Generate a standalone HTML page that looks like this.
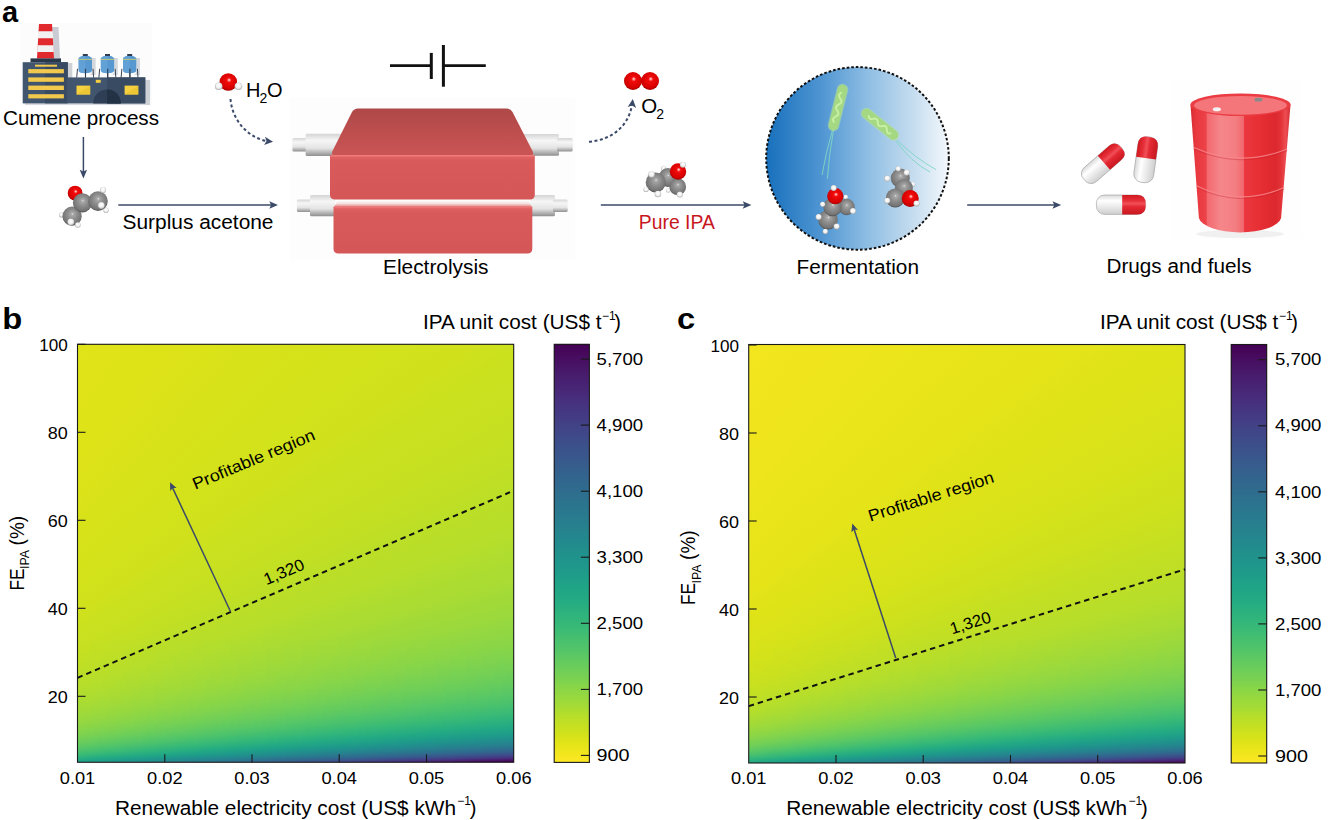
<!DOCTYPE html><html><head><meta charset="utf-8"><style>
html,body{margin:0;padding:0;background:#fff;}
body{width:1329px;height:820px;position:relative;overflow:hidden;font-family:"Liberation Sans",sans-serif;}
.abs{position:absolute;}
svg text{font-family:"Liberation Sans",sans-serif;}
</style></head><body>
<div class="abs" style="left:77.5px;top:344.3px;width:436.2px;height:418.0px;background:conic-gradient(from 0deg at -249.7px 439.7px, #ece51b 0.000deg,#eae51a 9.247deg,#e5e419 18.036deg,#e2e418 26.032deg,#dfe318 33.074deg,#dde318 39.147deg,#d8e219 44.329deg,#d5e21a 48.735deg,#d2e21b 52.484deg,#d0e11c 55.688deg,#cae11f 58.441deg,#c8e020 60.822deg,#c5e021 62.895deg,#c2df23 64.711deg,#bddf26 66.312deg,#bade28 67.732deg,#b8de29 68.999deg,#b5de2b 70.135deg,#b0dd2f 71.159deg,#addc30 72.086deg,#aadc32 72.928deg,#a8db34 73.697deg,#a2da37 74.401deg,#a0da39 75.048deg,#9dd93b 75.645deg,#9bd93c 76.197deg,#95d840 76.708deg,#93d741 77.184deg,#90d743 77.627deg,#8ed645 78.042deg,#8bd646 78.429deg,#86d549 78.793deg,#84d44b 79.135deg,#81d34d 79.456deg,#7fd34e 79.760deg,#7ad151 80.047deg,#77d153 80.318deg,#75d054 80.575deg,#73d056 80.818deg,#6ece58 81.050deg,#6ccd5a 81.270deg,#69cd5b 81.480deg,#67cc5c 81.680deg,#63cb5f 81.871deg,#60ca60 82.053deg,#5ec962 82.228deg,#5cc863 82.395deg,#58c765 82.555deg,#56c667 82.708deg,#54c568 82.855deg,#52c569 82.997deg,#4ec36b 83.133deg,#4cc26c 83.264deg,#4ac16d 83.390deg,#48c16e 83.511deg,#44bf70 83.628deg,#42be71 83.741deg,#40bd72 83.850deg,#3fbc73 83.955deg,#3dbc74 84.057deg,#3aba76 84.155deg,#38b977 84.250deg,#37b878 84.342deg,#35b779 84.432deg,#32b67a 84.518deg,#31b57b 84.602deg,#2fb47c 84.683deg,#2eb37c 84.762deg,#2cb17e 84.839deg,#2ab07f 84.913deg,#29af7f 84.985deg,#28ae80 85.056deg,#26ad81 85.124deg,#25ac82 85.191deg,#25ab82 85.255deg,#24aa83 85.318deg,#22a884 85.380deg,#22a785 85.439deg,#21a685 85.498deg,#21a585 85.554deg,#20a386 85.610deg,#1fa287 85.664deg,#1fa187 85.716deg,#1fa188 85.768deg,#1f9f88 85.818deg,#1f9e89 85.867deg,#1e9d89 85.915deg,#1e9c89 85.962deg,#1e9b8a 86.007deg,#1f998a 86.052deg,#1f988b 86.096deg,#1f978b 86.139deg,#1f968b 86.180deg,#1f948c 86.221deg,#20938c 86.262deg,#20928c 86.301deg,#20928c 86.339deg,#21908d 86.377deg,#218f8d 86.414deg,#218e8d 86.450deg,#228d8d 86.485deg,#228b8d 86.520deg,#238a8d 86.554deg,#23898e 86.587deg,#23888e 86.620deg,#24868e 86.652deg,#25858e 86.684deg,#25848e 86.715deg,#25838e 86.745deg,#26828e 86.775deg,#26818e 86.804deg,#27808e 86.833deg,#277f8e 86.861deg,#287d8e 86.889deg,#287c8e 86.916deg,#297b8e 86.943deg,#297a8e 86.969deg,#29798e 86.995deg,#2a778e 87.020deg,#2a768e 87.045deg,#2b758e 87.070deg,#2b748e 87.094deg,#2c728e 87.118deg,#2c718e 87.141deg,#2d718e 87.164deg,#2d708e 87.187deg,#2e6e8e 87.209deg,#2e6d8e 87.231deg,#2f6c8e 87.253deg,#2f6b8e 87.274deg,#30698e 87.295deg,#31688e 87.316deg,#31678e 87.336deg,#31668e 87.356deg,#32648e 87.376deg,#33638d 87.395deg,#33628d 87.414deg,#34618d 87.433deg,#355f8d 87.452deg,#355e8d 87.470deg,#365d8d 87.488deg,#365c8d 87.506deg,#375a8c 87.523deg,#38598c 87.541deg,#38588c 87.558deg,#39568c 87.574deg,#39558c 87.591deg,#3a538b 87.607deg,#3b528b 87.624deg,#3b518b 87.639deg,#3c508b 87.655deg,#3d4e8a 87.671deg,#3d4d8a 87.686deg,#3e4c8a 87.701deg,#3e4a89 87.716deg,#3f4889 87.731deg,#3f4788 87.745deg,#404688 87.760deg,#404588 87.774deg,#414287 87.788deg,#424186 87.802deg,#424086 87.815deg,#423f85 87.829deg,#433d84 87.842deg,#443b84 87.855deg,#443a83 87.868deg,#443983 87.881deg,#453781 87.894deg,#453581 87.906deg,#463480 87.919deg,#46337f 87.931deg,#46307e 87.943deg,#472f7d 87.955deg,#472e7c 87.967deg,#472d7b 87.978deg,#472c7a 87.990deg,#482979 88.001deg,#482878 88.013deg,#482677 88.024deg,#482576 88.035deg,#482374 88.046deg,#482173 88.056deg,#482071 88.067deg,#481f70 88.078deg,#481c6e 88.088deg,#481b6d 88.098deg,#481a6c 88.109deg,#48186a 88.119deg,#481668 88.129deg,#481467 88.139deg,#471365 88.148deg,#471164 88.158deg,#470e61 88.168deg,#470d60 88.177deg,#460b5e 88.187deg,#460a5d 88.196deg,#46075a 88.205deg,#450559 88.214deg,#450457 88.223deg,#440256 88.232deg,#440154 88.241deg,#440154 89.990deg,#440154 90deg)"></div><div class="abs" style="left:77.5px;top:640.0px;width:436.2px;height:122.3px;overflow:hidden"><div class="abs" style="left:0px;top:0;width:4px;height:100%;background:linear-gradient(#c8e020 0.00%,#c5e021 7.97%,#c2df23 15.40%,#c0df25 22.33%,#bade28 28.79%,#b8de29 34.81%,#b5de2b 40.42%,#b0dd2f 45.66%,#aadc32 50.54%,#a5db36 55.09%,#a0da39 59.33%,#9bd93c 63.28%,#95d840 66.97%,#8ed645 70.41%,#89d548 73.61%,#81d34d 76.60%,#77d153 79.38%,#70cf57 81.98%,#67cc5c 84.40%,#5ec962 86.66%,#56c667 88.76%,#4cc26c 90.72%,#42be71 92.55%,#38b977 94.26%,#2fb47c 95.85%,#27ad81 97.33%,#21a685 98.71%,#1f9f88 100.00%)"></div><div class="abs" style="left:4px;top:0;width:4px;height:100%;background:linear-gradient(#c8e020 0.00%,#c5e021 7.97%,#c2df23 15.40%,#bddf26 22.33%,#bade28 28.79%,#b8de29 34.81%,#b2dd2d 40.42%,#b0dd2f 45.66%,#aadc32 50.54%,#a5db36 55.09%,#a0da39 59.33%,#9bd93c 63.28%,#93d741 66.97%,#8ed645 70.41%,#86d549 73.61%,#7fd34e 76.60%,#77d153 79.38%,#6ece58 81.98%,#65cb5e 84.40%,#5cc863 86.66%,#54c568 88.76%,#4ac16d 90.72%,#40bd72 92.55%,#37b878 94.26%,#2eb37c 95.85%,#26ad81 97.33%,#21a585 98.71%,#1f9e89 100.00%)"></div><div class="abs" style="left:8px;top:0;width:4px;height:100%;background:linear-gradient(#c8e020 0.00%,#c5e021 7.97%,#c0df25 15.40%,#bddf26 22.33%,#bade28 28.79%,#b8de29 34.81%,#b2dd2d 40.42%,#addc30 45.66%,#aadc32 50.54%,#a5db36 55.09%,#a0da39 59.33%,#98d83e 63.28%,#93d741 66.97%,#8bd646 70.41%,#84d44b 73.61%,#7cd250 76.60%,#75d054 79.38%,#6ece58 81.98%,#65cb5e 84.40%,#5ac864 86.66%,#52c569 88.76%,#48c16e 90.72%,#3fbc73 92.55%,#35b779 94.26%,#2cb17e 95.85%,#25ab82 97.33%,#20a486 98.71%,#1e9d89 100.00%)"></div><div class="abs" style="left:12px;top:0;width:4px;height:100%;background:linear-gradient(#c5e021 0.00%,#c2df23 7.97%,#c0df25 15.40%,#bddf26 22.33%,#bade28 28.79%,#b5de2b 34.81%,#b2dd2d 40.42%,#addc30 45.66%,#a8db34 50.54%,#a2da37 55.09%,#9dd93b 59.33%,#98d83e 63.28%,#90d743 66.97%,#8bd646 70.41%,#84d44b 73.61%,#7cd250 76.60%,#73d056 79.38%,#6ccd5a 81.98%,#63cb5f 84.40%,#5ac864 86.66%,#50c46a 88.76%,#46c06f 90.72%,#3dbc74 92.55%,#34b679 94.26%,#2ab07f 95.85%,#24aa83 97.33%,#20a386 98.71%,#1e9b8a 100.00%)"></div><div class="abs" style="left:16px;top:0;width:4px;height:100%;background:linear-gradient(#c5e021 0.00%,#c2df23 7.97%,#c0df25 15.40%,#bddf26 22.33%,#b8de29 28.79%,#b5de2b 34.81%,#b0dd2f 40.42%,#addc30 45.66%,#a8db34 50.54%,#a2da37 55.09%,#9dd93b 59.33%,#95d840 63.28%,#90d743 66.97%,#89d548 70.41%,#81d34d 73.61%,#7ad151 76.60%,#73d056 79.38%,#69cd5b 81.98%,#60ca60 84.40%,#58c765 86.66%,#4ec36b 88.76%,#44bf70 90.72%,#3bbb75 92.55%,#32b67a 94.26%,#29af7f 95.85%,#23a983 97.33%,#1fa187 98.71%,#1f9a8a 100.00%)"></div><div class="abs" style="left:20px;top:0;width:4px;height:100%;background:linear-gradient(#c5e021 0.00%,#c2df23 7.97%,#c0df25 15.40%,#bade28 22.33%,#b8de29 28.79%,#b5de2b 34.81%,#b0dd2f 40.42%,#aadc32 45.66%,#a5db36 50.54%,#a0da39 55.09%,#9bd93c 59.33%,#95d840 63.28%,#8ed645 66.97%,#89d548 70.41%,#81d34d 73.61%,#7ad151 76.60%,#70cf57 79.38%,#67cc5c 81.98%,#5ec962 84.40%,#56c667 86.66%,#4cc26c 88.76%,#42be71 90.72%,#3aba76 92.55%,#31b57b 94.26%,#28ae80 95.85%,#22a884 97.33%,#1fa188 98.71%,#1f988b 100.00%)"></div><div class="abs" style="left:24px;top:0;width:4px;height:100%;background:linear-gradient(#c5e021 0.00%,#c2df23 7.97%,#bddf26 15.40%,#bade28 22.33%,#b8de29 28.79%,#b2dd2d 34.81%,#b0dd2f 40.42%,#aadc32 45.66%,#a5db36 50.54%,#a0da39 55.09%,#9bd93c 59.33%,#95d840 63.28%,#8ed645 66.97%,#86d549 70.41%,#7fd34e 73.61%,#77d153 76.60%,#70cf57 79.38%,#67cc5c 81.98%,#5ec962 84.40%,#54c568 86.66%,#4ac16d 88.76%,#40bd72 90.72%,#38b977 92.55%,#2eb37c 94.26%,#27ad81 95.85%,#22a785 97.33%,#1fa088 98.71%,#1f978b 100.00%)"></div><div class="abs" style="left:28px;top:0;width:4px;height:100%;background:linear-gradient(#c5e021 0.00%,#c0df25 7.97%,#bddf26 15.40%,#bade28 22.33%,#b8de29 28.79%,#b2dd2d 34.81%,#addc30 40.42%,#aadc32 45.66%,#a5db36 50.54%,#a0da39 55.09%,#98d83e 59.33%,#93d741 63.28%,#8bd646 66.97%,#86d549 70.41%,#7fd34e 73.61%,#75d054 76.60%,#6ece58 79.38%,#65cb5e 81.98%,#5cc863 84.40%,#52c569 86.66%,#4ac16d 88.76%,#3fbc73 90.72%,#37b878 92.55%,#2db27d 94.26%,#26ad81 95.85%,#21a585 97.33%,#1f9e89 98.71%,#1f968b 100.00%)"></div><div class="abs" style="left:32px;top:0;width:4px;height:100%;background:linear-gradient(#c2df23 0.00%,#c0df25 7.97%,#bddf26 15.40%,#bade28 22.33%,#b5de2b 28.79%,#b2dd2d 34.81%,#addc30 40.42%,#a8db34 45.66%,#a2da37 50.54%,#9dd93b 55.09%,#98d83e 59.33%,#93d741 63.28%,#8bd646 66.97%,#84d44b 70.41%,#7cd250 73.61%,#75d054 76.60%,#6ccd5a 79.38%,#63cb5f 81.98%,#5ac864 84.40%,#52c569 86.66%,#48c16e 88.76%,#3dbc74 90.72%,#35b779 92.55%,#2cb17e 94.26%,#25ac82 95.85%,#20a486 97.33%,#1e9d89 98.71%,#1f948c 100.00%)"></div><div class="abs" style="left:36px;top:0;width:4px;height:100%;background:linear-gradient(#c2df23 0.00%,#c0df25 7.97%,#bddf26 15.40%,#b8de29 22.33%,#b5de2b 28.79%,#b0dd2f 34.81%,#addc30 40.42%,#a8db34 45.66%,#a2da37 50.54%,#9dd93b 55.09%,#98d83e 59.33%,#90d743 63.28%,#89d548 66.97%,#84d44b 70.41%,#7cd250 73.61%,#73d056 76.60%,#6ccd5a 79.38%,#63cb5f 81.98%,#58c765 84.40%,#50c46a 86.66%,#46c06f 88.76%,#3dbc74 90.72%,#34b679 92.55%,#2ab07f 94.26%,#24aa83 95.85%,#20a386 97.33%,#1e9c89 98.71%,#20938c 100.00%)"></div><div class="abs" style="left:40px;top:0;width:4px;height:100%;background:linear-gradient(#c2df23 0.00%,#c0df25 7.97%,#bddf26 15.40%,#b8de29 22.33%,#b5de2b 28.79%,#b0dd2f 34.81%,#aadc32 40.42%,#a8db34 45.66%,#a2da37 50.54%,#9bd93c 55.09%,#95d840 59.33%,#90d743 63.28%,#89d548 66.97%,#81d34d 70.41%,#7ad151 73.61%,#73d056 76.60%,#69cd5b 79.38%,#60ca60 81.98%,#58c765 84.40%,#4ec36b 86.66%,#44bf70 88.76%,#3bbb75 90.72%,#32b67a 92.55%,#29af7f 94.26%,#23a983 95.85%,#1fa287 97.33%,#1f9a8a 98.71%,#20928c 100.00%)"></div><div class="abs" style="left:44px;top:0;width:4px;height:100%;background:linear-gradient(#c2df23 0.00%,#c0df25 7.97%,#bade28 15.40%,#b8de29 22.33%,#b2dd2d 28.79%,#b0dd2f 34.81%,#aadc32 40.42%,#a5db36 45.66%,#a0da39 50.54%,#9bd93c 55.09%,#95d840 59.33%,#8ed645 63.28%,#89d548 66.97%,#81d34d 70.41%,#77d153 73.61%,#70cf57 76.60%,#67cc5c 79.38%,#5ec962 81.98%,#56c667 84.40%,#4cc26c 86.66%,#42be71 88.76%,#3aba76 90.72%,#31b57b 92.55%,#28ae80 94.26%,#22a884 95.85%,#1fa188 97.33%,#1f998a 98.71%,#21918c 100.00%)"></div><div class="abs" style="left:48px;top:0;width:4px;height:100%;background:linear-gradient(#c2df23 0.00%,#bddf26 7.97%,#bade28 15.40%,#b8de29 22.33%,#b2dd2d 28.79%,#addc30 34.81%,#aadc32 40.42%,#a5db36 45.66%,#a0da39 50.54%,#9bd93c 55.09%,#93d741 59.33%,#8ed645 63.28%,#86d549 66.97%,#7fd34e 70.41%,#77d153 73.61%,#6ece58 76.60%,#67cc5c 79.38%,#5ec962 81.98%,#54c568 84.40%,#4ac16d 86.66%,#40bd72 88.76%,#38b977 90.72%,#2fb47c 92.55%,#27ad81 94.26%,#22a785 95.85%,#1fa088 97.33%,#1f988b 98.71%,#21908d 100.00%)"></div><div class="abs" style="left:52px;top:0;width:4px;height:100%;background:linear-gradient(#c0df25 0.00%,#bddf26 7.97%,#bade28 15.40%,#b5de2b 22.33%,#b2dd2d 28.79%,#addc30 34.81%,#a8db34 40.42%,#a5db36 45.66%,#9dd93b 50.54%,#98d83e 55.09%,#93d741 59.33%,#8bd646 63.28%,#86d549 66.97%,#7fd34e 70.41%,#75d054 73.61%,#6ece58 76.60%,#65cb5e 79.38%,#5cc863 81.98%,#52c569 84.40%,#4ac16d 86.66%,#3fbc73 88.76%,#37b878 90.72%,#2eb37c 92.55%,#26ad81 94.26%,#21a685 95.85%,#1f9f88 97.33%,#1f968b 98.71%,#218e8d 100.00%)"></div><div class="abs" style="left:56px;top:0;width:4px;height:100%;background:linear-gradient(#c0df25 0.00%,#bddf26 7.97%,#bade28 15.40%,#b5de2b 22.33%,#b2dd2d 28.79%,#addc30 34.81%,#a8db34 40.42%,#a2da37 45.66%,#9dd93b 50.54%,#98d83e 55.09%,#90d743 59.33%,#8bd646 63.28%,#84d44b 66.97%,#7cd250 70.41%,#75d054 73.61%,#6ccd5a 76.60%,#63cb5f 79.38%,#5ac864 81.98%,#52c569 84.40%,#48c16e 86.66%,#3fbc73 88.76%,#35b779 90.72%,#2db27d 92.55%,#25ac82 94.26%,#21a585 95.85%,#1f9e89 97.33%,#1f958b 98.71%,#228d8d 100.00%)"></div><div class="abs" style="left:60px;top:0;width:4px;height:100%;background:linear-gradient(#c0df25 0.00%,#bddf26 7.97%,#b8de29 15.40%,#b5de2b 22.33%,#b0dd2f 28.79%,#addc30 34.81%,#a8db34 40.42%,#a2da37 45.66%,#9dd93b 50.54%,#95d840 55.09%,#90d743 59.33%,#89d548 63.28%,#84d44b 66.97%,#7ad151 70.41%,#73d056 73.61%,#6ccd5a 76.60%,#63cb5f 79.38%,#5ac864 81.98%,#50c46a 84.40%,#46c06f 86.66%,#3dbc74 88.76%,#34b679 90.72%,#2cb17e 92.55%,#25ab82 94.26%,#20a486 95.85%,#1e9d89 97.33%,#1f948c 98.71%,#228b8d 100.00%)"></div><div class="abs" style="left:64px;top:0;width:4px;height:100%;background:linear-gradient(#c0df25 0.00%,#bade28 7.97%,#b8de29 15.40%,#b5de2b 22.33%,#b0dd2f 28.79%,#aadc32 34.81%,#a5db36 40.42%,#a0da39 45.66%,#9bd93c 50.54%,#95d840 55.09%,#90d743 59.33%,#89d548 63.28%,#81d34d 66.97%,#7ad151 70.41%,#73d056 73.61%,#69cd5b 76.60%,#60ca60 79.38%,#58c765 81.98%,#4ec36b 84.40%,#44bf70 86.66%,#3bbb75 88.76%,#32b67a 90.72%,#2ab07f 92.55%,#24aa83 94.26%,#1fa287 95.85%,#1e9b8a 97.33%,#20938c 98.71%,#238a8d 100.00%)"></div><div class="abs" style="left:68px;top:0;width:4px;height:100%;background:linear-gradient(#bddf26 0.00%,#bade28 7.97%,#b8de29 15.40%,#b2dd2d 22.33%,#b0dd2f 28.79%,#aadc32 34.81%,#a5db36 40.42%,#a0da39 45.66%,#9bd93c 50.54%,#95d840 55.09%,#8ed645 59.33%,#86d549 63.28%,#81d34d 66.97%,#77d153 70.41%,#70cf57 73.61%,#67cc5c 76.60%,#5ec962 79.38%,#56c667 81.98%,#4cc26c 84.40%,#42be71 86.66%,#3aba76 88.76%,#31b57b 90.72%,#29af7f 92.55%,#23a983 94.26%,#1fa187 95.85%,#1f9a8a 97.33%,#20928c 98.71%,#23898e 100.00%)"></div><div class="abs" style="left:72px;top:0;width:4px;height:100%;background:linear-gradient(#bddf26 0.00%,#bade28 7.97%,#b8de29 15.40%,#b2dd2d 22.33%,#addc30 28.79%,#aadc32 34.81%,#a5db36 40.42%,#a0da39 45.66%,#9bd93c 50.54%,#93d741 55.09%,#8ed645 59.33%,#86d549 63.28%,#7fd34e 66.97%,#77d153 70.41%,#6ece58 73.61%,#67cc5c 76.60%,#5ec962 79.38%,#54c568 81.98%,#4cc26c 84.40%,#42be71 86.66%,#38b977 88.76%,#2fb47c 90.72%,#28ae80 92.55%,#22a884 94.26%,#1fa188 95.85%,#1f998a 97.33%,#21918c 98.71%,#24878e 100.00%)"></div><div class="abs" style="left:76px;top:0;width:4px;height:100%;background:linear-gradient(#bddf26 0.00%,#bade28 7.97%,#b5de2b 15.40%,#b2dd2d 22.33%,#addc30 28.79%,#a8db34 34.81%,#a2da37 40.42%,#9dd93b 45.66%,#98d83e 50.54%,#93d741 55.09%,#8bd646 59.33%,#86d549 63.28%,#7fd34e 66.97%,#75d054 70.41%,#6ece58 73.61%,#65cb5e 76.60%,#5cc863 79.38%,#54c568 81.98%,#4ac16d 84.40%,#40bd72 86.66%,#37b878 88.76%,#2eb37c 90.72%,#27ad81 92.55%,#22a785 94.26%,#1fa088 95.85%,#1f988b 97.33%,#21908d 98.71%,#24868e 100.00%)"></div><div class="abs" style="left:80px;top:0;width:4px;height:100%;background:linear-gradient(#bddf26 0.00%,#b8de29 7.97%,#b5de2b 15.40%,#b2dd2d 22.33%,#addc30 28.79%,#a8db34 34.81%,#a2da37 40.42%,#9dd93b 45.66%,#98d83e 50.54%,#90d743 55.09%,#8bd646 59.33%,#84d44b 63.28%,#7cd250 66.97%,#75d054 70.41%,#6ccd5a 73.61%,#65cb5e 76.60%,#5ac864 79.38%,#52c569 81.98%,#48c16e 84.40%,#3fbc73 86.66%,#35b779 88.76%,#2db27d 90.72%,#26ad81 92.55%,#21a685 94.26%,#1f9f88 95.85%,#1f968b 97.33%,#218e8d 98.71%,#25848e 100.00%)"></div><div class="abs" style="left:84px;top:0;width:4px;height:100%;background:linear-gradient(#bddf26 0.00%,#b8de29 7.97%,#b5de2b 15.40%,#b0dd2f 22.33%,#addc30 28.79%,#a8db34 34.81%,#a2da37 40.42%,#9dd93b 45.66%,#98d83e 50.54%,#90d743 55.09%,#89d548 59.33%,#84d44b 63.28%,#7cd250 66.97%,#73d056 70.41%,#6ccd5a 73.61%,#63cb5f 76.60%,#5ac864 79.38%,#50c46a 81.98%,#46c06f 84.40%,#3dbc74 86.66%,#35b779 88.76%,#2cb17e 90.72%,#25ac82 92.55%,#21a585 94.26%,#1f9e89 95.85%,#1f958b 97.33%,#228d8d 98.71%,#25838e 100.00%)"></div><div class="abs" style="left:88px;top:0;width:4px;height:100%;background:linear-gradient(#bade28 0.00%,#b8de29 7.97%,#b5de2b 15.40%,#b0dd2f 22.33%,#aadc32 28.79%,#a5db36 34.81%,#a2da37 40.42%,#9bd93c 45.66%,#95d840 50.54%,#90d743 55.09%,#89d548 59.33%,#81d34d 63.28%,#7ad151 66.97%,#73d056 70.41%,#69cd5b 73.61%,#60ca60 76.60%,#58c765 79.38%,#50c46a 81.98%,#46c06f 84.40%,#3bbb75 86.66%,#34b679 88.76%,#2cb17e 90.72%,#25ab82 92.55%,#20a486 94.26%,#1e9d89 95.85%,#1f948c 97.33%,#228c8d 98.71%,#26828e 100.00%)"></div><div class="abs" style="left:92px;top:0;width:4px;height:100%;background:linear-gradient(#bade28 0.00%,#b8de29 7.97%,#b2dd2d 15.40%,#b0dd2f 22.33%,#aadc32 28.79%,#a5db36 34.81%,#a0da39 40.42%,#9bd93c 45.66%,#95d840 50.54%,#8ed645 55.09%,#89d548 59.33%,#81d34d 63.28%,#7ad151 66.97%,#70cf57 70.41%,#69cd5b 73.61%,#60ca60 76.60%,#56c667 79.38%,#4ec36b 81.98%,#44bf70 84.40%,#3bbb75 86.66%,#32b67a 88.76%,#2ab07f 90.72%,#24aa83 92.55%,#1fa287 94.26%,#1e9b8a 95.85%,#20938c 97.33%,#238a8d 98.71%,#26818e 100.00%)"></div><div class="abs" style="left:96px;top:0;width:4px;height:100%;background:linear-gradient(#bade28 0.00%,#b8de29 7.97%,#b2dd2d 15.40%,#addc30 22.33%,#aadc32 28.79%,#a5db36 34.81%,#a0da39 40.42%,#9bd93c 45.66%,#93d741 50.54%,#8ed645 55.09%,#86d549 59.33%,#7fd34e 63.28%,#77d153 66.97%,#70cf57 70.41%,#67cc5c 73.61%,#5ec962 76.60%,#56c667 79.38%,#4cc26c 81.98%,#42be71 84.40%,#3aba76 86.66%,#31b57b 88.76%,#29af7f 90.72%,#23a983 92.55%,#1fa187 94.26%,#1f9a8a 95.85%,#20928c 97.33%,#23898e 98.71%,#27808e 100.00%)"></div><div class="abs" style="left:100px;top:0;width:4px;height:100%;background:linear-gradient(#bade28 0.00%,#b5de2b 7.97%,#b2dd2d 15.40%,#addc30 22.33%,#a8db34 28.79%,#a5db36 34.81%,#a0da39 40.42%,#98d83e 45.66%,#93d741 50.54%,#8bd646 55.09%,#86d549 59.33%,#7fd34e 63.28%,#77d153 66.97%,#6ece58 70.41%,#67cc5c 73.61%,#5ec962 76.60%,#54c568 79.38%,#4cc26c 81.98%,#40bd72 84.40%,#38b977 86.66%,#2fb47c 88.76%,#28ae80 90.72%,#22a884 92.55%,#1fa188 94.26%,#1f998a 95.85%,#21918c 97.33%,#23888e 98.71%,#277e8e 100.00%)"></div><div class="abs" style="left:104px;top:0;width:4px;height:100%;background:linear-gradient(#bade28 0.00%,#b5de2b 7.97%,#b2dd2d 15.40%,#addc30 22.33%,#a8db34 28.79%,#a2da37 34.81%,#9dd93b 40.42%,#98d83e 45.66%,#93d741 50.54%,#8bd646 55.09%,#84d44b 59.33%,#7cd250 63.28%,#75d054 66.97%,#6ece58 70.41%,#65cb5e 73.61%,#5cc863 76.60%,#54c568 79.38%,#4ac16d 81.98%,#40bd72 84.40%,#37b878 86.66%,#2eb37c 88.76%,#27ad81 90.72%,#22a785 92.55%,#1fa088 94.26%,#1f988b 95.85%,#21908d 97.33%,#24868e 98.71%,#287d8e 100.00%)"></div><div class="abs" style="left:108px;top:0;width:4px;height:100%;background:linear-gradient(#b8de29 0.00%,#b5de2b 7.97%,#b0dd2f 15.40%,#addc30 22.33%,#a8db34 28.79%,#a2da37 34.81%,#9dd93b 40.42%,#98d83e 45.66%,#90d743 50.54%,#8bd646 55.09%,#84d44b 59.33%,#7cd250 63.28%,#75d054 66.97%,#6ccd5a 70.41%,#63cb5f 73.61%,#5ac864 76.60%,#52c569 79.38%,#48c16e 81.98%,#3fbc73 84.40%,#35b779 86.66%,#2db27d 88.76%,#26ad81 90.72%,#21a685 92.55%,#1f9f88 94.26%,#1f978b 95.85%,#218f8d 97.33%,#25858e 98.71%,#297b8e 100.00%)"></div><div class="abs" style="left:112px;top:0;width:4px;height:100%;background:linear-gradient(#b8de29 0.00%,#b5de2b 7.97%,#b0dd2f 15.40%,#aadc32 22.33%,#a8db34 28.79%,#a2da37 34.81%,#9dd93b 40.42%,#95d840 45.66%,#90d743 50.54%,#89d548 55.09%,#81d34d 59.33%,#7ad151 63.28%,#73d056 66.97%,#6ccd5a 70.41%,#63cb5f 73.61%,#5ac864 76.60%,#50c46a 79.38%,#46c06f 81.98%,#3dbc74 84.40%,#35b779 86.66%,#2db27d 88.76%,#25ac82 90.72%,#21a585 92.55%,#1f9e89 94.26%,#1f968b 95.85%,#218e8d 97.33%,#25848e 98.71%,#297a8e 100.00%)"></div><div class="abs" style="left:116px;top:0;width:4px;height:100%;background:linear-gradient(#b8de29 0.00%,#b2dd2d 7.97%,#b0dd2f 15.40%,#aadc32 22.33%,#a5db36 28.79%,#a0da39 34.81%,#9bd93c 40.42%,#95d840 45.66%,#90d743 50.54%,#89d548 55.09%,#81d34d 59.33%,#7ad151 63.28%,#73d056 66.97%,#69cd5b 70.41%,#60ca60 73.61%,#58c765 76.60%,#50c46a 79.38%,#46c06f 81.98%,#3dbc74 84.40%,#34b679 86.66%,#2cb17e 88.76%,#25ab82 90.72%,#20a486 92.55%,#1e9d89 94.26%,#1f958b 95.85%,#228c8d 97.33%,#26828e 98.71%,#29798e 100.00%)"></div><div class="abs" style="left:120px;top:0;width:4px;height:100%;background:linear-gradient(#b8de29 0.00%,#b2dd2d 7.97%,#b0dd2f 15.40%,#aadc32 22.33%,#a5db36 28.79%,#a0da39 34.81%,#9bd93c 40.42%,#95d840 45.66%,#8ed645 50.54%,#86d549 55.09%,#81d34d 59.33%,#7ad151 63.28%,#70cf57 66.97%,#69cd5b 70.41%,#60ca60 73.61%,#56c667 76.60%,#4ec36b 79.38%,#44bf70 81.98%,#3bbb75 84.40%,#32b67a 86.66%,#2ab07f 88.76%,#24aa83 90.72%,#20a386 92.55%,#1e9c89 94.26%,#20938c 95.85%,#228b8d 97.33%,#26828e 98.71%,#2a778e 100.00%)"></div><div class="abs" style="left:124px;top:0;width:4px;height:100%;background:linear-gradient(#b5de2b 0.00%,#b2dd2d 7.97%,#addc30 15.40%,#aadc32 22.33%,#a5db36 28.79%,#a0da39 34.81%,#9bd93c 40.42%,#93d741 45.66%,#8ed645 50.54%,#86d549 55.09%,#7fd34e 59.33%,#77d153 63.28%,#70cf57 66.97%,#67cc5c 70.41%,#5ec962 73.61%,#56c667 76.60%,#4cc26c 79.38%,#42be71 81.98%,#3aba76 84.40%,#31b57b 86.66%,#29af7f 88.76%,#23a983 90.72%,#1fa287 92.55%,#1e9b8a 94.26%,#20928c 95.85%,#238a8d 97.33%,#26818e 98.71%,#2a768e 100.00%)"></div><div class="abs" style="left:128px;top:0;width:4px;height:100%;background:linear-gradient(#b5de2b 0.00%,#b2dd2d 7.97%,#addc30 15.40%,#a8db34 22.33%,#a5db36 28.79%,#9dd93b 34.81%,#98d83e 40.42%,#93d741 45.66%,#8bd646 50.54%,#86d549 55.09%,#7fd34e 59.33%,#77d153 63.28%,#6ece58 66.97%,#67cc5c 70.41%,#5ec962 73.61%,#54c568 76.60%,#4cc26c 79.38%,#42be71 81.98%,#38b977 84.40%,#2fb47c 86.66%,#28ae80 88.76%,#22a884 90.72%,#1fa187 92.55%,#1f9a8a 94.26%,#20928c 95.85%,#23898e 97.33%,#27808e 98.71%,#2b748e 100.00%)"></div><div class="abs" style="left:132px;top:0;width:4px;height:100%;background:linear-gradient(#b5de2b 0.00%,#b2dd2d 7.97%,#addc30 15.40%,#a8db34 22.33%,#a2da37 28.79%,#9dd93b 34.81%,#98d83e 40.42%,#93d741 45.66%,#8bd646 50.54%,#84d44b 55.09%,#7cd250 59.33%,#75d054 63.28%,#6ece58 66.97%,#65cb5e 70.41%,#5cc863 73.61%,#54c568 76.60%,#4ac16d 79.38%,#40bd72 81.98%,#38b977 84.40%,#2fb47c 86.66%,#27ad81 88.76%,#22a785 90.72%,#1fa188 92.55%,#1f998a 94.26%,#21918c 95.85%,#23888e 97.33%,#277e8e 98.71%,#2c738e 100.00%)"></div><div class="abs" style="left:136px;top:0;width:4px;height:100%;background:linear-gradient(#b5de2b 0.00%,#b0dd2f 7.97%,#addc30 15.40%,#a8db34 22.33%,#a2da37 28.79%,#9dd93b 34.81%,#98d83e 40.42%,#90d743 45.66%,#8bd646 50.54%,#84d44b 55.09%,#7cd250 59.33%,#75d054 63.28%,#6ccd5a 66.97%,#63cb5f 70.41%,#5ac864 73.61%,#52c569 76.60%,#48c16e 79.38%,#3fbc73 81.98%,#37b878 84.40%,#2eb37c 86.66%,#26ad81 88.76%,#21a685 90.72%,#1fa088 92.55%,#1f988b 94.26%,#21908d 95.85%,#24868e 97.33%,#287d8e 98.71%,#2c728e 100.00%)"></div><div class="abs" style="left:140px;top:0;width:4px;height:100%;background:linear-gradient(#b5de2b 0.00%,#b0dd2f 7.97%,#aadc32 15.40%,#a8db34 22.33%,#a2da37 28.79%,#9dd93b 34.81%,#95d840 40.42%,#90d743 45.66%,#89d548 50.54%,#84d44b 55.09%,#7ad151 59.33%,#73d056 63.28%,#6ccd5a 66.97%,#63cb5f 70.41%,#5ac864 73.61%,#50c46a 76.60%,#48c16e 79.38%,#3fbc73 81.98%,#35b779 84.40%,#2db27d 86.66%,#26ad81 88.76%,#21a685 90.72%,#1f9f88 92.55%,#1f978b 94.26%,#218f8d 95.85%,#25858e 97.33%,#287c8e 98.71%,#2d718e 100.00%)"></div><div class="abs" style="left:144px;top:0;width:4px;height:100%;background:linear-gradient(#b2dd2d 0.00%,#b0dd2f 7.97%,#aadc32 15.40%,#a5db36 22.33%,#a0da39 28.79%,#9bd93c 34.81%,#95d840 40.42%,#90d743 45.66%,#89d548 50.54%,#81d34d 55.09%,#7ad151 59.33%,#73d056 63.28%,#69cd5b 66.97%,#60ca60 70.41%,#58c765 73.61%,#50c46a 76.60%,#46c06f 79.38%,#3dbc74 81.98%,#34b679 84.40%,#2cb17e 86.66%,#25ac82 88.76%,#21a585 90.72%,#1f9e89 92.55%,#1f968b 94.26%,#218e8d 95.85%,#25848e 97.33%,#297a8e 98.71%,#2d708e 100.00%)"></div><div class="abs" style="left:148px;top:0;width:4px;height:100%;background:linear-gradient(#b2dd2d 0.00%,#b0dd2f 7.97%,#aadc32 15.40%,#a5db36 22.33%,#a0da39 28.79%,#9bd93c 34.81%,#95d840 40.42%,#8ed645 45.66%,#89d548 50.54%,#81d34d 55.09%,#7ad151 59.33%,#70cf57 63.28%,#69cd5b 66.97%,#60ca60 70.41%,#58c765 73.61%,#4ec36b 76.60%,#44bf70 79.38%,#3bbb75 81.98%,#34b679 84.40%,#2ab07f 86.66%,#25ab82 88.76%,#20a486 90.72%,#1e9d89 92.55%,#1f958b 94.26%,#228d8d 95.85%,#25838e 97.33%,#29798e 98.71%,#2e6e8e 100.00%)"></div><div class="abs" style="left:152px;top:0;width:4px;height:100%;background:linear-gradient(#b2dd2d 0.00%,#addc30 7.97%,#aadc32 15.40%,#a5db36 22.33%,#a0da39 28.79%,#9bd93c 34.81%,#93d741 40.42%,#8ed645 45.66%,#86d549 50.54%,#7fd34e 55.09%,#77d153 59.33%,#70cf57 63.28%,#67cc5c 66.97%,#5ec962 70.41%,#56c667 73.61%,#4ec36b 76.60%,#44bf70 79.38%,#3aba76 81.98%,#32b67a 84.40%,#2ab07f 86.66%,#24aa83 88.76%,#20a386 90.72%,#1e9c89 92.55%,#1f948c 94.26%,#228b8d 95.85%,#26828e 97.33%,#2a788e 98.71%,#2e6d8e 100.00%)"></div><div class="abs" style="left:156px;top:0;width:4px;height:100%;background:linear-gradient(#b2dd2d 0.00%,#addc30 7.97%,#a8db34 15.40%,#a5db36 22.33%,#a0da39 28.79%,#98d83e 34.81%,#93d741 40.42%,#8ed645 45.66%,#86d549 50.54%,#7fd34e 55.09%,#77d153 59.33%,#6ece58 63.28%,#67cc5c 66.97%,#5ec962 70.41%,#56c667 73.61%,#4cc26c 76.60%,#42be71 79.38%,#3aba76 81.98%,#31b57b 84.40%,#29af7f 86.66%,#23a983 88.76%,#1fa287 90.72%,#1e9b8a 92.55%,#20928c 94.26%,#238a8d 95.85%,#26818e 97.33%,#2a768e 98.71%,#2f6c8e 100.00%)"></div><div class="abs" style="left:160px;top:0;width:4px;height:100%;background:linear-gradient(#b2dd2d 0.00%,#addc30 7.97%,#a8db34 15.40%,#a2da37 22.33%,#9dd93b 28.79%,#98d83e 34.81%,#93d741 40.42%,#8bd646 45.66%,#84d44b 50.54%,#7fd34e 55.09%,#75d054 59.33%,#6ece58 63.28%,#65cb5e 66.97%,#5cc863 70.41%,#54c568 73.61%,#4ac16d 76.60%,#40bd72 79.38%,#38b977 81.98%,#2fb47c 84.40%,#28ae80 86.66%,#22a884 88.76%,#1fa187 90.72%,#1f9a8a 92.55%,#20928c 94.26%,#23898e 95.85%,#27808e 97.33%,#2b758e 98.71%,#306a8e 100.00%)"></div><div class="abs" style="left:164px;top:0;width:4px;height:100%;background:linear-gradient(#b0dd2f 0.00%,#addc30 7.97%,#a8db34 15.40%,#a2da37 22.33%,#9dd93b 28.79%,#98d83e 34.81%,#90d743 40.42%,#8bd646 45.66%,#84d44b 50.54%,#7cd250 55.09%,#75d054 59.33%,#6ccd5a 63.28%,#65cb5e 66.97%,#5cc863 70.41%,#52c569 73.61%,#4ac16d 76.60%,#40bd72 79.38%,#37b878 81.98%,#2fb47c 84.40%,#27ad81 86.66%,#22a785 88.76%,#1fa188 90.72%,#1f998a 92.55%,#21918c 94.26%,#23888e 95.85%,#277f8e 97.33%,#2b748e 98.71%,#30698e 100.00%)"></div><div class="abs" style="left:168px;top:0;width:4px;height:100%;background:linear-gradient(#b0dd2f 0.00%,#addc30 7.97%,#a8db34 15.40%,#a2da37 22.33%,#9dd93b 28.79%,#95d840 34.81%,#90d743 40.42%,#89d548 45.66%,#84d44b 50.54%,#7cd250 55.09%,#73d056 59.33%,#6ccd5a 63.28%,#63cb5f 66.97%,#5ac864 70.41%,#52c569 73.61%,#48c16e 76.60%,#3fbc73 79.38%,#37b878 81.98%,#2eb37c 84.40%,#26ad81 86.66%,#22a785 88.76%,#1fa088 90.72%,#1f988b 92.55%,#21908d 94.26%,#24878e 95.85%,#277e8e 97.33%,#2c728e 98.71%,#31678e 100.00%)"></div><div class="abs" style="left:172px;top:0;width:4px;height:100%;background:linear-gradient(#b0dd2f 0.00%,#aadc32 7.97%,#a5db36 15.40%,#a2da37 22.33%,#9bd93c 28.79%,#95d840 34.81%,#90d743 40.42%,#89d548 45.66%,#81d34d 50.54%,#7ad151 55.09%,#73d056 59.33%,#6ccd5a 63.28%,#63cb5f 66.97%,#5ac864 70.41%,#50c46a 73.61%,#48c16e 76.60%,#3dbc74 79.38%,#35b779 81.98%,#2db27d 84.40%,#26ad81 86.66%,#21a685 88.76%,#1f9f88 90.72%,#1f978b 92.55%,#218f8d 94.26%,#24868e 95.85%,#287c8e 97.33%,#2c718e 98.71%,#31668e 100.00%)"></div><div class="abs" style="left:176px;top:0;width:4px;height:100%;background:linear-gradient(#b0dd2f 0.00%,#aadc32 7.97%,#a5db36 15.40%,#a0da39 22.33%,#9bd93c 28.79%,#95d840 34.81%,#8ed645 40.42%,#89d548 45.66%,#81d34d 50.54%,#7ad151 55.09%,#73d056 59.33%,#69cd5b 63.28%,#60ca60 66.97%,#58c765 70.41%,#50c46a 73.61%,#46c06f 76.60%,#3dbc74 79.38%,#34b679 81.98%,#2cb17e 84.40%,#25ac82 86.66%,#21a585 88.76%,#1f9e89 90.72%,#1f968b 92.55%,#218e8d 94.26%,#25858e 95.85%,#297b8e 97.33%,#2d718e 98.71%,#32658e 100.00%)"></div><div class="abs" style="left:180px;top:0;width:4px;height:100%;background:linear-gradient(#b0dd2f 0.00%,#aadc32 7.97%,#a5db36 15.40%,#a0da39 22.33%,#9bd93c 28.79%,#95d840 34.81%,#8ed645 40.42%,#86d549 45.66%,#81d34d 50.54%,#7ad151 55.09%,#70cf57 59.33%,#69cd5b 63.28%,#60ca60 66.97%,#58c765 70.41%,#4ec36b 73.61%,#44bf70 76.60%,#3bbb75 79.38%,#34b679 81.98%,#2cb17e 84.40%,#25ab82 86.66%,#20a486 88.76%,#1e9d89 90.72%,#1f958b 92.55%,#228d8d 94.26%,#25838e 95.85%,#297a8e 97.33%,#2d708e 98.71%,#33638d 100.00%)"></div><div class="abs" style="left:184px;top:0;width:4px;height:100%;background:linear-gradient(#addc30 0.00%,#aadc32 7.97%,#a5db36 15.40%,#a0da39 22.33%,#9bd93c 28.79%,#93d741 34.81%,#8ed645 40.42%,#86d549 45.66%,#7fd34e 50.54%,#77d153 55.09%,#70cf57 59.33%,#67cc5c 63.28%,#5ec962 66.97%,#56c667 70.41%,#4ec36b 73.61%,#44bf70 76.60%,#3bbb75 79.38%,#32b67a 81.98%,#2ab07f 84.40%,#24aa83 86.66%,#20a386 88.76%,#1e9c89 90.72%,#1f948c 92.55%,#228c8d 94.26%,#26828e 95.85%,#29798e 97.33%,#2e6e8e 98.71%,#33628d 100.00%)"></div><div class="abs" style="left:188px;top:0;width:4px;height:100%;background:linear-gradient(#addc30 0.00%,#a8db34 7.97%,#a2da37 15.40%,#9dd93b 22.33%,#98d83e 28.79%,#93d741 34.81%,#8bd646 40.42%,#86d549 45.66%,#7fd34e 50.54%,#77d153 55.09%,#6ece58 59.33%,#67cc5c 63.28%,#5ec962 66.97%,#56c667 70.41%,#4cc26c 73.61%,#42be71 76.60%,#3aba76 79.38%,#31b57b 81.98%,#29af7f 84.40%,#23a983 86.66%,#1fa287 88.76%,#1e9b8a 90.72%,#20938c 92.55%,#228b8d 94.26%,#26828e 95.85%,#2a778e 97.33%,#2e6d8e 98.71%,#34608d 100.00%)"></div><div class="abs" style="left:192px;top:0;width:4px;height:100%;background:linear-gradient(#addc30 0.00%,#a8db34 7.97%,#a2da37 15.40%,#9dd93b 22.33%,#98d83e 28.79%,#93d741 34.81%,#8bd646 40.42%,#84d44b 45.66%,#7cd250 50.54%,#75d054 55.09%,#6ece58 59.33%,#65cb5e 63.28%,#5cc863 66.97%,#54c568 70.41%,#4cc26c 73.61%,#42be71 76.60%,#38b977 79.38%,#2fb47c 81.98%,#28ae80 84.40%,#23a983 86.66%,#1fa187 88.76%,#1e9b8a 90.72%,#20928c 92.55%,#238a8d 94.26%,#26818e 95.85%,#2a768e 97.33%,#2f6c8e 98.71%,#355f8d 100.00%)"></div><div class="abs" style="left:196px;top:0;width:4px;height:100%;background:linear-gradient(#addc30 0.00%,#a8db34 7.97%,#a2da37 15.40%,#9dd93b 22.33%,#98d83e 28.79%,#90d743 34.81%,#8bd646 40.42%,#84d44b 45.66%,#7cd250 50.54%,#75d054 55.09%,#6ece58 59.33%,#65cb5e 63.28%,#5cc863 66.97%,#54c568 70.41%,#4ac16d 73.61%,#40bd72 76.60%,#38b977 79.38%,#2fb47c 81.98%,#28ae80 84.40%,#22a884 86.66%,#1fa188 88.76%,#1f9a8a 90.72%,#20928c 92.55%,#23898e 94.26%,#27808e 95.85%,#2b758e 97.33%,#306a8e 98.71%,#355e8d 100.00%)"></div><div class="abs" style="left:200px;top:0;width:4px;height:100%;background:linear-gradient(#aadc32 0.00%,#a8db34 7.97%,#a2da37 15.40%,#9dd93b 22.33%,#95d840 28.79%,#90d743 34.81%,#89d548 40.42%,#84d44b 45.66%,#7cd250 50.54%,#75d054 55.09%,#6ccd5a 59.33%,#63cb5f 63.28%,#5ac864 66.97%,#52c569 70.41%,#48c16e 73.61%,#3fbc73 76.60%,#37b878 79.38%,#2eb37c 81.98%,#27ad81 84.40%,#22a785 86.66%,#1fa188 88.76%,#1f998a 90.72%,#21918c 92.55%,#23888e 94.26%,#277f8e 95.85%,#2b748e 97.33%,#30698e 98.71%,#365c8d 100.00%)"></div><div class="abs" style="left:204px;top:0;width:4px;height:100%;background:linear-gradient(#aadc32 0.00%,#a5db36 7.97%,#a2da37 15.40%,#9bd93c 22.33%,#95d840 28.79%,#90d743 34.81%,#89d548 40.42%,#81d34d 45.66%,#7ad151 50.54%,#73d056 55.09%,#6ccd5a 59.33%,#63cb5f 63.28%,#5ac864 66.97%,#52c569 70.41%,#48c16e 73.61%,#3fbc73 76.60%,#35b779 79.38%,#2db27d 81.98%,#26ad81 84.40%,#21a685 86.66%,#1fa088 88.76%,#1f988b 90.72%,#21908d 92.55%,#24878e 94.26%,#277e8e 95.85%,#2c738e 97.33%,#31688e 98.71%,#375b8d 100.00%)"></div><div class="abs" style="left:208px;top:0;width:4px;height:100%;background:linear-gradient(#aadc32 0.00%,#a5db36 7.97%,#a0da39 15.40%,#9bd93c 22.33%,#95d840 28.79%,#8ed645 34.81%,#89d548 40.42%,#81d34d 45.66%,#7ad151 50.54%,#73d056 55.09%,#69cd5b 59.33%,#60ca60 63.28%,#58c765 66.97%,#50c46a 70.41%,#46c06f 73.61%,#3dbc74 76.60%,#35b779 79.38%,#2db27d 81.98%,#25ac82 84.40%,#21a585 86.66%,#1f9f88 88.76%,#1f978b 90.72%,#218f8d 92.55%,#24868e 94.26%,#287c8e 95.85%,#2c718e 97.33%,#31668e 98.71%,#38598c 100.00%)"></div><div class="abs" style="left:212px;top:0;width:4px;height:100%;background:linear-gradient(#aadc32 0.00%,#a5db36 7.97%,#a0da39 15.40%,#9bd93c 22.33%,#95d840 28.79%,#8ed645 34.81%,#89d548 40.42%,#81d34d 45.66%,#7ad151 50.54%,#70cf57 55.09%,#69cd5b 59.33%,#60ca60 63.28%,#58c765 66.97%,#4ec36b 70.41%,#46c06f 73.61%,#3dbc74 76.60%,#34b679 79.38%,#2cb17e 81.98%,#25ac82 84.40%,#21a585 86.66%,#1f9e89 88.76%,#1f968b 90.72%,#218e8d 92.55%,#25858e 94.26%,#297b8e 95.85%,#2d718e 97.33%,#32658e 98.71%,#38588c 100.00%)"></div><div class="abs" style="left:216px;top:0;width:4px;height:100%;background:linear-gradient(#aadc32 0.00%,#a5db36 7.97%,#a0da39 15.40%,#9bd93c 22.33%,#93d741 28.79%,#8ed645 34.81%,#86d549 40.42%,#7fd34e 45.66%,#77d153 50.54%,#70cf57 55.09%,#67cc5c 59.33%,#60ca60 63.28%,#56c667 66.97%,#4ec36b 70.41%,#44bf70 73.61%,#3bbb75 76.60%,#32b67a 79.38%,#2ab07f 81.98%,#25ab82 84.40%,#20a486 86.66%,#1e9d89 88.76%,#1f958b 90.72%,#228d8d 92.55%,#25848e 94.26%,#297a8e 95.85%,#2d708e 97.33%,#32648e 98.71%,#39568c 100.00%)"></div><div class="abs" style="left:220px;top:0;width:4px;height:100%;background:linear-gradient(#a8db34 0.00%,#a5db36 7.97%,#a0da39 15.40%,#98d83e 22.33%,#93d741 28.79%,#8ed645 34.81%,#86d549 40.42%,#7fd34e 45.66%,#77d153 50.54%,#70cf57 55.09%,#67cc5c 59.33%,#5ec962 63.28%,#56c667 66.97%,#4cc26c 70.41%,#44bf70 73.61%,#3aba76 76.60%,#32b67a 79.38%,#2ab07f 81.98%,#24aa83 84.40%,#20a386 86.66%,#1e9c89 88.76%,#1f948c 90.72%,#228c8d 92.55%,#26828e 94.26%,#29798e 95.85%,#2e6f8e 97.33%,#33628d 98.71%,#3a548c 100.00%)"></div><div class="abs" style="left:224px;top:0;width:4px;height:100%;background:linear-gradient(#a8db34 0.00%,#a2da37 7.97%,#9dd93b 15.40%,#98d83e 22.33%,#93d741 28.79%,#8bd646 34.81%,#86d549 40.42%,#7fd34e 45.66%,#77d153 50.54%,#6ece58 55.09%,#67cc5c 59.33%,#5ec962 63.28%,#54c568 66.97%,#4cc26c 70.41%,#42be71 73.61%,#3aba76 76.60%,#31b57b 79.38%,#29af7f 81.98%,#23a983 84.40%,#1fa287 86.66%,#1e9b8a 88.76%,#20938c 90.72%,#228b8d 92.55%,#26828e 94.26%,#2a788e 95.85%,#2e6d8e 97.33%,#34618d 98.71%,#3a538b 100.00%)"></div><div class="abs" style="left:228px;top:0;width:4px;height:100%;background:linear-gradient(#a8db34 0.00%,#a2da37 7.97%,#9dd93b 15.40%,#98d83e 22.33%,#93d741 28.79%,#8bd646 34.81%,#84d44b 40.42%,#7cd250 45.66%,#75d054 50.54%,#6ece58 55.09%,#65cb5e 59.33%,#5cc863 63.28%,#54c568 66.97%,#4ac16d 70.41%,#40bd72 73.61%,#38b977 76.60%,#2fb47c 79.38%,#28ae80 81.98%,#23a983 84.40%,#1fa187 86.66%,#1e9b8a 88.76%,#20928c 90.72%,#238a8d 92.55%,#26818e 94.26%,#2a778e 95.85%,#2f6c8e 97.33%,#34608d 98.71%,#3b518b 100.00%)"></div><div class="abs" style="left:232px;top:0;width:4px;height:100%;background:linear-gradient(#a8db34 0.00%,#a2da37 7.97%,#9dd93b 15.40%,#98d83e 22.33%,#90d743 28.79%,#8bd646 34.81%,#84d44b 40.42%,#7cd250 45.66%,#75d054 50.54%,#6ccd5a 55.09%,#65cb5e 59.33%,#5cc863 63.28%,#52c569 66.97%,#4ac16d 70.41%,#40bd72 73.61%,#38b977 76.60%,#2fb47c 79.38%,#28ae80 81.98%,#22a884 84.40%,#1fa187 86.66%,#1f9a8a 88.76%,#20928c 90.72%,#23898e 92.55%,#27808e 94.26%,#2a768e 95.85%,#2f6b8e 97.33%,#355f8d 98.71%,#3c508b 100.00%)"></div><div class="abs" style="left:236px;top:0;width:4px;height:100%;background:linear-gradient(#a8db34 0.00%,#a2da37 7.97%,#9dd93b 15.40%,#95d840 22.33%,#90d743 28.79%,#89d548 34.81%,#84d44b 40.42%,#7cd250 45.66%,#73d056 50.54%,#6ccd5a 55.09%,#63cb5f 59.33%,#5ac864 63.28%,#52c569 66.97%,#48c16e 70.41%,#3fbc73 73.61%,#37b878 76.60%,#2eb37c 79.38%,#27ad81 81.98%,#22a785 84.40%,#1fa188 86.66%,#1f998a 88.76%,#21918c 90.72%,#23888e 92.55%,#277f8e 94.26%,#2b748e 95.85%,#306a8e 97.33%,#365d8d 98.71%,#3c4f8a 100.00%)"></div><div class="abs" style="left:240px;top:0;width:4px;height:100%;background:linear-gradient(#a5db36 0.00%,#a0da39 7.97%,#9bd93c 15.40%,#95d840 22.33%,#90d743 28.79%,#89d548 34.81%,#81d34d 40.42%,#7ad151 45.66%,#73d056 50.54%,#6ccd5a 55.09%,#63cb5f 59.33%,#5ac864 63.28%,#50c46a 66.97%,#48c16e 70.41%,#3fbc73 73.61%,#35b779 76.60%,#2db27d 79.38%,#26ad81 81.98%,#21a685 84.40%,#1fa088 86.66%,#1f988b 88.76%,#21908d 90.72%,#24878e 92.55%,#277e8e 94.26%,#2c738e 95.85%,#30698e 97.33%,#365c8d 98.71%,#3d4d8a 100.00%)"></div><div class="abs" style="left:244px;top:0;width:4px;height:100%;background:linear-gradient(#a5db36 0.00%,#a0da39 7.97%,#9bd93c 15.40%,#95d840 22.33%,#8ed645 28.79%,#89d548 34.81%,#81d34d 40.42%,#7ad151 45.66%,#73d056 50.54%,#69cd5b 55.09%,#60ca60 59.33%,#58c765 63.28%,#50c46a 66.97%,#46c06f 70.41%,#3dbc74 73.61%,#35b779 76.60%,#2db27d 79.38%,#25ac82 81.98%,#21a685 84.40%,#1f9f88 86.66%,#1f978b 88.76%,#21908d 90.72%,#24868e 92.55%,#287d8e 94.26%,#2c728e 95.85%,#31678e 97.33%,#375b8d 98.71%,#3e4c8a 100.00%)"></div><div class="abs" style="left:248px;top:0;width:4px;height:100%;background:linear-gradient(#a5db36 0.00%,#a0da39 7.97%,#9bd93c 15.40%,#95d840 22.33%,#8ed645 28.79%,#86d549 34.81%,#81d34d 40.42%,#7ad151 45.66%,#70cf57 50.54%,#69cd5b 55.09%,#60ca60 59.33%,#58c765 63.28%,#4ec36b 66.97%,#46c06f 70.41%,#3dbc74 73.61%,#34b679 76.60%,#2cb17e 79.38%,#25ac82 81.98%,#21a585 84.40%,#1f9e89 86.66%,#1f968b 88.76%,#218f8d 90.72%,#25858e 92.55%,#287c8e 94.26%,#2c718e 95.85%,#31668e 97.33%,#38598c 98.71%,#3e4989 100.00%)"></div><div class="abs" style="left:252px;top:0;width:4px;height:100%;background:linear-gradient(#a5db36 0.00%,#a0da39 7.97%,#9bd93c 15.40%,#93d741 22.33%,#8ed645 28.79%,#86d549 34.81%,#7fd34e 40.42%,#77d153 45.66%,#70cf57 50.54%,#67cc5c 55.09%,#60ca60 59.33%,#56c667 63.28%,#4ec36b 66.97%,#44bf70 70.41%,#3bbb75 73.61%,#32b67a 76.60%,#2ab07f 79.38%,#25ab82 81.98%,#20a486 84.40%,#1f9e89 86.66%,#1f958b 88.76%,#218e8d 90.72%,#25848e 92.55%,#297b8e 94.26%,#2d718e 95.85%,#32658e 97.33%,#38588c 98.71%,#3f4889 100.00%)"></div><div class="abs" style="left:256px;top:0;width:4px;height:100%;background:linear-gradient(#a5db36 0.00%,#a0da39 7.97%,#98d83e 15.40%,#93d741 22.33%,#8ed645 28.79%,#86d549 34.81%,#7fd34e 40.42%,#77d153 45.66%,#70cf57 50.54%,#67cc5c 55.09%,#5ec962 59.33%,#56c667 63.28%,#4cc26c 66.97%,#44bf70 70.41%,#3aba76 73.61%,#32b67a 76.60%,#2ab07f 79.38%,#24aa83 81.98%,#20a386 84.40%,#1e9d89 86.66%,#1f958b 88.76%,#228d8d 90.72%,#25838e 92.55%,#297a8e 94.26%,#2d708e 95.85%,#32648e 97.33%,#39568c 98.71%,#404688 100.00%)"></div><div class="abs" style="left:260px;top:0;width:4px;height:100%;background:linear-gradient(#a2da37 0.00%,#9dd93b 7.97%,#98d83e 15.40%,#93d741 22.33%,#8bd646 28.79%,#86d549 34.81%,#7fd34e 40.42%,#77d153 45.66%,#6ece58 50.54%,#67cc5c 55.09%,#5ec962 59.33%,#54c568 63.28%,#4cc26c 66.97%,#42be71 70.41%,#3aba76 73.61%,#31b57b 76.60%,#29af7f 79.38%,#24aa83 81.98%,#20a386 84.40%,#1e9c89 86.66%,#1f948c 88.76%,#228c8d 90.72%,#26828e 92.55%,#29798e 94.26%,#2e6f8e 95.85%,#33628d 97.33%,#3a548c 98.71%,#404588 100.00%)"></div><div class="abs" style="left:264px;top:0;width:4px;height:100%;background:linear-gradient(#a2da37 0.00%,#9dd93b 7.97%,#98d83e 15.40%,#93d741 22.33%,#8bd646 28.79%,#84d44b 34.81%,#7cd250 40.42%,#75d054 45.66%,#6ece58 50.54%,#65cb5e 55.09%,#5cc863 59.33%,#54c568 63.28%,#4ac16d 66.97%,#42be71 70.41%,#38b977 73.61%,#31b57b 76.60%,#29af7f 79.38%,#23a983 81.98%,#1fa287 84.40%,#1e9b8a 86.66%,#20938c 88.76%,#228b8d 90.72%,#26828e 92.55%,#2a788e 94.26%,#2e6d8e 95.85%,#34618d 97.33%,#3a538b 98.71%,#414487 100.00%)"></div><div class="abs" style="left:268px;top:0;width:4px;height:100%;background:linear-gradient(#a2da37 0.00%,#9dd93b 7.97%,#98d83e 15.40%,#90d743 22.33%,#8bd646 28.79%,#84d44b 34.81%,#7cd250 40.42%,#75d054 45.66%,#6ccd5a 50.54%,#65cb5e 55.09%,#5cc863 59.33%,#54c568 63.28%,#4ac16d 66.97%,#40bd72 70.41%,#38b977 73.61%,#2fb47c 76.60%,#28ae80 79.38%,#22a884 81.98%,#1fa187 84.40%,#1f9a8a 86.66%,#20928c 88.76%,#238a8d 90.72%,#26818e 92.55%,#2a778e 94.26%,#2f6c8e 95.85%,#34608d 97.33%,#3b528b 98.71%,#424186 100.00%)"></div><div class="abs" style="left:272px;top:0;width:4px;height:100%;background:linear-gradient(#a2da37 0.00%,#9dd93b 7.97%,#95d840 15.40%,#90d743 22.33%,#89d548 28.79%,#84d44b 34.81%,#7cd250 40.42%,#73d056 45.66%,#6ccd5a 50.54%,#63cb5f 55.09%,#5ac864 59.33%,#52c569 63.28%,#4ac16d 66.97%,#40bd72 70.41%,#37b878 73.61%,#2eb37c 76.60%,#27ad81 79.38%,#22a884 81.98%,#1fa188 84.40%,#1f9a8a 86.66%,#20928c 88.76%,#23898e 90.72%,#27808e 92.55%,#2a768e 94.26%,#2f6b8e 95.85%,#355f8d 97.33%,#3c508b 98.71%,#424086 100.00%)"></div><div class="abs" style="left:276px;top:0;width:4px;height:100%;background:linear-gradient(#a0da39 0.00%,#9bd93c 7.97%,#95d840 15.40%,#90d743 22.33%,#89d548 28.79%,#81d34d 34.81%,#7ad151 40.42%,#73d056 45.66%,#6ccd5a 50.54%,#63cb5f 55.09%,#5ac864 59.33%,#52c569 63.28%,#48c16e 66.97%,#3fbc73 70.41%,#37b878 73.61%,#2eb37c 76.60%,#27ad81 79.38%,#22a785 81.98%,#1fa188 84.40%,#1f998a 86.66%,#21918c 88.76%,#23888e 90.72%,#277f8e 92.55%,#2b758e 94.26%,#306a8e 95.85%,#355e8d 97.33%,#3c4f8a 98.71%,#433e85 100.00%)"></div><div class="abs" style="left:280px;top:0;width:4px;height:100%;background:linear-gradient(#a0da39 0.00%,#9bd93c 7.97%,#95d840 15.40%,#8ed645 22.33%,#89d548 28.79%,#81d34d 34.81%,#7ad151 40.42%,#73d056 45.66%,#69cd5b 50.54%,#63cb5f 55.09%,#5ac864 59.33%,#50c46a 63.28%,#48c16e 66.97%,#3dbc74 70.41%,#35b779 73.61%,#2db27d 76.60%,#26ad81 79.38%,#21a685 81.98%,#1fa088 84.40%,#1f988b 86.66%,#21908d 88.76%,#24878e 90.72%,#277e8e 92.55%,#2b748e 94.26%,#30698e 95.85%,#365c8d 97.33%,#3d4e8a 98.71%,#433d84 100.00%)"></div><div class="abs" style="left:284px;top:0;width:4px;height:100%;background:linear-gradient(#a0da39 0.00%,#9bd93c 7.97%,#95d840 15.40%,#8ed645 22.33%,#89d548 28.79%,#81d34d 34.81%,#7ad151 40.42%,#70cf57 45.66%,#69cd5b 50.54%,#60ca60 55.09%,#58c765 59.33%,#50c46a 63.28%,#46c06f 66.97%,#3dbc74 70.41%,#35b779 73.61%,#2db27d 76.60%,#25ac82 79.38%,#21a585 81.98%,#1f9f88 84.40%,#1f978b 86.66%,#21908d 88.76%,#24868e 90.72%,#287d8e 92.55%,#2c728e 94.26%,#31688e 95.85%,#375b8d 97.33%,#3e4c8a 98.71%,#443b84 100.00%)"></div><div class="abs" style="left:288px;top:0;width:4px;height:100%;background:linear-gradient(#a0da39 0.00%,#9bd93c 7.97%,#93d741 15.40%,#8ed645 22.33%,#86d549 28.79%,#7fd34e 34.81%,#77d153 40.42%,#70cf57 45.66%,#69cd5b 50.54%,#60ca60 55.09%,#58c765 59.33%,#4ec36b 63.28%,#46c06f 66.97%,#3bbb75 70.41%,#34b679 73.61%,#2cb17e 76.60%,#25ac82 79.38%,#21a585 81.98%,#1f9e89 84.40%,#1f968b 86.66%,#218f8d 88.76%,#25858e 90.72%,#287c8e 92.55%,#2c718e 94.26%,#31678e 95.85%,#375a8c 97.33%,#3e4a89 98.71%,#443983 100.00%)"></div><div class="abs" style="left:292px;top:0;width:4px;height:100%;background:linear-gradient(#a0da39 0.00%,#98d83e 7.97%,#93d741 15.40%,#8ed645 22.33%,#86d549 28.79%,#7fd34e 34.81%,#77d153 40.42%,#70cf57 45.66%,#67cc5c 50.54%,#5ec962 55.09%,#56c667 59.33%,#4ec36b 63.28%,#44bf70 66.97%,#3bbb75 70.41%,#32b67a 73.61%,#2ab07f 76.60%,#25ab82 79.38%,#20a486 81.98%,#1f9e89 84.40%,#1f968b 86.66%,#218e8d 88.76%,#25848e 90.72%,#297b8e 92.55%,#2d718e 94.26%,#31668e 95.85%,#38598c 97.33%,#3e4989 98.71%,#453882 100.00%)"></div><div class="abs" style="left:296px;top:0;width:4px;height:100%;background:linear-gradient(#9dd93b 0.00%,#98d83e 7.97%,#93d741 15.40%,#8bd646 22.33%,#86d549 28.79%,#7fd34e 34.81%,#77d153 40.42%,#6ece58 45.66%,#67cc5c 50.54%,#5ec962 55.09%,#56c667 59.33%,#4cc26c 63.28%,#44bf70 66.97%,#3aba76 70.41%,#32b67a 73.61%,#2ab07f 76.60%,#24aa83 79.38%,#20a386 81.98%,#1e9d89 84.40%,#1f958b 86.66%,#228d8d 88.76%,#25848e 90.72%,#297a8e 92.55%,#2d708e 94.26%,#32648e 95.85%,#39568c 97.33%,#3f4889 98.71%,#453581 100.00%)"></div><div class="abs" style="left:300px;top:0;width:4px;height:100%;background:linear-gradient(#9dd93b 0.00%,#98d83e 7.97%,#93d741 15.40%,#8bd646 22.33%,#84d44b 28.79%,#7fd34e 34.81%,#75d054 40.42%,#6ece58 45.66%,#65cb5e 50.54%,#5ec962 55.09%,#54c568 59.33%,#4cc26c 63.28%,#42be71 66.97%,#3aba76 70.41%,#31b57b 73.61%,#29af7f 76.60%,#24aa83 79.38%,#20a386 81.98%,#1e9c89 84.40%,#1f948c 86.66%,#228c8d 88.76%,#25838e 90.72%,#29798e 92.55%,#2e6f8e 94.26%,#33638d 95.85%,#39558c 97.33%,#404688 98.71%,#463480 100.00%)"></div><div class="abs" style="left:304px;top:0;width:4px;height:100%;background:linear-gradient(#9dd93b 0.00%,#98d83e 7.97%,#90d743 15.40%,#8bd646 22.33%,#84d44b 28.79%,#7cd250 34.81%,#75d054 40.42%,#6ece58 45.66%,#65cb5e 50.54%,#5cc863 55.09%,#54c568 59.33%,#4ac16d 63.28%,#42be71 66.97%,#38b977 70.41%,#31b57b 73.61%,#29af7f 76.60%,#23a983 79.38%,#1fa287 81.98%,#1e9b8a 84.40%,#20938c 86.66%,#228b8d 88.76%,#26828e 90.72%,#2a788e 92.55%,#2e6e8e 94.26%,#33628d 95.85%,#3a548c 97.33%,#404588 98.71%,#46337f 100.00%)"></div><div class="abs" style="left:308px;top:0;width:4px;height:100%;background:linear-gradient(#9dd93b 0.00%,#98d83e 7.97%,#90d743 15.40%,#8bd646 22.33%,#84d44b 28.79%,#7cd250 34.81%,#75d054 40.42%,#6ccd5a 45.66%,#65cb5e 50.54%,#5cc863 55.09%,#54c568 59.33%,#4ac16d 63.28%,#40bd72 66.97%,#38b977 70.41%,#2fb47c 73.61%,#28ae80 76.60%,#22a884 79.38%,#1fa187 81.98%,#1e9b8a 84.40%,#20928c 86.66%,#238a8d 88.76%,#26828e 90.72%,#2a778e 92.55%,#2e6d8e 94.26%,#34618d 95.85%,#3a538b 97.33%,#414487 98.71%,#46307e 100.00%)"></div><div class="abs" style="left:312px;top:0;width:4px;height:100%;background:linear-gradient(#9dd93b 0.00%,#95d840 7.97%,#90d743 15.40%,#89d548 22.33%,#84d44b 28.79%,#7cd250 34.81%,#73d056 40.42%,#6ccd5a 45.66%,#63cb5f 50.54%,#5ac864 55.09%,#52c569 59.33%,#4ac16d 63.28%,#40bd72 66.97%,#37b878 70.41%,#2fb47c 73.61%,#27ad81 76.60%,#22a884 79.38%,#1fa187 81.98%,#1f9a8a 84.40%,#20928c 86.66%,#238a8d 88.76%,#26818e 90.72%,#2a768e 92.55%,#2f6c8e 94.26%,#34608d 95.85%,#3b528b 97.33%,#424186 98.71%,#472f7d 100.00%)"></div><div class="abs" style="left:316px;top:0;width:4px;height:100%;background:linear-gradient(#9bd93c 0.00%,#95d840 7.97%,#90d743 15.40%,#89d548 22.33%,#81d34d 28.79%,#7ad151 34.81%,#73d056 40.42%,#6ccd5a 45.66%,#63cb5f 50.54%,#5ac864 55.09%,#52c569 59.33%,#48c16e 63.28%,#3fbc73 66.97%,#37b878 70.41%,#2eb37c 73.61%,#27ad81 76.60%,#22a785 79.38%,#1fa188 81.98%,#1f998a 84.40%,#20928c 86.66%,#23898e 88.76%,#27808e 90.72%,#2b758e 92.55%,#2f6b8e 94.26%,#355f8d 95.85%,#3c508b 97.33%,#424086 98.71%,#472d7b 100.00%)"></div><div class="abs" style="left:320px;top:0;width:4px;height:100%;background:linear-gradient(#9bd93c 0.00%,#95d840 7.97%,#8ed645 15.40%,#89d548 22.33%,#81d34d 28.79%,#7ad151 34.81%,#73d056 40.42%,#69cd5b 45.66%,#63cb5f 50.54%,#5ac864 55.09%,#50c46a 59.33%,#48c16e 63.28%,#3fbc73 66.97%,#35b779 70.41%,#2db27d 73.61%,#26ad81 76.60%,#21a685 79.38%,#1fa088 81.98%,#1f988b 84.40%,#21918c 86.66%,#23888e 88.76%,#277f8e 90.72%,#2b748e 92.55%,#306a8e 94.26%,#355e8d 95.85%,#3c4f8a 97.33%,#423f85 98.71%,#472c7a 100.00%)"></div><div class="abs" style="left:324px;top:0;width:4px;height:100%;background:linear-gradient(#9bd93c 0.00%,#95d840 7.97%,#8ed645 15.40%,#89d548 22.33%,#81d34d 28.79%,#7ad151 34.81%,#70cf57 40.42%,#69cd5b 45.66%,#60ca60 50.54%,#58c765 55.09%,#50c46a 59.33%,#46c06f 63.28%,#3dbc74 66.97%,#35b779 70.41%,#2db27d 73.61%,#26ad81 76.60%,#21a685 79.38%,#1f9f88 81.98%,#1f988b 84.40%,#21908d 86.66%,#24878e 88.76%,#277e8e 90.72%,#2c738e 92.55%,#30698e 94.26%,#365c8d 95.85%,#3d4e8a 97.33%,#433d84 98.71%,#472a7a 100.00%)"></div><div class="abs" style="left:328px;top:0;width:4px;height:100%;background:linear-gradient(#9bd93c 0.00%,#93d741 7.97%,#8ed645 15.40%,#86d549 22.33%,#7fd34e 28.79%,#77d153 34.81%,#70cf57 40.42%,#69cd5b 45.66%,#60ca60 50.54%,#58c765 55.09%,#4ec36b 59.33%,#46c06f 63.28%,#3dbc74 66.97%,#34b679 70.41%,#2cb17e 73.61%,#25ac82 76.60%,#21a585 79.38%,#1f9f88 81.98%,#1f978b 84.40%,#218f8d 86.66%,#24868e 88.76%,#287d8e 90.72%,#2c728e 92.55%,#31688e 94.26%,#375b8d 95.85%,#3d4d8a 97.33%,#443b84 98.71%,#482878 100.00%)"></div><div class="abs" style="left:332px;top:0;width:4px;height:100%;background:linear-gradient(#98d83e 0.00%,#93d741 7.97%,#8ed645 15.40%,#86d549 22.33%,#7fd34e 28.79%,#77d153 34.81%,#70cf57 40.42%,#67cc5c 45.66%,#60ca60 50.54%,#56c667 55.09%,#4ec36b 59.33%,#44bf70 63.28%,#3bbb75 66.97%,#34b679 70.41%,#2cb17e 73.61%,#25ab82 76.60%,#20a486 79.38%,#1f9e89 81.98%,#1f968b 84.40%,#218f8d 86.66%,#25858e 88.76%,#287c8e 90.72%,#2c718e 92.55%,#31678e 94.26%,#375a8c 95.85%,#3e4a89 97.33%,#443a83 98.71%,#482677 100.00%)"></div><div class="abs" style="left:336px;top:0;width:4px;height:100%;background:linear-gradient(#98d83e 0.00%,#93d741 7.97%,#8bd646 15.40%,#86d549 22.33%,#7fd34e 28.79%,#77d153 34.81%,#70cf57 40.42%,#67cc5c 45.66%,#5ec962 50.54%,#56c667 55.09%,#4ec36b 59.33%,#44bf70 63.28%,#3bbb75 66.97%,#32b67a 70.41%,#2ab07f 73.61%,#25ab82 76.60%,#20a486 79.38%,#1e9d89 81.98%,#1f958b 84.40%,#218e8d 86.66%,#25848e 88.76%,#297b8e 90.72%,#2d718e 92.55%,#31668e 94.26%,#38598c 95.85%,#3e4989 97.33%,#453882 98.71%,#482475 100.00%)"></div><div class="abs" style="left:340px;top:0;width:4px;height:100%;background:linear-gradient(#98d83e 0.00%,#93d741 7.97%,#8bd646 15.40%,#86d549 22.33%,#7fd34e 28.79%,#77d153 34.81%,#6ece58 40.42%,#67cc5c 45.66%,#5ec962 50.54%,#56c667 55.09%,#4cc26c 59.33%,#42be71 63.28%,#3aba76 66.97%,#32b67a 70.41%,#2ab07f 73.61%,#24aa83 76.60%,#20a386 79.38%,#1e9d89 81.98%,#1f958b 84.40%,#228d8d 86.66%,#25848e 88.76%,#297a8e 90.72%,#2d708e 92.55%,#32658e 94.26%,#38588c 95.85%,#3f4889 97.33%,#453781 98.71%,#482374 100.00%)"></div><div class="abs" style="left:344px;top:0;width:4px;height:100%;background:linear-gradient(#98d83e 0.00%,#93d741 7.97%,#8bd646 15.40%,#84d44b 22.33%,#7cd250 28.79%,#75d054 34.81%,#6ece58 40.42%,#65cb5e 45.66%,#5cc863 50.54%,#54c568 55.09%,#4cc26c 59.33%,#42be71 63.28%,#3aba76 66.97%,#31b57b 70.41%,#29af7f 73.61%,#24aa83 76.60%,#20a386 79.38%,#1e9c89 81.98%,#1f948c 84.40%,#228c8d 86.66%,#25838e 88.76%,#29798e 90.72%,#2e6f8e 92.55%,#32648e 94.26%,#39568c 95.85%,#3f4788 97.33%,#453581 98.71%,#482173 100.00%)"></div><div class="abs" style="left:348px;top:0;width:4px;height:100%;background:linear-gradient(#98d83e 0.00%,#90d743 7.97%,#8bd646 15.40%,#84d44b 22.33%,#7cd250 28.79%,#75d054 34.81%,#6ece58 40.42%,#65cb5e 45.66%,#5cc863 50.54%,#54c568 55.09%,#4ac16d 59.33%,#40bd72 63.28%,#38b977 66.97%,#31b57b 70.41%,#28ae80 73.61%,#23a983 76.60%,#1fa287 79.38%,#1e9b8a 81.98%,#20938c 84.40%,#228b8d 86.66%,#26828e 88.76%,#29798e 90.72%,#2e6e8e 92.55%,#33628d 94.26%,#39558c 95.85%,#404688 97.33%,#463480 98.71%,#481f70 100.00%)"></div><div class="abs" style="left:352px;top:0;width:4px;height:100%;background:linear-gradient(#95d840 0.00%,#90d743 7.97%,#8bd646 15.40%,#84d44b 22.33%,#7cd250 28.79%,#75d054 34.81%,#6ccd5a 40.42%,#65cb5e 45.66%,#5cc863 50.54%,#52c569 55.09%,#4ac16d 59.33%,#40bd72 63.28%,#38b977 66.97%,#2fb47c 70.41%,#28ae80 73.61%,#22a884 76.60%,#1fa187 79.38%,#1e9b8a 81.98%,#20928c 84.40%,#228b8d 86.66%,#26828e 88.76%,#2a788e 90.72%,#2e6d8e 92.55%,#34618d 94.26%,#3a538b 95.85%,#414487 97.33%,#46327e 98.71%,#481d6f 100.00%)"></div><div class="abs" style="left:356px;top:0;width:4px;height:100%;background:linear-gradient(#95d840 0.00%,#90d743 7.97%,#89d548 15.40%,#81d34d 22.33%,#7cd250 28.79%,#73d056 34.81%,#6ccd5a 40.42%,#63cb5f 45.66%,#5ac864 50.54%,#52c569 55.09%,#48c16e 59.33%,#40bd72 63.28%,#37b878 66.97%,#2eb37c 70.41%,#27ad81 73.61%,#22a884 76.60%,#1fa187 79.38%,#1f9a8a 81.98%,#20928c 84.40%,#238a8d 86.66%,#26818e 88.76%,#2a778e 90.72%,#2f6c8e 92.55%,#34608d 94.26%,#3b528b 95.85%,#414287 97.33%,#46307e 98.71%,#481b6d 100.00%)"></div><div class="abs" style="left:360px;top:0;width:4px;height:100%;background:linear-gradient(#95d840 0.00%,#90d743 7.97%,#89d548 15.40%,#81d34d 22.33%,#7ad151 28.79%,#73d056 34.81%,#6ccd5a 40.42%,#63cb5f 45.66%,#5ac864 50.54%,#52c569 55.09%,#48c16e 59.33%,#3fbc73 63.28%,#37b878 66.97%,#2eb37c 70.41%,#27ad81 73.61%,#22a785 76.60%,#1fa188 79.38%,#1f998a 81.98%,#20928c 84.40%,#23898e 86.66%,#27808e 88.76%,#2a768e 90.72%,#2f6b8e 92.55%,#355f8d 94.26%,#3b518b 95.85%,#424186 97.33%,#472f7d 98.71%,#481a6c 100.00%)"></div><div class="abs" style="left:364px;top:0;width:4px;height:100%;background:linear-gradient(#95d840 0.00%,#8ed645 7.97%,#89d548 15.40%,#81d34d 22.33%,#7ad151 28.79%,#73d056 34.81%,#69cd5b 40.42%,#63cb5f 45.66%,#5ac864 50.54%,#50c46a 55.09%,#48c16e 59.33%,#3fbc73 63.28%,#35b779 66.97%,#2db27d 70.41%,#26ad81 73.61%,#22a785 76.60%,#1fa088 79.38%,#1f998a 81.98%,#21918c 84.40%,#23888e 86.66%,#277f8e 88.76%,#2b758e 90.72%,#2f6b8e 92.55%,#355e8d 94.26%,#3c508b 95.85%,#424086 97.33%,#472d7b 98.71%,#48186a 100.00%)"></div><div class="abs" style="left:368px;top:0;width:4px;height:100%;background:linear-gradient(#95d840 0.00%,#8ed645 7.97%,#89d548 15.40%,#81d34d 22.33%,#7ad151 28.79%,#70cf57 34.81%,#69cd5b 40.42%,#60ca60 45.66%,#58c765 50.54%,#50c46a 55.09%,#46c06f 59.33%,#3dbc74 63.28%,#35b779 66.97%,#2db27d 70.41%,#26ad81 73.61%,#21a685 76.60%,#1fa088 79.38%,#1f988b 81.98%,#21908d 84.40%,#24878e 86.66%,#277e8e 88.76%,#2b748e 90.72%,#306a8e 92.55%,#365d8d 94.26%,#3c4f8a 95.85%,#423f85 97.33%,#472c7a 98.71%,#481668 100.00%)"></div><div class="abs" style="left:372px;top:0;width:4px;height:100%;background:linear-gradient(#93d741 0.00%,#8ed645 7.97%,#86d549 15.40%,#7fd34e 22.33%,#77d153 28.79%,#70cf57 34.81%,#69cd5b 40.42%,#60ca60 45.66%,#58c765 50.54%,#4ec36b 55.09%,#46c06f 59.33%,#3dbc74 63.28%,#34b679 66.97%,#2cb17e 70.41%,#25ac82 73.61%,#21a585 76.60%,#1f9f88 79.38%,#1f978b 81.98%,#21908d 84.40%,#24868e 86.66%,#277e8e 88.76%,#2c738e 90.72%,#30698e 92.55%,#365c8d 94.26%,#3d4e8a 95.85%,#433d84 97.33%,#472a7a 98.71%,#481467 100.00%)"></div><div class="abs" style="left:376px;top:0;width:4px;height:100%;background:linear-gradient(#93d741 0.00%,#8ed645 7.97%,#86d549 15.40%,#7fd34e 22.33%,#77d153 28.79%,#70cf57 34.81%,#67cc5c 40.42%,#60ca60 45.66%,#56c667 50.54%,#4ec36b 55.09%,#44bf70 59.33%,#3bbb75 63.28%,#34b679 66.97%,#2cb17e 70.41%,#25ac82 73.61%,#21a585 76.60%,#1f9e89 79.38%,#1f968b 81.98%,#218f8d 84.40%,#24868e 86.66%,#287d8e 88.76%,#2c728e 90.72%,#31688e 92.55%,#375b8d 94.26%,#3d4d8a 95.85%,#443b84 97.33%,#482878 98.71%,#471164 100.00%)"></div><div class="abs" style="left:380px;top:0;width:4px;height:100%;background:linear-gradient(#93d741 0.00%,#8bd646 7.97%,#86d549 15.40%,#7fd34e 22.33%,#77d153 28.79%,#70cf57 34.81%,#67cc5c 40.42%,#5ec962 45.66%,#56c667 50.54%,#4ec36b 55.09%,#44bf70 59.33%,#3bbb75 63.28%,#32b67a 66.97%,#2ab07f 70.41%,#25ab82 73.61%,#20a486 76.60%,#1f9e89 79.38%,#1f968b 81.98%,#218e8d 84.40%,#25858e 86.66%,#287c8e 88.76%,#2c718e 90.72%,#31678e 92.55%,#375a8c 94.26%,#3e4a89 95.85%,#443a83 97.33%,#482677 98.71%,#471063 100.00%)"></div><div class="abs" style="left:384px;top:0;width:4px;height:100%;background:linear-gradient(#93d741 0.00%,#8bd646 7.97%,#86d549 15.40%,#7fd34e 22.33%,#77d153 28.79%,#6ece58 34.81%,#67cc5c 40.42%,#5ec962 45.66%,#56c667 50.54%,#4cc26c 55.09%,#42be71 59.33%,#3aba76 63.28%,#32b67a 66.97%,#2ab07f 70.41%,#24aa83 73.61%,#20a386 76.60%,#1e9d89 79.38%,#1f958b 81.98%,#228d8d 84.40%,#25848e 86.66%,#297b8e 88.76%,#2d718e 90.72%,#31668e 92.55%,#38598c 94.26%,#3e4989 95.85%,#443983 97.33%,#482576 98.71%,#470e61 100.00%)"></div><div class="abs" style="left:388px;top:0;width:4px;height:100%;background:linear-gradient(#93d741 0.00%,#8bd646 7.97%,#84d44b 15.40%,#7cd250 22.33%,#75d054 28.79%,#6ece58 34.81%,#65cb5e 40.42%,#5cc863 45.66%,#54c568 50.54%,#4cc26c 55.09%,#42be71 59.33%,#3aba76 63.28%,#31b57b 66.97%,#29af7f 70.41%,#24aa83 73.61%,#20a386 76.60%,#1e9c89 79.38%,#1f948c 81.98%,#228d8d 84.40%,#25838e 86.66%,#297a8e 88.76%,#2d708e 90.72%,#32658e 92.55%,#38588c 94.26%,#3f4889 95.85%,#453781 97.33%,#482374 98.71%,#460b5e 100.00%)"></div><div class="abs" style="left:392px;top:0;width:4px;height:100%;background:linear-gradient(#90d743 0.00%,#8bd646 7.97%,#84d44b 15.40%,#7cd250 22.33%,#75d054 28.79%,#6ece58 34.81%,#65cb5e 40.42%,#5cc863 45.66%,#54c568 50.54%,#4ac16d 55.09%,#42be71 59.33%,#38b977 63.28%,#31b57b 66.97%,#29af7f 70.41%,#23a983 73.61%,#1fa287 76.60%,#1e9c89 79.38%,#1f948c 81.98%,#228c8d 84.40%,#26828e 86.66%,#29798e 88.76%,#2e6f8e 90.72%,#32648e 92.55%,#39568c 94.26%,#3f4788 95.85%,#453581 97.33%,#482173 98.71%,#460a5d 100.00%)"></div><div class="abs" style="left:396px;top:0;width:4px;height:100%;background:linear-gradient(#90d743 0.00%,#8bd646 7.97%,#84d44b 15.40%,#7cd250 22.33%,#75d054 28.79%,#6ccd5a 34.81%,#65cb5e 40.42%,#5cc863 45.66%,#54c568 50.54%,#4ac16d 55.09%,#40bd72 59.33%,#38b977 63.28%,#2fb47c 66.97%,#28ae80 70.41%,#23a983 73.61%,#1fa287 76.60%,#1e9b8a 79.38%,#20938c 81.98%,#228b8d 84.40%,#26828e 86.66%,#2a788e 88.76%,#2e6e8e 90.72%,#33638d 92.55%,#39558c 94.26%,#404688 95.85%,#463480 97.33%,#482071 98.71%,#46075a 100.00%)"></div><div class="abs" style="left:400px;top:0;width:4px;height:100%;background:linear-gradient(#90d743 0.00%,#89d548 7.97%,#84d44b 15.40%,#7cd250 22.33%,#73d056 28.79%,#6ccd5a 34.81%,#63cb5f 40.42%,#5ac864 45.66%,#52c569 50.54%,#4ac16d 55.09%,#40bd72 59.33%,#37b878 63.28%,#2fb47c 66.97%,#28ae80 70.41%,#22a884 73.61%,#1fa187 76.60%,#1f9a8a 79.38%,#20928c 81.98%,#238a8d 84.40%,#26828e 86.66%,#2a788e 88.76%,#2e6e8e 90.72%,#33628d 92.55%,#3a548c 94.26%,#404588 95.85%,#46337f 97.33%,#481d6f 98.71%,#450559 100.00%)"></div><div class="abs" style="left:404px;top:0;width:4px;height:100%;background:linear-gradient(#90d743 0.00%,#89d548 7.97%,#81d34d 15.40%,#7ad151 22.33%,#73d056 28.79%,#6ccd5a 34.81%,#63cb5f 40.42%,#5ac864 45.66%,#52c569 50.54%,#48c16e 55.09%,#3fbc73 59.33%,#37b878 63.28%,#2eb37c 66.97%,#27ad81 70.41%,#22a884 73.61%,#1fa188 76.60%,#1f9a8a 79.38%,#20928c 81.98%,#238a8d 84.40%,#26818e 86.66%,#2a778e 88.76%,#2e6d8e 90.72%,#34618d 92.55%,#3a538b 94.26%,#414487 95.85%,#46327e 97.33%,#481c6e 98.71%,#440256 100.00%)"></div><div class="abs" style="left:408px;top:0;width:4px;height:100%;background:linear-gradient(#8ed645 0.00%,#89d548 7.97%,#81d34d 15.40%,#7ad151 22.33%,#73d056 28.79%,#69cd5b 34.81%,#63cb5f 40.42%,#5ac864 45.66%,#50c46a 50.54%,#48c16e 55.09%,#3fbc73 59.33%,#37b878 63.28%,#2eb37c 66.97%,#27ad81 70.41%,#22a785 73.61%,#1fa188 76.60%,#1f998a 79.38%,#20928c 81.98%,#23898e 84.40%,#27808e 86.66%,#2a768e 88.76%,#2f6c8e 90.72%,#34608d 92.55%,#3b528b 94.26%,#424186 95.85%,#472f7d 97.33%,#481b6d 98.71%,#440154 100.00%)"></div><div class="abs" style="left:412px;top:0;width:4px;height:100%;background:linear-gradient(#8ed645 0.00%,#89d548 7.97%,#81d34d 15.40%,#7ad151 22.33%,#73d056 28.79%,#69cd5b 34.81%,#60ca60 40.42%,#58c765 45.66%,#50c46a 50.54%,#46c06f 55.09%,#3dbc74 59.33%,#35b779 63.28%,#2db27d 66.97%,#26ad81 70.41%,#21a685 73.61%,#1fa088 76.60%,#1f988b 79.38%,#21918c 81.98%,#23888e 84.40%,#277f8e 86.66%,#2b758e 88.76%,#2f6b8e 90.72%,#355f8d 92.55%,#3b518b 94.26%,#424086 95.85%,#472e7c 97.33%,#481a6c 98.71%,#440154 100.00%)"></div><div class="abs" style="left:416px;top:0;width:4px;height:100%;background:linear-gradient(#8ed645 0.00%,#86d549 7.97%,#81d34d 15.40%,#7ad151 22.33%,#70cf57 28.79%,#69cd5b 34.81%,#60ca60 40.42%,#58c765 45.66%,#50c46a 50.54%,#46c06f 55.09%,#3dbc74 59.33%,#35b779 63.28%,#2db27d 66.97%,#26ad81 70.41%,#21a685 73.61%,#1fa088 76.60%,#1f988b 79.38%,#21908d 81.98%,#24878e 84.40%,#277f8e 86.66%,#2b748e 88.76%,#306a8e 90.72%,#355e8d 92.55%,#3c4f8a 94.26%,#423f85 95.85%,#472d7b 97.33%,#481769 98.71%,#440154 100.00%)"></div><div class="abs" style="left:420px;top:0;width:4px;height:100%;background:linear-gradient(#8ed645 0.00%,#86d549 7.97%,#7fd34e 15.40%,#77d153 22.33%,#70cf57 28.79%,#69cd5b 34.81%,#60ca60 40.42%,#58c765 45.66%,#4ec36b 50.54%,#46c06f 55.09%,#3dbc74 59.33%,#34b679 63.28%,#2cb17e 66.97%,#25ac82 70.41%,#21a585 73.61%,#1f9f88 76.60%,#1f978b 79.38%,#21908d 81.98%,#24878e 84.40%,#277e8e 86.66%,#2c738e 88.76%,#30698e 90.72%,#365d8d 92.55%,#3d4e8a 94.26%,#433e85 95.85%,#472c7a 97.33%,#481668 98.71%,#440154 100.00%)"></div><div class="abs" style="left:424px;top:0;width:4px;height:100%;background:linear-gradient(#8ed645 0.00%,#86d549 7.97%,#7fd34e 15.40%,#77d153 22.33%,#70cf57 28.79%,#67cc5c 34.81%,#5ec962 40.42%,#56c667 45.66%,#4ec36b 50.54%,#44bf70 55.09%,#3bbb75 59.33%,#34b679 63.28%,#2cb17e 66.97%,#25ac82 70.41%,#21a585 73.61%,#1f9e89 76.60%,#1f978b 79.38%,#218f8d 81.98%,#24868e 84.40%,#287d8e 86.66%,#2c728e 88.76%,#31688e 90.72%,#365c8d 92.55%,#3d4d8a 94.26%,#433d84 95.85%,#482979 97.33%,#481467 98.71%,#440154 100.00%)"></div><div class="abs" style="left:428px;top:0;width:4px;height:100%;background:linear-gradient(#8bd646 0.00%,#86d549 7.97%,#7fd34e 15.40%,#77d153 22.33%,#6ece58 28.79%,#67cc5c 34.81%,#5ec962 40.42%,#56c667 45.66%,#4ec36b 50.54%,#44bf70 55.09%,#3bbb75 59.33%,#32b67a 63.28%,#2ab07f 66.97%,#25ab82 70.41%,#20a486 73.61%,#1f9e89 76.60%,#1f968b 79.38%,#218e8d 81.98%,#25858e 84.40%,#287c8e 86.66%,#2c728e 88.76%,#31678e 90.72%,#375b8d 92.55%,#3e4c8a 94.26%,#443b84 95.85%,#482878 97.33%,#471164 98.71%,#440154 100.00%)"></div><div class="abs" style="left:432px;top:0;width:4px;height:100%;background:linear-gradient(#8bd646 0.00%,#86d549 7.97%,#7fd34e 15.40%,#77d153 22.33%,#6ece58 28.79%,#67cc5c 34.81%,#5ec962 40.42%,#56c667 45.66%,#4cc26c 50.54%,#42be71 55.09%,#3aba76 59.33%,#32b67a 63.28%,#2ab07f 66.97%,#24aa83 70.41%,#20a486 73.61%,#1e9d89 76.60%,#1f958b 79.38%,#218e8d 81.98%,#25848e 84.40%,#297b8e 86.66%,#2c718e 88.76%,#31668e 90.72%,#375a8c 92.55%,#3e4a89 94.26%,#443a83 95.85%,#482677 97.33%,#471063 98.71%,#440154 100.00%)"></div><div class="abs" style="left:436px;top:0;width:4px;height:100%;background:linear-gradient(#8bd646 0.00%,#84d44b 7.97%,#7cd250 15.40%,#75d054 22.33%,#6ece58 28.79%,#65cb5e 34.81%,#5cc863 40.42%,#54c568 45.66%,#4cc26c 50.54%,#42be71 55.09%,#3aba76 59.33%,#31b57b 63.28%,#29af7f 66.97%,#24aa83 70.41%,#20a386 73.61%,#1e9d89 76.60%,#1f958b 79.38%,#228d8d 81.98%,#25848e 84.40%,#297b8e 86.66%,#2d718e 88.76%,#32658e 90.72%,#38598c 92.55%,#3e4989 94.26%,#443983 95.85%,#482576 97.33%,#470e61 98.71%,#440154 100.00%)"></div></div>
<div class="abs" style="left:748.7px;top:344.5px;width:436.3px;height:418.5px;background:conic-gradient(from 0deg at -251.4px 440.4px, #fde725 0.000deg,#fbe723 9.292deg,#f6e620 18.119deg,#f4e61e 26.143deg,#f1e51d 33.202deg,#efe51c 39.284deg,#eae51a 44.469deg,#e7e419 48.873deg,#e5e419 52.619deg,#dfe318 55.818deg,#dde318 58.566deg,#dae319 60.941deg,#d8e219 63.008deg,#d2e21b 64.818deg,#d0e11c 66.414deg,#cde11d 67.830deg,#c8e020 69.092deg,#c5e021 70.224deg,#c2df23 71.244deg,#c0df25 72.167deg,#bade28 73.006deg,#b8de29 73.772deg,#b5de2b 74.473deg,#b2dd2d 75.118deg,#addc30 75.712deg,#aadc32 76.261deg,#a8db34 76.771deg,#a2da37 77.244deg,#a0da39 77.686deg,#9dd93b 78.098deg,#9bd93c 78.484deg,#95d840 78.846deg,#93d741 79.186deg,#90d743 79.507deg,#8bd646 79.809deg,#89d548 80.094deg,#86d549 80.364deg,#84d44b 80.620deg,#7fd34e 80.862deg,#7cd250 81.093deg,#7ad151 81.312deg,#77d153 81.521deg,#73d056 81.720deg,#70cf57 81.910deg,#6ece58 82.091deg,#69cd5b 82.265deg,#67cc5c 82.431deg,#65cb5e 82.590deg,#63cb5f 82.743deg,#5ec962 82.890deg,#5cc863 83.030deg,#5ac864 83.166deg,#58c765 83.296deg,#54c568 83.421deg,#52c569 83.542deg,#50c46a 83.659deg,#4cc26c 83.771deg,#4ac16d 83.879deg,#48c16e 83.984deg,#46c06f 84.085deg,#42be71 84.183deg,#40bd72 84.278deg,#3fbc73 84.370deg,#3bbb75 84.458deg,#3aba76 84.545deg,#38b977 84.628deg,#37b878 84.709deg,#34b679 84.787deg,#32b67a 84.864deg,#31b57b 84.938deg,#2fb47c 85.010deg,#2db27d 85.080deg,#2cb17e 85.148deg,#2ab07f 85.214deg,#28ae80 85.278deg,#27ad81 85.341deg,#26ad81 85.402deg,#25ac82 85.461deg,#24aa83 85.519deg,#23a983 85.576deg,#22a884 85.631deg,#21a685 85.685deg,#21a585 85.737deg,#20a486 85.788deg,#20a386 85.838deg,#1fa187 85.887deg,#1fa188 85.935deg,#1fa088 85.981deg,#1f9f88 86.027deg,#1e9d89 86.071deg,#1e9c89 86.115deg,#1e9b8a 86.157deg,#1f998a 86.199deg,#1f988b 86.240deg,#1f978b 86.280deg,#1f968b 86.319deg,#1f948c 86.357deg,#20938c 86.394deg,#20928c 86.431deg,#21918c 86.467deg,#21908d 86.502deg,#218f8d 86.537deg,#218e8d 86.571deg,#228c8d 86.604deg,#228b8d 86.636deg,#238a8d 86.668deg,#23898e 86.700deg,#24878e 86.731deg,#24868e 86.761deg,#25858e 86.790deg,#25838e 86.820deg,#26828e 86.848deg,#26828e 86.876deg,#26818e 86.904deg,#277f8e 86.931deg,#277e8e 86.958deg,#287d8e 86.984deg,#297b8e 87.009deg,#297a8e 87.035deg,#29798e 87.060deg,#2a788e 87.084deg,#2a768e 87.108deg,#2b758e 87.132deg,#2b748e 87.155deg,#2c738e 87.178deg,#2c718e 87.201deg,#2d718e 87.223deg,#2d708e 87.245deg,#2e6e8e 87.266deg,#2e6d8e 87.287deg,#2f6c8e 87.308deg,#2f6b8e 87.329deg,#30698e 87.349deg,#31688e 87.369deg,#31678e 87.388deg,#31668e 87.408deg,#32648e 87.427deg,#33638d 87.445deg,#33628d 87.464deg,#34608d 87.482deg,#355f8d 87.500deg,#355e8d 87.518deg,#365d8d 87.535deg,#375b8d 87.552deg,#375a8c 87.569deg,#38598c 87.586deg,#39568c 87.603deg,#39558c 87.619deg,#3a548c 87.635deg,#3a538b 87.651deg,#3b518b 87.667deg,#3c508b 87.682deg,#3c4f8a 87.697deg,#3d4e8a 87.712deg,#3e4c8a 87.727deg,#3e4a89 87.742deg,#3e4989 87.756deg,#3f4788 87.771deg,#404688 87.785deg,#404588 87.799deg,#414487 87.812deg,#424186 87.826deg,#424086 87.839deg,#423f85 87.852deg,#433d84 87.866deg,#443b84 87.878deg,#443a83 87.891deg,#443983 87.904deg,#453781 87.916deg,#453581 87.929deg,#463480 87.941deg,#46337f 87.953deg,#46307e 87.965deg,#472f7d 87.977deg,#472e7c 87.988deg,#472c7a 88.000deg,#472a7a 88.011deg,#482979 88.022deg,#482878 88.033deg,#482576 88.044deg,#482475 88.055deg,#482374 88.066deg,#482071 88.077deg,#481f70 88.087deg,#481d6f 88.097deg,#481c6e 88.108deg,#481a6c 88.118deg,#48186a 88.128deg,#481769 88.138deg,#481668 88.148deg,#471365 88.157deg,#471164 88.167deg,#471063 88.177deg,#470d60 88.186deg,#460b5e 88.195deg,#460a5d 88.205deg,#46085c 88.214deg,#450559 88.223deg,#450457 88.232deg,#440256 88.241deg,#440154 88.250deg,#440154 89.990deg,#440154 90deg)"></div><div class="abs" style="left:748.7px;top:640.0px;width:436.3px;height:123.0px;overflow:hidden"><div class="abs" style="left:0px;top:0;width:4px;height:100%;background:linear-gradient(#dae319 0.00%,#d8e219 7.96%,#d5e21a 15.39%,#d2e21b 22.31%,#cde11d 28.76%,#cae11f 34.78%,#c5e021 40.39%,#c2df23 45.63%,#bddf26 50.50%,#b8de29 55.05%,#b2dd2d 59.30%,#addc30 63.25%,#a5db36 66.94%,#a0da39 70.38%,#98d83e 73.58%,#90d743 76.57%,#89d548 79.36%,#7fd34e 81.96%,#75d054 84.38%,#6ccd5a 86.64%,#63cb5f 88.75%,#58c765 90.71%,#4ec36b 92.54%,#42be71 94.25%,#37b878 95.84%,#2eb37c 97.33%,#25ac82 98.71%,#20a486 100.00%)"></div><div class="abs" style="left:4px;top:0;width:4px;height:100%;background:linear-gradient(#dae319 0.00%,#d8e219 7.96%,#d2e21b 15.39%,#d0e11c 22.31%,#cde11d 28.76%,#cae11f 34.78%,#c5e021 40.39%,#c0df25 45.63%,#bddf26 50.50%,#b8de29 55.05%,#b2dd2d 59.30%,#aadc32 63.25%,#a5db36 66.94%,#9dd93b 70.38%,#95d840 73.58%,#8ed645 76.57%,#86d549 79.36%,#7cd250 81.96%,#75d054 84.38%,#69cd5b 86.64%,#60ca60 88.75%,#56c667 90.71%,#4cc26c 92.54%,#40bd72 94.25%,#35b779 95.84%,#2cb17e 97.33%,#25ab82 98.71%,#20a386 100.00%)"></div><div class="abs" style="left:8px;top:0;width:4px;height:100%;background:linear-gradient(#d8e219 0.00%,#d5e21a 7.96%,#d2e21b 15.39%,#d0e11c 22.31%,#cde11d 28.76%,#c8e020 34.78%,#c5e021 40.39%,#c0df25 45.63%,#bade28 50.50%,#b5de2b 55.05%,#b0dd2f 59.30%,#aadc32 63.25%,#a2da37 66.94%,#9dd93b 70.38%,#95d840 73.58%,#8ed645 76.57%,#84d44b 79.36%,#7cd250 81.96%,#73d056 84.38%,#69cd5b 86.64%,#5ec962 88.75%,#54c568 90.71%,#4ac16d 92.54%,#3fbc73 94.25%,#34b679 95.84%,#2ab07f 97.33%,#23a983 98.71%,#1fa187 100.00%)"></div><div class="abs" style="left:12px;top:0;width:4px;height:100%;background:linear-gradient(#d8e219 0.00%,#d5e21a 7.96%,#d2e21b 15.39%,#d0e11c 22.31%,#cae11f 28.76%,#c8e020 34.78%,#c2df23 40.39%,#c0df25 45.63%,#bade28 50.50%,#b5de2b 55.05%,#b0dd2f 59.30%,#a8db34 63.25%,#a2da37 66.94%,#9bd93c 70.38%,#93d741 73.58%,#8bd646 76.57%,#84d44b 79.36%,#7ad151 81.96%,#70cf57 84.38%,#67cc5c 86.64%,#5cc863 88.75%,#52c569 90.71%,#46c06f 92.54%,#3dbc74 94.25%,#32b67a 95.84%,#29af7f 97.33%,#22a884 98.71%,#1fa188 100.00%)"></div><div class="abs" style="left:16px;top:0;width:4px;height:100%;background:linear-gradient(#d8e219 0.00%,#d5e21a 7.96%,#d2e21b 15.39%,#cde11d 22.31%,#cae11f 28.76%,#c8e020 34.78%,#c2df23 40.39%,#bddf26 45.63%,#b8de29 50.50%,#b2dd2d 55.05%,#addc30 59.30%,#a8db34 63.25%,#a0da39 66.94%,#9bd93c 70.38%,#93d741 73.58%,#8bd646 76.57%,#81d34d 79.36%,#77d153 81.96%,#6ece58 84.38%,#65cb5e 86.64%,#5ac864 88.75%,#50c46a 90.71%,#44bf70 92.54%,#3aba76 94.25%,#31b57b 95.84%,#28ae80 97.33%,#22a785 98.71%,#1f9f88 100.00%)"></div><div class="abs" style="left:20px;top:0;width:4px;height:100%;background:linear-gradient(#d8e219 0.00%,#d5e21a 7.96%,#d2e21b 15.39%,#cde11d 22.31%,#cae11f 28.76%,#c5e021 34.78%,#c2df23 40.39%,#bddf26 45.63%,#b8de29 50.50%,#b2dd2d 55.05%,#addc30 59.30%,#a5db36 63.25%,#a0da39 66.94%,#98d83e 70.38%,#90d743 73.58%,#89d548 76.57%,#7fd34e 79.36%,#77d153 81.96%,#6ece58 84.38%,#63cb5f 86.64%,#58c765 88.75%,#4ec36b 90.71%,#42be71 92.54%,#38b977 94.25%,#2fb47c 95.84%,#26ad81 97.33%,#21a585 98.71%,#1f9e89 100.00%)"></div><div class="abs" style="left:24px;top:0;width:4px;height:100%;background:linear-gradient(#d8e219 0.00%,#d2e21b 7.96%,#d0e11c 15.39%,#cde11d 22.31%,#cae11f 28.76%,#c5e021 34.78%,#c0df25 40.39%,#bddf26 45.63%,#b8de29 50.50%,#b2dd2d 55.05%,#aadc32 59.30%,#a5db36 63.25%,#9dd93b 66.94%,#98d83e 70.38%,#90d743 73.58%,#86d549 76.57%,#7fd34e 79.36%,#75d054 81.96%,#6ccd5a 84.38%,#60ca60 86.64%,#56c667 88.75%,#4cc26c 90.71%,#40bd72 92.54%,#37b878 94.25%,#2eb37c 95.84%,#25ac82 97.33%,#20a486 98.71%,#1e9c89 100.00%)"></div><div class="abs" style="left:28px;top:0;width:4px;height:100%;background:linear-gradient(#d5e21a 0.00%,#d2e21b 7.96%,#d0e11c 15.39%,#cde11d 22.31%,#c8e020 28.76%,#c5e021 34.78%,#c0df25 40.39%,#bade28 45.63%,#b5de2b 50.50%,#b0dd2f 55.05%,#aadc32 59.30%,#a5db36 63.25%,#9dd93b 66.94%,#95d840 70.38%,#8ed645 73.58%,#86d549 76.57%,#7cd250 79.36%,#73d056 81.96%,#69cd5b 84.38%,#60ca60 86.64%,#56c667 88.75%,#4ac16d 90.71%,#3fbc73 92.54%,#35b779 94.25%,#2cb17e 95.84%,#25ab82 97.33%,#20a386 98.71%,#1e9b8a 100.00%)"></div><div class="abs" style="left:32px;top:0;width:4px;height:100%;background:linear-gradient(#d5e21a 0.00%,#d2e21b 7.96%,#d0e11c 15.39%,#cae11f 22.31%,#c8e020 28.76%,#c2df23 34.78%,#c0df25 40.39%,#bade28 45.63%,#b5de2b 50.50%,#b0dd2f 55.05%,#aadc32 59.30%,#a2da37 63.25%,#9bd93c 66.94%,#95d840 70.38%,#8bd646 73.58%,#84d44b 76.57%,#7ad151 79.36%,#73d056 81.96%,#67cc5c 84.38%,#5ec962 86.64%,#54c568 88.75%,#48c16e 90.71%,#3dbc74 92.54%,#34b679 94.25%,#2ab07f 95.84%,#24aa83 97.33%,#1fa287 98.71%,#1f9a8a 100.00%)"></div><div class="abs" style="left:36px;top:0;width:4px;height:100%;background:linear-gradient(#d5e21a 0.00%,#d2e21b 7.96%,#d0e11c 15.39%,#cae11f 22.31%,#c8e020 28.76%,#c2df23 34.78%,#bddf26 40.39%,#bade28 45.63%,#b5de2b 50.50%,#addc30 55.05%,#a8db34 59.30%,#a2da37 63.25%,#9bd93c 66.94%,#93d741 70.38%,#8bd646 73.58%,#81d34d 76.57%,#7ad151 79.36%,#70cf57 81.96%,#67cc5c 84.38%,#5cc863 86.64%,#52c569 88.75%,#46c06f 90.71%,#3bbb75 92.54%,#32b67a 94.25%,#29af7f 95.84%,#22a884 97.33%,#1fa188 98.71%,#1f988b 100.00%)"></div><div class="abs" style="left:40px;top:0;width:4px;height:100%;background:linear-gradient(#d5e21a 0.00%,#d2e21b 7.96%,#cde11d 15.39%,#cae11f 22.31%,#c5e021 28.76%,#c2df23 34.78%,#bddf26 40.39%,#b8de29 45.63%,#b2dd2d 50.50%,#addc30 55.05%,#a8db34 59.30%,#a0da39 63.25%,#98d83e 66.94%,#90d743 70.38%,#89d548 73.58%,#81d34d 76.57%,#77d153 79.36%,#6ece58 81.96%,#65cb5e 84.38%,#5ac864 86.64%,#50c46a 88.75%,#44bf70 90.71%,#3aba76 92.54%,#31b57b 94.25%,#28ae80 95.84%,#22a785 97.33%,#1fa088 98.71%,#1f978b 100.00%)"></div><div class="abs" style="left:44px;top:0;width:4px;height:100%;background:linear-gradient(#d5e21a 0.00%,#d0e11c 7.96%,#cde11d 15.39%,#cae11f 22.31%,#c5e021 28.76%,#c0df25 34.78%,#bddf26 40.39%,#b8de29 45.63%,#b2dd2d 50.50%,#addc30 55.05%,#a5db36 59.30%,#a0da39 63.25%,#98d83e 66.94%,#90d743 70.38%,#89d548 73.58%,#7fd34e 76.57%,#75d054 79.36%,#6ccd5a 81.96%,#63cb5f 84.38%,#58c765 86.64%,#4ec36b 88.75%,#44bf70 90.71%,#38b977 92.54%,#2fb47c 94.25%,#27ad81 95.84%,#21a685 97.33%,#1f9f88 98.71%,#1f958b 100.00%)"></div><div class="abs" style="left:48px;top:0;width:4px;height:100%;background:linear-gradient(#d2e21b 0.00%,#d0e11c 7.96%,#cde11d 15.39%,#c8e020 22.31%,#c5e021 28.76%,#c0df25 34.78%,#bade28 40.39%,#b5de2b 45.63%,#b0dd2f 50.50%,#aadc32 55.05%,#a5db36 59.30%,#9dd93b 63.25%,#95d840 66.94%,#8ed645 70.38%,#86d549 73.58%,#7fd34e 76.57%,#75d054 79.36%,#6ccd5a 81.96%,#60ca60 84.38%,#56c667 86.64%,#4cc26c 88.75%,#42be71 90.71%,#37b878 92.54%,#2eb37c 94.25%,#26ad81 95.84%,#21a585 97.33%,#1e9d89 98.71%,#1f948c 100.00%)"></div><div class="abs" style="left:52px;top:0;width:4px;height:100%;background:linear-gradient(#d2e21b 0.00%,#d0e11c 7.96%,#cde11d 15.39%,#c8e020 22.31%,#c5e021 28.76%,#c0df25 34.78%,#bade28 40.39%,#b5de2b 45.63%,#b0dd2f 50.50%,#aadc32 55.05%,#a2da37 59.30%,#9dd93b 63.25%,#95d840 66.94%,#8ed645 70.38%,#86d549 73.58%,#7cd250 76.57%,#73d056 79.36%,#69cd5b 81.96%,#60ca60 84.38%,#56c667 86.64%,#4ac16d 88.75%,#40bd72 90.71%,#35b779 92.54%,#2db27d 94.25%,#25ab82 95.84%,#20a386 97.33%,#1e9c89 98.71%,#20928c 100.00%)"></div><div class="abs" style="left:56px;top:0;width:4px;height:100%;background:linear-gradient(#d2e21b 0.00%,#d0e11c 7.96%,#cae11f 15.39%,#c8e020 22.31%,#c2df23 28.76%,#c0df25 34.78%,#bade28 40.39%,#b5de2b 45.63%,#b0dd2f 50.50%,#a8db34 55.05%,#a2da37 59.30%,#9bd93c 63.25%,#93d741 66.94%,#8bd646 70.38%,#84d44b 73.58%,#7ad151 76.57%,#70cf57 79.36%,#67cc5c 81.96%,#5ec962 84.38%,#54c568 86.64%,#48c16e 88.75%,#3fbc73 90.71%,#34b679 92.54%,#2cb17e 94.25%,#24aa83 95.84%,#1fa287 97.33%,#1e9b8a 98.71%,#20928c 100.00%)"></div><div class="abs" style="left:60px;top:0;width:4px;height:100%;background:linear-gradient(#d2e21b 0.00%,#cde11d 7.96%,#cae11f 15.39%,#c8e020 22.31%,#c2df23 28.76%,#bddf26 34.78%,#b8de29 40.39%,#b2dd2d 45.63%,#addc30 50.50%,#a8db34 55.05%,#a0da39 59.30%,#9bd93c 63.25%,#93d741 66.94%,#8bd646 70.38%,#81d34d 73.58%,#7ad151 76.57%,#70cf57 79.36%,#67cc5c 81.96%,#5cc863 84.38%,#52c569 86.64%,#48c16e 88.75%,#3dbc74 90.71%,#32b67a 92.54%,#2ab07f 94.25%,#23a983 95.84%,#1fa187 97.33%,#1f998a 98.71%,#21918c 100.00%)"></div><div class="abs" style="left:64px;top:0;width:4px;height:100%;background:linear-gradient(#d0e11c 0.00%,#cde11d 7.96%,#cae11f 15.39%,#c5e021 22.31%,#c2df23 28.76%,#bddf26 34.78%,#b8de29 40.39%,#b2dd2d 45.63%,#addc30 50.50%,#a8db34 55.05%,#a0da39 59.30%,#98d83e 63.25%,#90d743 66.94%,#89d548 70.38%,#81d34d 73.58%,#77d153 76.57%,#6ece58 79.36%,#65cb5e 81.96%,#5ac864 84.38%,#50c46a 86.64%,#46c06f 88.75%,#3bbb75 90.71%,#31b57b 92.54%,#28ae80 94.25%,#22a884 95.84%,#1fa188 97.33%,#1f988b 98.71%,#218f8d 100.00%)"></div><div class="abs" style="left:68px;top:0;width:4px;height:100%;background:linear-gradient(#d0e11c 0.00%,#cde11d 7.96%,#cae11f 15.39%,#c5e021 22.31%,#c0df25 28.76%,#bddf26 34.78%,#b8de29 40.39%,#b2dd2d 45.63%,#addc30 50.50%,#a5db36 55.05%,#a0da39 59.30%,#98d83e 63.25%,#90d743 66.94%,#89d548 70.38%,#7fd34e 73.58%,#77d153 76.57%,#6ece58 79.36%,#63cb5f 81.96%,#58c765 84.38%,#4ec36b 86.64%,#44bf70 88.75%,#3aba76 90.71%,#2fb47c 92.54%,#27ad81 94.25%,#22a785 95.84%,#1fa088 97.33%,#1f978b 98.71%,#218e8d 100.00%)"></div><div class="abs" style="left:72px;top:0;width:4px;height:100%;background:linear-gradient(#d0e11c 0.00%,#cde11d 7.96%,#c8e020 15.39%,#c5e021 22.31%,#c0df25 28.76%,#bade28 34.78%,#b5de2b 40.39%,#b0dd2f 45.63%,#aadc32 50.50%,#a5db36 55.05%,#9dd93b 59.30%,#95d840 63.25%,#8ed645 66.94%,#86d549 70.38%,#7fd34e 73.58%,#75d054 76.57%,#6ccd5a 79.36%,#60ca60 81.96%,#58c765 84.38%,#4ec36b 86.64%,#42be71 88.75%,#38b977 90.71%,#2eb37c 92.54%,#26ad81 94.25%,#21a685 95.84%,#1f9e89 97.33%,#1f958b 98.71%,#228c8d 100.00%)"></div><div class="abs" style="left:76px;top:0;width:4px;height:100%;background:linear-gradient(#d0e11c 0.00%,#cae11f 7.96%,#c8e020 15.39%,#c2df23 22.31%,#c0df25 28.76%,#bade28 34.78%,#b5de2b 40.39%,#b0dd2f 45.63%,#aadc32 50.50%,#a2da37 55.05%,#9dd93b 59.30%,#95d840 63.25%,#8ed645 66.94%,#86d549 70.38%,#7cd250 73.58%,#73d056 76.57%,#69cd5b 79.36%,#60ca60 81.96%,#56c667 84.38%,#4cc26c 86.64%,#40bd72 88.75%,#37b878 90.71%,#2db27d 92.54%,#25ac82 94.25%,#20a486 95.84%,#1e9d89 97.33%,#1f948c 98.71%,#228b8d 100.00%)"></div><div class="abs" style="left:80px;top:0;width:4px;height:100%;background:linear-gradient(#d0e11c 0.00%,#cae11f 7.96%,#c8e020 15.39%,#c2df23 22.31%,#c0df25 28.76%,#bade28 34.78%,#b5de2b 40.39%,#b0dd2f 45.63%,#a8db34 50.50%,#a2da37 55.05%,#9bd93c 59.30%,#93d741 63.25%,#8bd646 66.94%,#84d44b 70.38%,#7cd250 73.58%,#73d056 76.57%,#69cd5b 79.36%,#5ec962 81.96%,#54c568 84.38%,#4ac16d 86.64%,#3fbc73 88.75%,#35b779 90.71%,#2cb17e 92.54%,#25ab82 94.25%,#20a386 95.84%,#1e9c89 97.33%,#20938c 98.71%,#23898e 100.00%)"></div><div class="abs" style="left:84px;top:0;width:4px;height:100%;background:linear-gradient(#cde11d 0.00%,#cae11f 7.96%,#c8e020 15.39%,#c2df23 22.31%,#bddf26 28.76%,#b8de29 34.78%,#b2dd2d 40.39%,#addc30 45.63%,#a8db34 50.50%,#a2da37 55.05%,#9bd93c 59.30%,#93d741 63.25%,#8bd646 66.94%,#84d44b 70.38%,#7ad151 73.58%,#70cf57 76.57%,#67cc5c 79.36%,#5cc863 81.96%,#52c569 84.38%,#48c16e 86.64%,#3dbc74 88.75%,#34b679 90.71%,#2ab07f 92.54%,#24aa83 94.25%,#1fa287 95.84%,#1e9b8a 97.33%,#20928c 98.71%,#23888e 100.00%)"></div><div class="abs" style="left:88px;top:0;width:4px;height:100%;background:linear-gradient(#cde11d 0.00%,#cae11f 7.96%,#c5e021 15.39%,#c2df23 22.31%,#bddf26 28.76%,#b8de29 34.78%,#b2dd2d 40.39%,#addc30 45.63%,#a8db34 50.50%,#a0da39 55.05%,#98d83e 59.30%,#93d741 63.25%,#89d548 66.94%,#81d34d 70.38%,#77d153 73.58%,#6ece58 76.57%,#65cb5e 79.36%,#5cc863 81.96%,#52c569 84.38%,#46c06f 86.64%,#3dbc74 88.75%,#32b67a 90.71%,#29af7f 92.54%,#23a983 94.25%,#1fa187 95.84%,#1f998a 97.33%,#21918c 98.71%,#24878e 100.00%)"></div><div class="abs" style="left:92px;top:0;width:4px;height:100%;background:linear-gradient(#cde11d 0.00%,#cae11f 7.96%,#c5e021 15.39%,#c0df25 22.31%,#bddf26 28.76%,#b8de29 34.78%,#b2dd2d 40.39%,#addc30 45.63%,#a5db36 50.50%,#a0da39 55.05%,#98d83e 59.30%,#90d743 63.25%,#89d548 66.94%,#7fd34e 70.38%,#77d153 73.58%,#6ece58 76.57%,#65cb5e 79.36%,#5ac864 81.96%,#50c46a 84.38%,#44bf70 86.64%,#3bbb75 88.75%,#31b57b 90.71%,#28ae80 92.54%,#22a884 94.25%,#1fa188 95.84%,#1f988b 97.33%,#21908d 98.71%,#25858e 100.00%)"></div><div class="abs" style="left:96px;top:0;width:4px;height:100%;background:linear-gradient(#cde11d 0.00%,#c8e020 7.96%,#c5e021 15.39%,#c0df25 22.31%,#bade28 28.76%,#b5de2b 34.78%,#b0dd2f 40.39%,#aadc32 45.63%,#a5db36 50.50%,#9dd93b 55.05%,#98d83e 59.30%,#90d743 63.25%,#86d549 66.94%,#7fd34e 70.38%,#75d054 73.58%,#6ccd5a 76.57%,#63cb5f 79.36%,#58c765 81.96%,#4ec36b 84.38%,#44bf70 86.64%,#3aba76 88.75%,#2fb47c 90.71%,#27ad81 92.54%,#22a785 94.25%,#1fa088 95.84%,#1f978b 97.33%,#218e8d 98.71%,#25848e 100.00%)"></div><div class="abs" style="left:100px;top:0;width:4px;height:100%;background:linear-gradient(#cde11d 0.00%,#c8e020 7.96%,#c5e021 15.39%,#c0df25 22.31%,#bade28 28.76%,#b5de2b 34.78%,#b0dd2f 40.39%,#aadc32 45.63%,#a2da37 50.50%,#9dd93b 55.05%,#95d840 59.30%,#8ed645 63.25%,#86d549 66.94%,#7cd250 70.38%,#75d054 73.58%,#6ccd5a 76.57%,#60ca60 79.36%,#58c765 81.96%,#4cc26c 84.38%,#42be71 86.64%,#38b977 88.75%,#2eb37c 90.71%,#26ad81 92.54%,#21a685 94.25%,#1f9f88 95.84%,#1f968b 97.33%,#228d8d 98.71%,#26828e 100.00%)"></div><div class="abs" style="left:104px;top:0;width:4px;height:100%;background:linear-gradient(#cae11f 0.00%,#c8e020 7.96%,#c2df23 15.39%,#c0df25 22.31%,#bade28 28.76%,#b5de2b 34.78%,#b0dd2f 40.39%,#aadc32 45.63%,#a2da37 50.50%,#9dd93b 55.05%,#95d840 59.30%,#8ed645 63.25%,#84d44b 66.94%,#7cd250 70.38%,#73d056 73.58%,#69cd5b 76.57%,#60ca60 79.36%,#56c667 81.96%,#4cc26c 84.38%,#40bd72 86.64%,#37b878 88.75%,#2db27d 90.71%,#25ac82 92.54%,#21a585 94.25%,#1e9d89 95.84%,#1f948c 97.33%,#228c8d 98.71%,#26828e 100.00%)"></div><div class="abs" style="left:108px;top:0;width:4px;height:100%;background:linear-gradient(#cae11f 0.00%,#c8e020 7.96%,#c2df23 15.39%,#bddf26 22.31%,#bade28 28.76%,#b5de2b 34.78%,#addc30 40.39%,#a8db34 45.63%,#a2da37 50.50%,#9bd93c 55.05%,#93d741 59.30%,#8bd646 63.25%,#84d44b 66.94%,#7ad151 70.38%,#73d056 73.58%,#67cc5c 76.57%,#5ec962 79.36%,#54c568 81.96%,#4ac16d 84.38%,#3fbc73 86.64%,#35b779 88.75%,#2db27d 90.71%,#25ab82 92.54%,#20a486 94.25%,#1e9c89 95.84%,#20938c 97.33%,#238a8d 98.71%,#27808e 100.00%)"></div><div class="abs" style="left:112px;top:0;width:4px;height:100%;background:linear-gradient(#cae11f 0.00%,#c5e021 7.96%,#c2df23 15.39%,#bddf26 22.31%,#b8de29 28.76%,#b2dd2d 34.78%,#addc30 40.39%,#a8db34 45.63%,#a0da39 50.50%,#9bd93c 55.05%,#93d741 59.30%,#8bd646 63.25%,#81d34d 66.94%,#7ad151 70.38%,#70cf57 73.58%,#67cc5c 76.57%,#5cc863 79.36%,#52c569 81.96%,#48c16e 84.38%,#3dbc74 86.64%,#34b679 88.75%,#2cb17e 90.71%,#24aa83 92.54%,#20a386 94.25%,#1e9b8a 95.84%,#20928c 97.33%,#23898e 98.71%,#277f8e 100.00%)"></div><div class="abs" style="left:116px;top:0;width:4px;height:100%;background:linear-gradient(#cae11f 0.00%,#c5e021 7.96%,#c2df23 15.39%,#bddf26 22.31%,#b8de29 28.76%,#b2dd2d 34.78%,#addc30 40.39%,#a5db36 45.63%,#a0da39 50.50%,#98d83e 55.05%,#90d743 59.30%,#89d548 63.25%,#81d34d 66.94%,#77d153 70.38%,#6ece58 73.58%,#65cb5e 76.57%,#5cc863 79.36%,#52c569 81.96%,#46c06f 84.38%,#3dbc74 86.64%,#32b67a 88.75%,#2ab07f 90.71%,#23a983 92.54%,#1fa187 94.25%,#1f9a8a 95.84%,#20928c 97.33%,#23888e 98.71%,#277e8e 100.00%)"></div><div class="abs" style="left:120px;top:0;width:4px;height:100%;background:linear-gradient(#c8e020 0.00%,#c5e021 7.96%,#c0df25 15.39%,#bddf26 22.31%,#b8de29 28.76%,#b2dd2d 34.78%,#aadc32 40.39%,#a5db36 45.63%,#a0da39 50.50%,#98d83e 55.05%,#90d743 59.30%,#89d548 63.25%,#7fd34e 66.94%,#77d153 70.38%,#6ece58 73.58%,#65cb5e 76.57%,#5ac864 79.36%,#50c46a 81.96%,#46c06f 84.38%,#3bbb75 86.64%,#32b67a 88.75%,#29af7f 90.71%,#22a884 92.54%,#1fa188 94.25%,#1f998a 95.84%,#21908d 97.33%,#24868e 98.71%,#287c8e 100.00%)"></div><div class="abs" style="left:124px;top:0;width:4px;height:100%;background:linear-gradient(#c8e020 0.00%,#c5e021 7.96%,#c0df25 15.39%,#bade28 22.31%,#b5de2b 28.76%,#b0dd2f 34.78%,#aadc32 40.39%,#a5db36 45.63%,#9dd93b 50.50%,#95d840 55.05%,#90d743 59.30%,#86d549 63.25%,#7fd34e 66.94%,#75d054 70.38%,#6ccd5a 73.58%,#63cb5f 76.57%,#58c765 79.36%,#4ec36b 81.96%,#44bf70 84.38%,#3aba76 86.64%,#31b57b 88.75%,#28ae80 90.71%,#22a785 92.54%,#1fa088 94.25%,#1f988b 95.84%,#218f8d 97.33%,#25858e 98.71%,#297b8e 100.00%)"></div><div class="abs" style="left:128px;top:0;width:4px;height:100%;background:linear-gradient(#c8e020 0.00%,#c2df23 7.96%,#c0df25 15.39%,#bade28 22.31%,#b5de2b 28.76%,#b0dd2f 34.78%,#aadc32 40.39%,#a2da37 45.63%,#9dd93b 50.50%,#95d840 55.05%,#8ed645 59.30%,#86d549 63.25%,#7cd250 66.94%,#75d054 70.38%,#6ccd5a 73.58%,#60ca60 76.57%,#58c765 79.36%,#4ec36b 81.96%,#42be71 84.38%,#38b977 86.64%,#2fb47c 88.75%,#27ad81 90.71%,#21a685 92.54%,#1f9f88 94.25%,#1f968b 95.84%,#218e8d 97.33%,#25848e 98.71%,#29798e 100.00%)"></div><div class="abs" style="left:132px;top:0;width:4px;height:100%;background:linear-gradient(#c8e020 0.00%,#c2df23 7.96%,#c0df25 15.39%,#bade28 22.31%,#b5de2b 28.76%,#b0dd2f 34.78%,#a8db34 40.39%,#a2da37 45.63%,#9bd93c 50.50%,#95d840 55.05%,#8ed645 59.30%,#84d44b 63.25%,#7cd250 66.94%,#73d056 70.38%,#69cd5b 73.58%,#60ca60 76.57%,#56c667 79.36%,#4cc26c 81.96%,#40bd72 84.38%,#37b878 86.64%,#2eb37c 88.75%,#26ad81 90.71%,#21a585 92.54%,#1f9e89 94.25%,#1f958b 95.84%,#228d8d 97.33%,#26828e 98.71%,#2a788e 100.00%)"></div><div class="abs" style="left:136px;top:0;width:4px;height:100%;background:linear-gradient(#c8e020 0.00%,#c2df23 7.96%,#bddf26 15.39%,#b8de29 22.31%,#b5de2b 28.76%,#addc30 34.78%,#a8db34 40.39%,#a2da37 45.63%,#9bd93c 50.50%,#93d741 55.05%,#8bd646 59.30%,#84d44b 63.25%,#7ad151 66.94%,#73d056 70.38%,#69cd5b 73.58%,#5ec962 76.57%,#54c568 79.36%,#4ac16d 81.96%,#40bd72 84.38%,#37b878 86.64%,#2db27d 88.75%,#25ac82 90.71%,#20a486 92.54%,#1e9d89 94.25%,#1f948c 95.84%,#228b8d 97.33%,#26828e 98.71%,#2a778e 100.00%)"></div><div class="abs" style="left:140px;top:0;width:4px;height:100%;background:linear-gradient(#c5e021 0.00%,#c2df23 7.96%,#bddf26 15.39%,#b8de29 22.31%,#b2dd2d 28.76%,#addc30 34.78%,#a8db34 40.39%,#a0da39 45.63%,#9bd93c 50.50%,#93d741 55.05%,#8bd646 59.30%,#81d34d 63.25%,#7ad151 66.94%,#70cf57 70.38%,#67cc5c 73.58%,#5cc863 76.57%,#54c568 79.36%,#48c16e 81.96%,#3fbc73 84.38%,#35b779 86.64%,#2cb17e 88.75%,#25ab82 90.71%,#20a386 92.54%,#1e9c89 94.25%,#20938c 95.84%,#238a8d 97.33%,#26818e 98.71%,#2b758e 100.00%)"></div><div class="abs" style="left:144px;top:0;width:4px;height:100%;background:linear-gradient(#c5e021 0.00%,#c2df23 7.96%,#bddf26 15.39%,#b8de29 22.31%,#b2dd2d 28.76%,#addc30 34.78%,#a8db34 40.39%,#a0da39 45.63%,#98d83e 50.50%,#90d743 55.05%,#89d548 59.30%,#81d34d 63.25%,#77d153 66.94%,#70cf57 70.38%,#65cb5e 73.58%,#5cc863 76.57%,#52c569 79.36%,#48c16e 81.96%,#3dbc74 84.38%,#34b679 86.64%,#2ab07f 88.75%,#24aa83 90.71%,#1fa287 92.54%,#1e9b8a 94.25%,#20928c 95.84%,#23898e 97.33%,#277f8e 98.71%,#2b748e 100.00%)"></div><div class="abs" style="left:148px;top:0;width:4px;height:100%;background:linear-gradient(#c5e021 0.00%,#c0df25 7.96%,#bddf26 15.39%,#b8de29 22.31%,#b2dd2d 28.76%,#addc30 34.78%,#a5db36 40.39%,#a0da39 45.63%,#98d83e 50.50%,#90d743 55.05%,#89d548 59.30%,#81d34d 63.25%,#77d153 66.94%,#6ece58 70.38%,#65cb5e 73.58%,#5ac864 76.57%,#50c46a 79.36%,#46c06f 81.96%,#3bbb75 84.38%,#32b67a 86.64%,#29af7f 88.75%,#23a983 90.71%,#1fa187 92.54%,#1f9a8a 94.25%,#20928c 95.84%,#23888e 97.33%,#277e8e 98.71%,#2c728e 100.00%)"></div><div class="abs" style="left:152px;top:0;width:4px;height:100%;background:linear-gradient(#c5e021 0.00%,#c0df25 7.96%,#bade28 15.39%,#b5de2b 22.31%,#b0dd2f 28.76%,#aadc32 34.78%,#a5db36 40.39%,#9dd93b 45.63%,#98d83e 50.50%,#90d743 55.05%,#86d549 59.30%,#7fd34e 63.25%,#75d054 66.94%,#6ccd5a 70.38%,#63cb5f 73.58%,#5ac864 76.57%,#50c46a 79.36%,#44bf70 81.96%,#3bbb75 84.38%,#31b57b 86.64%,#29af7f 88.75%,#22a884 90.71%,#1fa188 92.54%,#1f998a 94.25%,#21918c 95.84%,#24868e 97.33%,#287d8e 98.71%,#2c718e 100.00%)"></div><div class="abs" style="left:156px;top:0;width:4px;height:100%;background:linear-gradient(#c5e021 0.00%,#c0df25 7.96%,#bade28 15.39%,#b5de2b 22.31%,#b0dd2f 28.76%,#aadc32 34.78%,#a5db36 40.39%,#9dd93b 45.63%,#95d840 50.50%,#8ed645 55.05%,#86d549 59.30%,#7fd34e 63.25%,#75d054 66.94%,#6ccd5a 70.38%,#63cb5f 73.58%,#58c765 76.57%,#4ec36b 79.36%,#44bf70 81.96%,#3aba76 84.38%,#2fb47c 86.64%,#28ae80 88.75%,#22a785 90.71%,#1fa088 92.54%,#1f988b 94.25%,#218f8d 95.84%,#25858e 97.33%,#297b8e 98.71%,#2d708e 100.00%)"></div><div class="abs" style="left:160px;top:0;width:4px;height:100%;background:linear-gradient(#c2df23 0.00%,#c0df25 7.96%,#bade28 15.39%,#b5de2b 22.31%,#b0dd2f 28.76%,#aadc32 34.78%,#a2da37 40.39%,#9dd93b 45.63%,#95d840 50.50%,#8ed645 55.05%,#86d549 59.30%,#7cd250 63.25%,#73d056 66.94%,#69cd5b 70.38%,#60ca60 73.58%,#56c667 76.57%,#4cc26c 79.36%,#42be71 81.96%,#38b977 84.38%,#2fb47c 86.64%,#27ad81 88.75%,#21a685 90.71%,#1f9f88 92.54%,#1f978b 94.25%,#218e8d 95.84%,#25848e 97.33%,#297a8e 98.71%,#2e6f8e 100.00%)"></div><div class="abs" style="left:164px;top:0;width:4px;height:100%;background:linear-gradient(#c2df23 0.00%,#bddf26 7.96%,#bade28 15.39%,#b5de2b 22.31%,#b0dd2f 28.76%,#a8db34 34.78%,#a2da37 40.39%,#9bd93c 45.63%,#93d741 50.50%,#8bd646 55.05%,#84d44b 59.30%,#7cd250 63.25%,#73d056 66.94%,#69cd5b 70.38%,#5ec962 73.58%,#56c667 76.57%,#4cc26c 79.36%,#40bd72 81.96%,#37b878 84.38%,#2eb37c 86.64%,#26ad81 88.75%,#21a585 90.71%,#1f9e89 92.54%,#1f968b 94.25%,#228d8d 95.84%,#25838e 97.33%,#29798e 98.71%,#2e6e8e 100.00%)"></div><div class="abs" style="left:168px;top:0;width:4px;height:100%;background:linear-gradient(#c2df23 0.00%,#bddf26 7.96%,#b8de29 15.39%,#b2dd2d 22.31%,#addc30 28.76%,#a8db34 34.78%,#a2da37 40.39%,#9bd93c 45.63%,#93d741 50.50%,#8bd646 55.05%,#84d44b 59.30%,#7ad151 63.25%,#70cf57 66.94%,#67cc5c 70.38%,#5ec962 73.58%,#54c568 76.57%,#4ac16d 79.36%,#3fbc73 81.96%,#35b779 84.38%,#2db27d 86.64%,#25ac82 88.75%,#20a486 90.71%,#1e9d89 92.54%,#1f948c 94.25%,#228c8d 95.84%,#26828e 97.33%,#2a778e 98.71%,#2f6c8e 100.00%)"></div><div class="abs" style="left:172px;top:0;width:4px;height:100%;background:linear-gradient(#c2df23 0.00%,#bddf26 7.96%,#b8de29 15.39%,#b2dd2d 22.31%,#addc30 28.76%,#a8db34 34.78%,#a0da39 40.39%,#9bd93c 45.63%,#93d741 50.50%,#8bd646 55.05%,#81d34d 59.30%,#7ad151 63.25%,#70cf57 66.94%,#67cc5c 70.38%,#5cc863 73.58%,#54c568 76.57%,#48c16e 79.36%,#3fbc73 81.96%,#35b779 84.38%,#2cb17e 86.64%,#25ab82 88.75%,#20a486 90.71%,#1e9c89 92.54%,#20938c 94.25%,#228b8d 95.84%,#26818e 97.33%,#2a768e 98.71%,#2f6b8e 100.00%)"></div><div class="abs" style="left:176px;top:0;width:4px;height:100%;background:linear-gradient(#c0df25 0.00%,#bddf26 7.96%,#b8de29 15.39%,#b2dd2d 22.31%,#addc30 28.76%,#a5db36 34.78%,#a0da39 40.39%,#98d83e 45.63%,#90d743 50.50%,#89d548 55.05%,#81d34d 59.30%,#77d153 63.25%,#6ece58 66.94%,#65cb5e 70.38%,#5cc863 73.58%,#52c569 76.57%,#48c16e 79.36%,#3dbc74 81.96%,#34b679 84.38%,#2ab07f 86.64%,#24aa83 88.75%,#20a386 90.71%,#1e9b8a 92.54%,#20928c 94.25%,#238a8d 95.84%,#27808e 97.33%,#2b758e 98.71%,#30698e 100.00%)"></div><div class="abs" style="left:180px;top:0;width:4px;height:100%;background:linear-gradient(#c0df25 0.00%,#bade28 7.96%,#b8de29 15.39%,#b2dd2d 22.31%,#aadc32 28.76%,#a5db36 34.78%,#a0da39 40.39%,#98d83e 45.63%,#90d743 50.50%,#89d548 55.05%,#7fd34e 59.30%,#77d153 63.25%,#6ece58 66.94%,#65cb5e 70.38%,#5ac864 73.58%,#50c46a 76.57%,#46c06f 79.36%,#3bbb75 81.96%,#32b67a 84.38%,#2ab07f 86.64%,#23a983 88.75%,#1fa287 90.71%,#1f9a8a 92.54%,#20928c 94.25%,#23888e 95.84%,#277f8e 97.33%,#2c738e 98.71%,#31688e 100.00%)"></div><div class="abs" style="left:184px;top:0;width:4px;height:100%;background:linear-gradient(#c0df25 0.00%,#bade28 7.96%,#b5de2b 15.39%,#b0dd2f 22.31%,#aadc32 28.76%,#a5db36 34.78%,#9dd93b 40.39%,#98d83e 45.63%,#90d743 50.50%,#86d549 55.05%,#7fd34e 59.30%,#75d054 63.25%,#6ccd5a 66.94%,#63cb5f 70.38%,#5ac864 73.58%,#50c46a 76.57%,#44bf70 79.36%,#3bbb75 81.96%,#31b57b 84.38%,#29af7f 86.64%,#23a983 88.75%,#1fa187 90.71%,#1f998a 92.54%,#21918c 94.25%,#24878e 95.84%,#277e8e 97.33%,#2c728e 98.71%,#31668e 100.00%)"></div><div class="abs" style="left:188px;top:0;width:4px;height:100%;background:linear-gradient(#c0df25 0.00%,#bade28 7.96%,#b5de2b 15.39%,#b0dd2f 22.31%,#aadc32 28.76%,#a2da37 34.78%,#9dd93b 40.39%,#95d840 45.63%,#8ed645 50.50%,#86d549 55.05%,#7fd34e 59.30%,#75d054 63.25%,#6ccd5a 66.94%,#63cb5f 70.38%,#58c765 73.58%,#4ec36b 76.57%,#44bf70 79.36%,#3aba76 81.96%,#31b57b 84.38%,#28ae80 86.64%,#22a884 88.75%,#1fa188 90.71%,#1f988b 92.54%,#21908d 94.25%,#24868e 95.84%,#287c8e 97.33%,#2c718e 98.71%,#32658e 100.00%)"></div><div class="abs" style="left:192px;top:0;width:4px;height:100%;background:linear-gradient(#c0df25 0.00%,#bade28 7.96%,#b5de2b 15.39%,#b0dd2f 22.31%,#aadc32 28.76%,#a2da37 34.78%,#9dd93b 40.39%,#95d840 45.63%,#8ed645 50.50%,#86d549 55.05%,#7cd250 59.30%,#73d056 63.25%,#69cd5b 66.94%,#60ca60 70.38%,#56c667 73.58%,#4cc26c 76.57%,#42be71 79.36%,#38b977 81.96%,#2fb47c 84.38%,#27ad81 86.64%,#22a785 88.75%,#1fa088 90.71%,#1f978b 92.54%,#218f8d 94.25%,#25858e 95.84%,#297b8e 97.33%,#2d708e 98.71%,#32648e 100.00%)"></div><div class="abs" style="left:196px;top:0;width:4px;height:100%;background:linear-gradient(#bddf26 0.00%,#bade28 7.96%,#b5de2b 15.39%,#b0dd2f 22.31%,#a8db34 28.76%,#a2da37 34.78%,#9bd93c 40.39%,#93d741 45.63%,#8bd646 50.50%,#84d44b 55.05%,#7cd250 59.30%,#73d056 63.25%,#69cd5b 66.94%,#60ca60 70.38%,#56c667 73.58%,#4cc26c 76.57%,#40bd72 79.36%,#38b977 81.96%,#2eb37c 84.38%,#26ad81 86.64%,#21a685 88.75%,#1f9f88 90.71%,#1f968b 92.54%,#218e8d 94.25%,#25848e 95.84%,#297a8e 97.33%,#2e6f8e 98.71%,#33628d 100.00%)"></div><div class="abs" style="left:200px;top:0;width:4px;height:100%;background:linear-gradient(#bddf26 0.00%,#b8de29 7.96%,#b2dd2d 15.39%,#addc30 22.31%,#a8db34 28.76%,#a2da37 34.78%,#9bd93c 40.39%,#93d741 45.63%,#8bd646 50.50%,#84d44b 55.05%,#7ad151 59.30%,#73d056 63.25%,#67cc5c 66.94%,#5ec962 70.38%,#54c568 73.58%,#4ac16d 76.57%,#40bd72 79.36%,#37b878 81.96%,#2db27d 84.38%,#25ac82 86.64%,#21a585 88.75%,#1f9e89 90.71%,#1f958b 92.54%,#228d8d 94.25%,#25838e 95.84%,#29798e 97.33%,#2e6e8e 98.71%,#34618d 100.00%)"></div><div class="abs" style="left:204px;top:0;width:4px;height:100%;background:linear-gradient(#bddf26 0.00%,#b8de29 7.96%,#b2dd2d 15.39%,#addc30 22.31%,#a8db34 28.76%,#a0da39 34.78%,#9bd93c 40.39%,#93d741 45.63%,#8bd646 50.50%,#81d34d 55.05%,#7ad151 59.30%,#70cf57 63.25%,#67cc5c 66.94%,#5ec962 70.38%,#54c568 73.58%,#4ac16d 76.57%,#3fbc73 79.36%,#35b779 81.96%,#2db27d 84.38%,#25ac82 86.64%,#20a486 88.75%,#1e9d89 90.71%,#1f948c 92.54%,#228c8d 94.25%,#26828e 95.84%,#2a778e 97.33%,#2f6c8e 98.71%,#355f8d 100.00%)"></div><div class="abs" style="left:208px;top:0;width:4px;height:100%;background:linear-gradient(#bddf26 0.00%,#b8de29 7.96%,#b2dd2d 15.39%,#addc30 22.31%,#a5db36 28.76%,#a0da39 34.78%,#98d83e 40.39%,#90d743 45.63%,#89d548 50.50%,#81d34d 55.05%,#77d153 59.30%,#70cf57 63.25%,#65cb5e 66.94%,#5cc863 70.38%,#52c569 73.58%,#48c16e 76.57%,#3dbc74 79.36%,#34b679 81.96%,#2cb17e 84.38%,#25ab82 86.64%,#20a386 88.75%,#1e9c89 90.71%,#20938c 92.54%,#228b8d 94.25%,#26818e 95.84%,#2a768e 97.33%,#2f6b8e 98.71%,#355e8d 100.00%)"></div><div class="abs" style="left:212px;top:0;width:4px;height:100%;background:linear-gradient(#bade28 0.00%,#b8de29 7.96%,#b2dd2d 15.39%,#aadc32 22.31%,#a5db36 28.76%,#a0da39 34.78%,#98d83e 40.39%,#90d743 45.63%,#89d548 50.50%,#81d34d 55.05%,#77d153 59.30%,#6ece58 63.25%,#65cb5e 66.94%,#5ac864 70.38%,#52c569 73.58%,#46c06f 76.57%,#3dbc74 79.36%,#34b679 81.96%,#2ab07f 84.38%,#24aa83 86.64%,#1fa287 88.75%,#1e9b8a 90.71%,#20928c 92.54%,#238a8d 94.25%,#27808e 95.84%,#2b758e 97.33%,#306a8e 98.71%,#365c8d 100.00%)"></div><div class="abs" style="left:216px;top:0;width:4px;height:100%;background:linear-gradient(#bade28 0.00%,#b5de2b 7.96%,#b0dd2f 15.39%,#aadc32 22.31%,#a5db36 28.76%,#9dd93b 34.78%,#98d83e 40.39%,#90d743 45.63%,#89d548 50.50%,#7fd34e 55.05%,#77d153 59.30%,#6ece58 63.25%,#63cb5f 66.94%,#5ac864 70.38%,#50c46a 73.58%,#46c06f 76.57%,#3bbb75 79.36%,#32b67a 81.96%,#29af7f 84.38%,#23a983 86.64%,#1fa287 88.75%,#1f9a8a 90.71%,#20928c 92.54%,#23898e 94.25%,#277f8e 95.84%,#2b748e 97.33%,#31688e 98.71%,#375b8d 100.00%)"></div><div class="abs" style="left:220px;top:0;width:4px;height:100%;background:linear-gradient(#bade28 0.00%,#b5de2b 7.96%,#b0dd2f 15.39%,#aadc32 22.31%,#a5db36 28.76%,#9dd93b 34.78%,#95d840 40.39%,#8ed645 45.63%,#86d549 50.50%,#7fd34e 55.05%,#75d054 59.30%,#6ccd5a 63.25%,#63cb5f 66.94%,#58c765 70.38%,#4ec36b 73.58%,#44bf70 76.57%,#3aba76 79.36%,#31b57b 81.96%,#29af7f 84.38%,#22a884 86.64%,#1fa187 88.75%,#1f998a 90.71%,#21918c 92.54%,#24878e 94.25%,#277e8e 95.84%,#2c728e 97.33%,#31678e 98.71%,#375a8c 100.00%)"></div><div class="abs" style="left:224px;top:0;width:4px;height:100%;background:linear-gradient(#bade28 0.00%,#b5de2b 7.96%,#b0dd2f 15.39%,#aadc32 22.31%,#a2da37 28.76%,#9dd93b 34.78%,#95d840 40.39%,#8ed645 45.63%,#86d549 50.50%,#7cd250 55.05%,#75d054 59.30%,#6ccd5a 63.25%,#60ca60 66.94%,#58c765 70.38%,#4ec36b 73.58%,#44bf70 76.57%,#3aba76 79.36%,#31b57b 81.96%,#28ae80 84.38%,#22a884 86.64%,#1fa188 88.75%,#1f988b 90.71%,#21908d 92.54%,#24868e 94.25%,#287d8e 95.84%,#2c718e 97.33%,#31668e 98.71%,#38588c 100.00%)"></div><div class="abs" style="left:228px;top:0;width:4px;height:100%;background:linear-gradient(#bade28 0.00%,#b5de2b 7.96%,#b0dd2f 15.39%,#a8db34 22.31%,#a2da37 28.76%,#9bd93c 34.78%,#95d840 40.39%,#8ed645 45.63%,#84d44b 50.50%,#7cd250 55.05%,#73d056 59.30%,#69cd5b 63.25%,#60ca60 66.94%,#56c667 70.38%,#4cc26c 73.58%,#42be71 76.57%,#38b977 79.36%,#2fb47c 81.96%,#27ad81 84.38%,#22a785 86.64%,#1fa088 88.75%,#1f978b 90.71%,#218f8d 92.54%,#25858e 94.25%,#287c8e 95.84%,#2d718e 97.33%,#32648e 98.71%,#39568c 100.00%)"></div><div class="abs" style="left:232px;top:0;width:4px;height:100%;background:linear-gradient(#b8de29 0.00%,#b2dd2d 7.96%,#addc30 15.39%,#a8db34 22.31%,#a2da37 28.76%,#9bd93c 34.78%,#93d741 40.39%,#8bd646 45.63%,#84d44b 50.50%,#7cd250 55.05%,#73d056 59.30%,#69cd5b 63.25%,#5ec962 66.94%,#56c667 70.38%,#4cc26c 73.58%,#40bd72 76.57%,#37b878 79.36%,#2eb37c 81.96%,#26ad81 84.38%,#21a685 86.64%,#1f9f88 88.75%,#1f968b 90.71%,#218e8d 92.54%,#25848e 94.25%,#297a8e 95.84%,#2d708e 97.33%,#33638d 98.71%,#3a548c 100.00%)"></div><div class="abs" style="left:236px;top:0;width:4px;height:100%;background:linear-gradient(#b8de29 0.00%,#b2dd2d 7.96%,#addc30 15.39%,#a8db34 22.31%,#a0da39 28.76%,#9bd93c 34.78%,#93d741 40.39%,#8bd646 45.63%,#84d44b 50.50%,#7ad151 55.05%,#70cf57 59.30%,#67cc5c 63.25%,#5ec962 66.94%,#54c568 70.38%,#4ac16d 73.58%,#40bd72 76.57%,#37b878 79.36%,#2db27d 81.96%,#26ad81 84.38%,#21a585 86.64%,#1f9e89 88.75%,#1f968b 90.71%,#228d8d 92.54%,#25838e 94.25%,#29798e 95.84%,#2e6e8e 97.33%,#33628d 98.71%,#3a538b 100.00%)"></div><div class="abs" style="left:240px;top:0;width:4px;height:100%;background:linear-gradient(#b8de29 0.00%,#b2dd2d 7.96%,#addc30 15.39%,#a8db34 22.31%,#a0da39 28.76%,#98d83e 34.78%,#93d741 40.39%,#8bd646 45.63%,#81d34d 50.50%,#7ad151 55.05%,#70cf57 59.30%,#67cc5c 63.25%,#5cc863 66.94%,#54c568 70.38%,#4ac16d 73.58%,#3fbc73 76.57%,#35b779 79.36%,#2db27d 81.96%,#25ac82 84.38%,#20a486 86.64%,#1e9d89 88.75%,#1f958b 90.71%,#228c8d 92.54%,#26828e 94.25%,#2a788e 95.84%,#2e6d8e 97.33%,#34608d 98.71%,#3b518b 100.00%)"></div><div class="abs" style="left:244px;top:0;width:4px;height:100%;background:linear-gradient(#b8de29 0.00%,#b2dd2d 7.96%,#addc30 15.39%,#a5db36 22.31%,#a0da39 28.76%,#98d83e 34.78%,#90d743 40.39%,#89d548 45.63%,#81d34d 50.50%,#77d153 55.05%,#70cf57 59.30%,#65cb5e 63.25%,#5cc863 66.94%,#52c569 70.38%,#48c16e 73.58%,#3dbc74 76.57%,#34b679 79.36%,#2cb17e 81.96%,#25ab82 84.38%,#20a486 86.64%,#1e9c89 88.75%,#1f948c 90.71%,#228b8d 92.54%,#26828e 94.25%,#2a778e 95.84%,#2f6c8e 97.33%,#355f8d 98.71%,#3c508b 100.00%)"></div><div class="abs" style="left:248px;top:0;width:4px;height:100%;background:linear-gradient(#b8de29 0.00%,#b2dd2d 7.96%,#aadc32 15.39%,#a5db36 22.31%,#a0da39 28.76%,#98d83e 34.78%,#90d743 40.39%,#89d548 45.63%,#81d34d 50.50%,#77d153 55.05%,#6ece58 59.30%,#65cb5e 63.25%,#5ac864 66.94%,#52c569 70.38%,#46c06f 73.58%,#3dbc74 76.57%,#34b679 79.36%,#2ab07f 81.96%,#24aa83 84.38%,#20a386 86.64%,#1e9c89 88.75%,#20938c 90.71%,#238a8d 92.54%,#26818e 94.25%,#2a768e 95.84%,#2f6b8e 97.33%,#355e8d 98.71%,#3c4f8a 100.00%)"></div><div class="abs" style="left:252px;top:0;width:4px;height:100%;background:linear-gradient(#b5de2b 0.00%,#b0dd2f 7.96%,#aadc32 15.39%,#a5db36 22.31%,#9dd93b 28.76%,#98d83e 34.78%,#90d743 40.39%,#89d548 45.63%,#7fd34e 50.50%,#77d153 55.05%,#6ece58 59.30%,#63cb5f 63.25%,#5ac864 66.94%,#50c46a 70.38%,#46c06f 73.58%,#3bbb75 76.57%,#32b67a 79.36%,#2ab07f 81.96%,#24aa83 84.38%,#1fa287 86.64%,#1e9b8a 88.75%,#20928c 90.71%,#23898e 92.54%,#27808e 94.25%,#2b758e 95.84%,#306a8e 97.33%,#365c8d 98.71%,#3d4d8a 100.00%)"></div><div class="abs" style="left:256px;top:0;width:4px;height:100%;background:linear-gradient(#b5de2b 0.00%,#b0dd2f 7.96%,#aadc32 15.39%,#a5db36 22.31%,#9dd93b 28.76%,#95d840 34.78%,#8ed645 40.39%,#86d549 45.63%,#7fd34e 50.50%,#75d054 55.05%,#6ccd5a 59.30%,#63cb5f 63.25%,#58c765 66.94%,#50c46a 70.38%,#44bf70 73.58%,#3bbb75 76.57%,#31b57b 79.36%,#29af7f 81.96%,#23a983 84.38%,#1fa187 86.64%,#1f9a8a 88.75%,#20928c 90.71%,#23888e 92.54%,#277f8e 94.25%,#2c738e 95.84%,#31688e 97.33%,#375b8d 98.71%,#3e4c8a 100.00%)"></div><div class="abs" style="left:260px;top:0;width:4px;height:100%;background:linear-gradient(#b5de2b 0.00%,#b0dd2f 7.96%,#aadc32 15.39%,#a2da37 22.31%,#9dd93b 28.76%,#95d840 34.78%,#8ed645 40.39%,#86d549 45.63%,#7cd250 50.50%,#75d054 55.05%,#6ccd5a 59.30%,#63cb5f 63.25%,#58c765 66.94%,#4ec36b 70.38%,#44bf70 73.58%,#3aba76 76.57%,#31b57b 79.36%,#28ae80 81.96%,#22a884 84.38%,#1fa188 86.64%,#1f998a 88.75%,#21918c 90.71%,#24878e 92.54%,#277e8e 94.25%,#2c728e 95.84%,#31678e 97.33%,#375a8c 98.71%,#3e4989 100.00%)"></div><div class="abs" style="left:264px;top:0;width:4px;height:100%;background:linear-gradient(#b5de2b 0.00%,#b0dd2f 7.96%,#a8db34 15.39%,#a2da37 22.31%,#9bd93c 28.76%,#95d840 34.78%,#8ed645 40.39%,#84d44b 45.63%,#7cd250 50.50%,#73d056 55.05%,#69cd5b 59.30%,#60ca60 63.25%,#56c667 66.94%,#4cc26c 70.38%,#42be71 73.58%,#38b977 76.57%,#2fb47c 79.36%,#27ad81 81.96%,#22a785 84.38%,#1fa088 86.64%,#1f988b 88.75%,#21908d 90.71%,#24868e 92.54%,#287d8e 94.25%,#2c718e 95.84%,#31668e 97.33%,#38588c 98.71%,#3f4889 100.00%)"></div><div class="abs" style="left:268px;top:0;width:4px;height:100%;background:linear-gradient(#b2dd2d 0.00%,#addc30 7.96%,#a8db34 15.39%,#a2da37 22.31%,#9bd93c 28.76%,#93d741 34.78%,#8bd646 40.39%,#84d44b 45.63%,#7cd250 50.50%,#73d056 55.05%,#69cd5b 59.30%,#60ca60 63.25%,#56c667 66.94%,#4cc26c 70.38%,#42be71 73.58%,#38b977 76.57%,#2fb47c 79.36%,#27ad81 81.96%,#21a685 84.38%,#1fa088 86.64%,#1f978b 88.75%,#218f8d 90.71%,#25858e 92.54%,#287c8e 94.25%,#2d718e 95.84%,#32658e 97.33%,#39568c 98.71%,#404688 100.00%)"></div><div class="abs" style="left:272px;top:0;width:4px;height:100%;background:linear-gradient(#b2dd2d 0.00%,#addc30 7.96%,#a8db34 15.39%,#a0da39 22.31%,#9bd93c 28.76%,#93d741 34.78%,#8bd646 40.39%,#84d44b 45.63%,#7ad151 50.50%,#73d056 55.05%,#67cc5c 59.30%,#5ec962 63.25%,#54c568 66.94%,#4ac16d 70.38%,#40bd72 73.58%,#37b878 76.57%,#2eb37c 79.36%,#26ad81 81.96%,#21a685 84.38%,#1f9f88 86.64%,#1f968b 88.75%,#218e8d 90.71%,#25848e 92.54%,#297a8e 94.25%,#2d708e 95.84%,#33638d 97.33%,#39558c 98.71%,#404588 100.00%)"></div><div class="abs" style="left:276px;top:0;width:4px;height:100%;background:linear-gradient(#b2dd2d 0.00%,#addc30 7.96%,#a8db34 15.39%,#a0da39 22.31%,#9bd93c 28.76%,#93d741 34.78%,#8bd646 40.39%,#81d34d 45.63%,#7ad151 50.50%,#70cf57 55.05%,#67cc5c 59.30%,#5ec962 63.25%,#54c568 66.94%,#4ac16d 70.38%,#3fbc73 73.58%,#37b878 76.57%,#2db27d 79.36%,#25ac82 81.96%,#21a585 84.38%,#1f9e89 86.64%,#1f958b 88.75%,#228d8d 90.71%,#25838e 92.54%,#29798e 94.25%,#2e6f8e 95.84%,#33628d 97.33%,#3a538b 98.71%,#414487 100.00%)"></div><div class="abs" style="left:280px;top:0;width:4px;height:100%;background:linear-gradient(#b2dd2d 0.00%,#addc30 7.96%,#a5db36 15.39%,#a0da39 22.31%,#98d83e 28.76%,#90d743 34.78%,#89d548 40.39%,#81d34d 45.63%,#7ad151 50.50%,#70cf57 55.05%,#67cc5c 59.30%,#5cc863 63.25%,#52c569 66.94%,#48c16e 70.38%,#3fbc73 73.58%,#35b779 76.57%,#2db27d 79.36%,#25ac82 81.96%,#20a486 84.38%,#1e9d89 86.64%,#1f958b 88.75%,#228c8d 90.71%,#26828e 92.54%,#2a788e 94.25%,#2e6e8e 95.84%,#34618d 97.33%,#3b528b 98.71%,#424186 100.00%)"></div><div class="abs" style="left:284px;top:0;width:4px;height:100%;background:linear-gradient(#b2dd2d 0.00%,#aadc32 7.96%,#a5db36 15.39%,#a0da39 22.31%,#98d83e 28.76%,#90d743 34.78%,#89d548 40.39%,#81d34d 45.63%,#77d153 50.50%,#6ece58 55.05%,#65cb5e 59.30%,#5cc863 63.25%,#52c569 66.94%,#48c16e 70.38%,#3dbc74 73.58%,#34b679 76.57%,#2cb17e 79.36%,#25ab82 81.96%,#20a386 84.38%,#1e9c89 86.64%,#1f948c 88.75%,#228b8d 90.71%,#26828e 92.54%,#2a778e 94.25%,#2f6c8e 95.84%,#34608d 97.33%,#3b518b 98.71%,#424086 100.00%)"></div><div class="abs" style="left:288px;top:0;width:4px;height:100%;background:linear-gradient(#b0dd2f 0.00%,#aadc32 7.96%,#a5db36 15.39%,#9dd93b 22.31%,#98d83e 28.76%,#90d743 34.78%,#89d548 40.39%,#7fd34e 45.63%,#77d153 50.50%,#6ece58 55.05%,#65cb5e 59.30%,#5ac864 63.25%,#50c46a 66.94%,#46c06f 70.38%,#3dbc74 73.58%,#34b679 76.57%,#2ab07f 79.36%,#24aa83 81.96%,#20a386 84.38%,#1e9c89 86.64%,#20938c 88.75%,#238a8d 90.71%,#26818e 92.54%,#2a768e 94.25%,#2f6b8e 95.84%,#355e8d 97.33%,#3c4f8a 98.71%,#433e85 100.00%)"></div><div class="abs" style="left:292px;top:0;width:4px;height:100%;background:linear-gradient(#b0dd2f 0.00%,#aadc32 7.96%,#a5db36 15.39%,#9dd93b 22.31%,#95d840 28.76%,#90d743 34.78%,#86d549 40.39%,#7fd34e 45.63%,#75d054 50.50%,#6ece58 55.05%,#63cb5f 59.30%,#5ac864 63.25%,#50c46a 66.94%,#46c06f 70.38%,#3bbb75 73.58%,#32b67a 76.57%,#2ab07f 79.36%,#24aa83 81.96%,#1fa287 84.38%,#1e9b8a 86.64%,#20928c 88.75%,#23898e 90.71%,#27808e 92.54%,#2b758e 94.25%,#306a8e 95.84%,#365d8d 97.33%,#3d4e8a 98.71%,#433d84 100.00%)"></div><div class="abs" style="left:296px;top:0;width:4px;height:100%;background:linear-gradient(#b0dd2f 0.00%,#aadc32 7.96%,#a2da37 15.39%,#9dd93b 22.31%,#95d840 28.76%,#8ed645 34.78%,#86d549 40.39%,#7fd34e 45.63%,#75d054 50.50%,#6ccd5a 55.05%,#63cb5f 59.30%,#58c765 63.25%,#4ec36b 66.94%,#44bf70 70.38%,#3bbb75 73.58%,#31b57b 76.57%,#29af7f 79.36%,#23a983 81.96%,#1fa187 84.38%,#1f9a8a 86.64%,#20928c 88.75%,#23898e 90.71%,#277f8e 92.54%,#2b748e 94.25%,#30698e 95.84%,#365c8d 97.33%,#3d4d8a 98.71%,#443a83 100.00%)"></div><div class="abs" style="left:300px;top:0;width:4px;height:100%;background:linear-gradient(#b0dd2f 0.00%,#aadc32 7.96%,#a2da37 15.39%,#9dd93b 22.31%,#95d840 28.76%,#8ed645 34.78%,#86d549 40.39%,#7cd250 45.63%,#75d054 50.50%,#6ccd5a 55.05%,#60ca60 59.30%,#58c765 63.25%,#4ec36b 66.94%,#44bf70 70.38%,#3aba76 73.58%,#31b57b 76.57%,#28ae80 79.36%,#22a884 81.96%,#1fa188 84.38%,#1f998a 86.64%,#21918c 88.75%,#23888e 90.71%,#277e8e 92.54%,#2c738e 94.25%,#31688e 95.84%,#375b8d 97.33%,#3e4a89 98.71%,#443983 100.00%)"></div><div class="abs" style="left:304px;top:0;width:4px;height:100%;background:linear-gradient(#b0dd2f 0.00%,#a8db34 7.96%,#a2da37 15.39%,#9bd93c 22.31%,#95d840 28.76%,#8ed645 34.78%,#84d44b 40.39%,#7cd250 45.63%,#73d056 50.50%,#69cd5b 55.05%,#60ca60 59.30%,#56c667 63.25%,#4cc26c 66.94%,#42be71 70.38%,#38b977 73.58%,#2fb47c 76.57%,#28ae80 79.36%,#22a785 81.96%,#1fa188 84.38%,#1f988b 86.64%,#21908d 88.75%,#24878e 90.71%,#287d8e 92.54%,#2c728e 94.25%,#31678e 95.84%,#38598c 97.33%,#3e4989 98.71%,#453882 100.00%)"></div><div class="abs" style="left:308px;top:0;width:4px;height:100%;background:linear-gradient(#addc30 0.00%,#a8db34 7.96%,#a2da37 15.39%,#9bd93c 22.31%,#93d741 28.76%,#8bd646 34.78%,#84d44b 40.39%,#7cd250 45.63%,#73d056 50.50%,#69cd5b 55.05%,#60ca60 59.30%,#56c667 63.25%,#4cc26c 66.94%,#42be71 70.38%,#38b977 73.58%,#2fb47c 76.57%,#27ad81 79.36%,#22a785 81.96%,#1fa088 84.38%,#1f988b 86.64%,#218f8d 88.75%,#24868e 90.71%,#287c8e 92.54%,#2c718e 94.25%,#32658e 95.84%,#38588c 97.33%,#3f4889 98.71%,#453581 100.00%)"></div><div class="abs" style="left:312px;top:0;width:4px;height:100%;background:linear-gradient(#addc30 0.00%,#a8db34 7.96%,#a0da39 15.39%,#9bd93c 22.31%,#93d741 28.76%,#8bd646 34.78%,#84d44b 40.39%,#7ad151 45.63%,#73d056 50.50%,#67cc5c 55.05%,#5ec962 59.30%,#54c568 63.25%,#4ac16d 66.94%,#40bd72 70.38%,#37b878 73.58%,#2eb37c 76.57%,#26ad81 79.36%,#21a685 81.96%,#1f9f88 84.38%,#1f978b 86.64%,#218f8d 88.75%,#25858e 90.71%,#297b8e 92.54%,#2d718e 94.25%,#32648e 95.84%,#39568c 97.33%,#404688 98.71%,#463480 100.00%)"></div><div class="abs" style="left:316px;top:0;width:4px;height:100%;background:linear-gradient(#addc30 0.00%,#a8db34 7.96%,#a0da39 15.39%,#9bd93c 22.31%,#93d741 28.76%,#8bd646 34.78%,#81d34d 40.39%,#7ad151 45.63%,#70cf57 50.50%,#67cc5c 55.05%,#5ec962 59.30%,#54c568 63.25%,#4ac16d 66.94%,#40bd72 70.38%,#37b878 73.58%,#2db27d 76.57%,#26ad81 79.36%,#21a585 81.96%,#1f9e89 84.38%,#1f968b 86.64%,#218e8d 88.75%,#25848e 90.71%,#297a8e 92.54%,#2d708e 94.25%,#33638d 95.84%,#39558c 97.33%,#404588 98.71%,#46327e 100.00%)"></div><div class="abs" style="left:320px;top:0;width:4px;height:100%;background:linear-gradient(#addc30 0.00%,#a5db36 7.96%,#a0da39 15.39%,#98d83e 22.31%,#90d743 28.76%,#89d548 34.78%,#81d34d 40.39%,#7ad151 45.63%,#70cf57 50.50%,#67cc5c 55.05%,#5cc863 59.30%,#54c568 63.25%,#48c16e 66.94%,#3fbc73 70.38%,#35b779 73.58%,#2db27d 76.57%,#25ac82 79.36%,#21a585 81.96%,#1f9e89 84.38%,#1f958b 86.64%,#228d8d 88.75%,#25838e 90.71%,#29798e 92.54%,#2e6f8e 94.25%,#33628d 95.84%,#3a538b 97.33%,#414487 98.71%,#46307e 100.00%)"></div><div class="abs" style="left:324px;top:0;width:4px;height:100%;background:linear-gradient(#aadc32 0.00%,#a5db36 7.96%,#a0da39 15.39%,#98d83e 22.31%,#90d743 28.76%,#89d548 34.78%,#81d34d 40.39%,#77d153 45.63%,#6ece58 50.50%,#65cb5e 55.05%,#5cc863 59.30%,#52c569 63.25%,#48c16e 66.94%,#3dbc74 70.38%,#35b779 73.58%,#2cb17e 76.57%,#25ab82 79.36%,#20a486 81.96%,#1e9d89 84.38%,#1f948c 86.64%,#228c8d 88.75%,#26828e 90.71%,#2a788e 92.54%,#2e6d8e 94.25%,#34618d 95.84%,#3b528b 97.33%,#424186 98.71%,#472f7d 100.00%)"></div><div class="abs" style="left:328px;top:0;width:4px;height:100%;background:linear-gradient(#aadc32 0.00%,#a5db36 7.96%,#9dd93b 15.39%,#98d83e 22.31%,#90d743 28.76%,#89d548 34.78%,#7fd34e 40.39%,#77d153 45.63%,#6ece58 50.50%,#65cb5e 55.05%,#5ac864 59.30%,#52c569 63.25%,#46c06f 66.94%,#3dbc74 70.38%,#34b679 73.58%,#2cb17e 76.57%,#25ab82 79.36%,#20a386 81.96%,#1e9c89 84.38%,#20938c 86.64%,#228b8d 88.75%,#26828e 90.71%,#2a778e 92.54%,#2f6c8e 94.25%,#34608d 95.84%,#3b518b 97.33%,#424086 98.71%,#472d7b 100.00%)"></div><div class="abs" style="left:332px;top:0;width:4px;height:100%;background:linear-gradient(#aadc32 0.00%,#a5db36 7.96%,#9dd93b 15.39%,#95d840 22.31%,#90d743 28.76%,#86d549 34.78%,#7fd34e 40.39%,#75d054 45.63%,#6ece58 50.50%,#63cb5f 55.05%,#5ac864 59.30%,#50c46a 63.25%,#46c06f 66.94%,#3bbb75 70.38%,#32b67a 73.58%,#2ab07f 76.57%,#24aa83 79.36%,#1fa287 81.96%,#1e9b8a 84.38%,#20938c 86.64%,#238a8d 88.75%,#26818e 90.71%,#2a768e 92.54%,#2f6b8e 94.25%,#355f8d 95.84%,#3c508b 97.33%,#423f85 98.71%,#472c7a 100.00%)"></div><div class="abs" style="left:336px;top:0;width:4px;height:100%;background:linear-gradient(#aadc32 0.00%,#a2da37 7.96%,#9dd93b 15.39%,#95d840 22.31%,#8ed645 28.76%,#86d549 34.78%,#7fd34e 40.39%,#75d054 45.63%,#6ccd5a 50.50%,#63cb5f 55.05%,#5ac864 59.30%,#50c46a 63.25%,#44bf70 66.94%,#3bbb75 70.38%,#32b67a 73.58%,#29af7f 76.57%,#23a983 79.36%,#1fa287 81.96%,#1e9b8a 84.38%,#20928c 86.64%,#23898e 88.75%,#27808e 90.71%,#2b758e 92.54%,#306a8e 94.25%,#365d8d 95.84%,#3d4e8a 97.33%,#433d84 98.71%,#482979 100.00%)"></div><div class="abs" style="left:340px;top:0;width:4px;height:100%;background:linear-gradient(#aadc32 0.00%,#a2da37 7.96%,#9dd93b 15.39%,#95d840 22.31%,#8ed645 28.76%,#86d549 34.78%,#7cd250 40.39%,#75d054 45.63%,#6ccd5a 50.50%,#63cb5f 55.05%,#58c765 59.30%,#4ec36b 63.25%,#44bf70 66.94%,#3aba76 70.38%,#31b57b 73.58%,#29af7f 76.57%,#23a983 79.36%,#1fa187 81.96%,#1f9a8a 84.38%,#20928c 86.64%,#23888e 88.75%,#277f8e 90.71%,#2b748e 92.54%,#30698e 94.25%,#365c8d 95.84%,#3d4d8a 97.33%,#443b84 98.71%,#482878 100.00%)"></div><div class="abs" style="left:344px;top:0;width:4px;height:100%;background:linear-gradient(#a8db34 0.00%,#a2da37 7.96%,#9bd93c 15.39%,#95d840 22.31%,#8ed645 28.76%,#86d549 34.78%,#7cd250 40.39%,#73d056 45.63%,#69cd5b 50.50%,#60ca60 55.05%,#58c765 59.30%,#4ec36b 63.25%,#42be71 66.94%,#3aba76 70.38%,#31b57b 73.58%,#28ae80 76.57%,#22a884 79.36%,#1fa188 81.96%,#1f998a 84.38%,#21918c 86.64%,#23888e 88.75%,#277e8e 90.71%,#2c738e 92.54%,#31688e 94.25%,#375b8d 95.84%,#3e4c8a 97.33%,#443a83 98.71%,#482576 100.00%)"></div><div class="abs" style="left:348px;top:0;width:4px;height:100%;background:linear-gradient(#a8db34 0.00%,#a2da37 7.96%,#9bd93c 15.39%,#93d741 22.31%,#8bd646 28.76%,#84d44b 34.78%,#7cd250 40.39%,#73d056 45.63%,#69cd5b 50.50%,#60ca60 55.05%,#56c667 59.30%,#4cc26c 63.25%,#42be71 66.94%,#38b977 70.38%,#2fb47c 73.58%,#27ad81 76.57%,#22a785 79.36%,#1fa188 81.96%,#1f988b 84.38%,#21908d 86.64%,#24878e 88.75%,#287d8e 90.71%,#2c728e 92.54%,#31678e 94.25%,#375a8c 95.84%,#3e4a89 97.33%,#453882 98.71%,#482475 100.00%)"></div><div class="abs" style="left:352px;top:0;width:4px;height:100%;background:linear-gradient(#a8db34 0.00%,#a2da37 7.96%,#9bd93c 15.39%,#93d741 22.31%,#8bd646 28.76%,#84d44b 34.78%,#7ad151 40.39%,#73d056 45.63%,#69cd5b 50.50%,#5ec962 55.05%,#56c667 59.30%,#4cc26c 63.25%,#40bd72 66.94%,#38b977 70.38%,#2fb47c 73.58%,#27ad81 76.57%,#22a785 79.36%,#1fa088 81.96%,#1f988b 84.38%,#21908d 86.64%,#24868e 88.75%,#287c8e 90.71%,#2c718e 92.54%,#31668e 94.25%,#38598c 95.84%,#3e4989 97.33%,#453781 98.71%,#482374 100.00%)"></div><div class="abs" style="left:356px;top:0;width:4px;height:100%;background:linear-gradient(#a8db34 0.00%,#a0da39 7.96%,#9bd93c 15.39%,#93d741 22.31%,#8bd646 28.76%,#84d44b 34.78%,#7ad151 40.39%,#70cf57 45.63%,#67cc5c 50.50%,#5ec962 55.05%,#54c568 59.30%,#4ac16d 63.25%,#40bd72 66.94%,#37b878 70.38%,#2eb37c 73.58%,#26ad81 76.57%,#21a685 79.36%,#1f9f88 81.96%,#1f978b 84.38%,#218f8d 86.64%,#25858e 88.75%,#297b8e 90.71%,#2d718e 92.54%,#32658e 94.25%,#38588c 95.84%,#3f4788 97.33%,#453581 98.71%,#482071 100.00%)"></div><div class="abs" style="left:360px;top:0;width:4px;height:100%;background:linear-gradient(#a8db34 0.00%,#a0da39 7.96%,#98d83e 15.39%,#93d741 22.31%,#8bd646 28.76%,#81d34d 34.78%,#7ad151 40.39%,#70cf57 45.63%,#67cc5c 50.50%,#5ec962 55.05%,#54c568 59.30%,#4ac16d 63.25%,#3fbc73 66.94%,#37b878 70.38%,#2db27d 73.58%,#26ad81 76.57%,#21a585 79.36%,#1f9e89 81.96%,#1f968b 84.38%,#218e8d 86.64%,#25848e 88.75%,#297b8e 90.71%,#2d708e 92.54%,#32648e 94.25%,#39558c 95.84%,#404688 97.33%,#46337f 98.71%,#481f70 100.00%)"></div><div class="abs" style="left:364px;top:0;width:4px;height:100%;background:linear-gradient(#a5db36 0.00%,#a0da39 7.96%,#98d83e 15.39%,#90d743 22.31%,#89d548 28.76%,#81d34d 34.78%,#77d153 40.39%,#70cf57 45.63%,#67cc5c 50.50%,#5cc863 55.05%,#54c568 59.30%,#48c16e 63.25%,#3fbc73 66.94%,#35b779 70.38%,#2db27d 73.58%,#25ac82 76.57%,#21a585 79.36%,#1f9e89 81.96%,#1f958b 84.38%,#228d8d 86.64%,#25838e 88.75%,#297a8e 90.71%,#2e6f8e 92.54%,#33638d 94.25%,#3a548c 95.84%,#404588 97.33%,#46327e 98.71%,#481c6e 100.00%)"></div><div class="abs" style="left:368px;top:0;width:4px;height:100%;background:linear-gradient(#a5db36 0.00%,#a0da39 7.96%,#98d83e 15.39%,#90d743 22.31%,#89d548 28.76%,#81d34d 34.78%,#77d153 40.39%,#6ece58 45.63%,#65cb5e 50.50%,#5cc863 55.05%,#52c569 59.30%,#48c16e 63.25%,#3dbc74 66.94%,#35b779 70.38%,#2cb17e 73.58%,#25ab82 76.57%,#20a486 79.36%,#1e9d89 81.96%,#1f958b 84.38%,#228c8d 86.64%,#26828e 88.75%,#29798e 90.71%,#2e6e8e 92.54%,#33628d 94.25%,#3a538b 95.84%,#414487 97.33%,#46307e 98.71%,#481b6d 100.00%)"></div><div class="abs" style="left:372px;top:0;width:4px;height:100%;background:linear-gradient(#a5db36 0.00%,#9dd93b 7.96%,#98d83e 15.39%,#90d743 22.31%,#89d548 28.76%,#7fd34e 34.78%,#77d153 40.39%,#6ece58 45.63%,#65cb5e 50.50%,#5ac864 55.05%,#52c569 59.30%,#48c16e 63.25%,#3dbc74 66.94%,#34b679 70.38%,#2cb17e 73.58%,#25ab82 76.57%,#20a386 79.36%,#1e9c89 81.96%,#1f948c 84.38%,#228b8d 86.64%,#26828e 88.75%,#2a788e 90.71%,#2e6d8e 92.54%,#34618d 94.25%,#3b528b 95.84%,#424186 97.33%,#472f7d 98.71%,#48186a 100.00%)"></div><div class="abs" style="left:376px;top:0;width:4px;height:100%;background:linear-gradient(#a5db36 0.00%,#9dd93b 7.96%,#95d840 15.39%,#90d743 22.31%,#86d549 28.76%,#7fd34e 34.78%,#75d054 40.39%,#6ece58 45.63%,#63cb5f 50.50%,#5ac864 55.05%,#50c46a 59.30%,#46c06f 63.25%,#3bbb75 66.94%,#32b67a 70.38%,#2ab07f 73.58%,#24aa83 76.57%,#20a386 79.36%,#1e9c89 81.96%,#20938c 84.38%,#228b8d 86.64%,#26828e 88.75%,#2a778e 90.71%,#2f6c8e 92.54%,#355f8d 94.25%,#3b518b 95.84%,#424086 97.33%,#472d7b 98.71%,#481769 100.00%)"></div><div class="abs" style="left:380px;top:0;width:4px;height:100%;background:linear-gradient(#a2da37 0.00%,#9dd93b 7.96%,#95d840 15.39%,#8ed645 22.31%,#86d549 28.76%,#7fd34e 34.78%,#75d054 40.39%,#6ccd5a 45.63%,#63cb5f 50.50%,#5ac864 55.05%,#50c46a 59.30%,#46c06f 63.25%,#3bbb75 66.94%,#32b67a 70.38%,#29af7f 73.58%,#24aa83 76.57%,#1fa287 79.36%,#1e9b8a 81.96%,#20928c 84.38%,#238a8d 86.64%,#26818e 88.75%,#2a768e 90.71%,#2f6b8e 92.54%,#355e8d 94.25%,#3c508b 95.84%,#423f85 97.33%,#472c7a 98.71%,#481668 100.00%)"></div><div class="abs" style="left:384px;top:0;width:4px;height:100%;background:linear-gradient(#a2da37 0.00%,#9dd93b 7.96%,#95d840 15.39%,#8ed645 22.31%,#86d549 28.76%,#7cd250 34.78%,#75d054 40.39%,#6ccd5a 45.63%,#63cb5f 50.50%,#58c765 55.05%,#4ec36b 59.30%,#44bf70 63.25%,#3aba76 66.94%,#31b57b 70.38%,#29af7f 73.58%,#23a983 76.57%,#1fa187 79.36%,#1f9a8a 81.96%,#20928c 84.38%,#23898e 86.64%,#27808e 88.75%,#2b758e 90.71%,#306a8e 92.54%,#365d8d 94.25%,#3d4e8a 95.84%,#433e85 97.33%,#472a7a 98.71%,#471365 100.00%)"></div><div class="abs" style="left:388px;top:0;width:4px;height:100%;background:linear-gradient(#a2da37 0.00%,#9bd93c 7.96%,#95d840 15.39%,#8ed645 22.31%,#86d549 28.76%,#7cd250 34.78%,#75d054 40.39%,#6ccd5a 45.63%,#60ca60 50.50%,#58c765 55.05%,#4ec36b 59.30%,#44bf70 63.25%,#3aba76 66.94%,#31b57b 70.38%,#28ae80 73.58%,#22a884 76.57%,#1fa187 79.36%,#1f9a8a 81.96%,#20928c 84.38%,#23888e 86.64%,#277f8e 88.75%,#2b748e 90.71%,#30698e 92.54%,#365c8d 94.25%,#3d4d8a 95.84%,#443b84 97.33%,#482878 98.71%,#471164 100.00%)"></div><div class="abs" style="left:392px;top:0;width:4px;height:100%;background:linear-gradient(#a2da37 0.00%,#9bd93c 7.96%,#93d741 15.39%,#8bd646 22.31%,#84d44b 28.76%,#7cd250 34.78%,#73d056 40.39%,#69cd5b 45.63%,#60ca60 50.50%,#56c667 55.05%,#4cc26c 59.30%,#42be71 63.25%,#38b977 66.94%,#2fb47c 70.38%,#28ae80 73.58%,#22a884 76.57%,#1fa188 79.36%,#1f998a 81.96%,#21918c 84.38%,#24878e 86.64%,#277e8e 88.75%,#2c738e 90.71%,#31688e 92.54%,#375b8d 94.25%,#3e4c8a 95.84%,#443a83 97.33%,#482677 98.71%,#470e61 100.00%)"></div><div class="abs" style="left:396px;top:0;width:4px;height:100%;background:linear-gradient(#a2da37 0.00%,#9bd93c 7.96%,#93d741 15.39%,#8bd646 22.31%,#84d44b 28.76%,#7cd250 34.78%,#73d056 40.39%,#69cd5b 45.63%,#60ca60 50.50%,#56c667 55.05%,#4cc26c 59.30%,#42be71 63.25%,#38b977 66.94%,#2fb47c 70.38%,#27ad81 73.58%,#22a785 76.57%,#1fa088 79.36%,#1f988b 81.96%,#21908d 84.38%,#24878e 86.64%,#287d8e 88.75%,#2c728e 90.71%,#31678e 92.54%,#375a8c 94.25%,#3e4a89 95.84%,#443983 97.33%,#482576 98.71%,#470d60 100.00%)"></div><div class="abs" style="left:400px;top:0;width:4px;height:100%;background:linear-gradient(#a0da39 0.00%,#9bd93c 7.96%,#93d741 15.39%,#8bd646 22.31%,#84d44b 28.76%,#7ad151 34.78%,#73d056 40.39%,#69cd5b 45.63%,#5ec962 50.50%,#56c667 55.05%,#4cc26c 59.30%,#40bd72 63.25%,#37b878 66.94%,#2eb37c 70.38%,#27ad81 73.58%,#21a685 76.57%,#1fa088 79.36%,#1f978b 81.96%,#218f8d 84.38%,#24868e 86.64%,#287c8e 88.75%,#2c718e 90.71%,#31668e 92.54%,#38598c 94.25%,#3e4989 95.84%,#453882 97.33%,#482374 98.71%,#460a5d 100.00%)"></div><div class="abs" style="left:404px;top:0;width:4px;height:100%;background:linear-gradient(#a0da39 0.00%,#9bd93c 7.96%,#93d741 15.39%,#8bd646 22.31%,#81d34d 28.76%,#7ad151 34.78%,#70cf57 40.39%,#67cc5c 45.63%,#5ec962 50.50%,#54c568 55.05%,#4ac16d 59.30%,#40bd72 63.25%,#37b878 66.94%,#2eb37c 70.38%,#26ad81 73.58%,#21a685 76.57%,#1f9f88 79.36%,#1f978b 81.96%,#218f8d 84.38%,#25858e 86.64%,#297b8e 88.75%,#2d718e 90.71%,#32658e 92.54%,#38588c 94.25%,#3f4889 95.84%,#453581 97.33%,#482173 98.71%,#46085c 100.00%)"></div><div class="abs" style="left:408px;top:0;width:4px;height:100%;background:linear-gradient(#a0da39 0.00%,#98d83e 7.96%,#90d743 15.39%,#89d548 22.31%,#81d34d 28.76%,#7ad151 34.78%,#70cf57 40.39%,#67cc5c 45.63%,#5cc863 50.50%,#54c568 55.05%,#4ac16d 59.30%,#3fbc73 63.25%,#35b779 66.94%,#2db27d 70.38%,#25ac82 73.58%,#21a585 76.57%,#1f9e89 79.36%,#1f968b 81.96%,#218e8d 84.38%,#25848e 86.64%,#297b8e 88.75%,#2d708e 90.71%,#32648e 92.54%,#39568c 94.25%,#3f4788 95.84%,#463480 97.33%,#482071 98.71%,#46075a 100.00%)"></div><div class="abs" style="left:412px;top:0;width:4px;height:100%;background:linear-gradient(#a0da39 0.00%,#98d83e 7.96%,#90d743 15.39%,#89d548 22.31%,#81d34d 28.76%,#77d153 34.78%,#70cf57 40.39%,#65cb5e 45.63%,#5cc863 50.50%,#52c569 55.05%,#48c16e 59.30%,#3fbc73 63.25%,#35b779 66.94%,#2db27d 70.38%,#25ac82 73.58%,#21a585 76.57%,#1f9e89 79.36%,#1f958b 81.96%,#228d8d 84.38%,#25838e 86.64%,#297a8e 88.75%,#2e6f8e 90.71%,#33638d 92.54%,#39558c 94.25%,#404588 95.84%,#46337f 97.33%,#481d6f 98.71%,#450457 100.00%)"></div><div class="abs" style="left:416px;top:0;width:4px;height:100%;background:linear-gradient(#9dd93b 0.00%,#98d83e 7.96%,#90d743 15.39%,#89d548 22.31%,#81d34d 28.76%,#77d153 34.78%,#6ece58 40.39%,#65cb5e 45.63%,#5cc863 50.50%,#52c569 55.05%,#48c16e 59.30%,#3dbc74 63.25%,#34b679 66.94%,#2cb17e 70.38%,#25ab82 73.58%,#20a486 76.57%,#1e9d89 79.36%,#1f958b 81.96%,#228c8d 84.38%,#25838e 86.64%,#29798e 88.75%,#2e6e8e 90.71%,#33628d 92.54%,#3a548c 94.25%,#414487 95.84%,#46327e 97.33%,#481c6e 98.71%,#440256 100.00%)"></div><div class="abs" style="left:420px;top:0;width:4px;height:100%;background:linear-gradient(#9dd93b 0.00%,#98d83e 7.96%,#90d743 15.39%,#89d548 22.31%,#7fd34e 28.76%,#77d153 34.78%,#6ece58 40.39%,#65cb5e 45.63%,#5ac864 50.50%,#52c569 55.05%,#46c06f 59.30%,#3dbc74 63.25%,#34b679 66.94%,#2cb17e 70.38%,#25ab82 73.58%,#20a386 76.57%,#1e9c89 79.36%,#1f948c 81.96%,#228c8d 84.38%,#26828e 86.64%,#2a788e 88.75%,#2e6d8e 90.71%,#34618d 92.54%,#3a538b 94.25%,#414287 95.84%,#472f7d 97.33%,#481b6d 98.71%,#440154 100.00%)"></div><div class="abs" style="left:424px;top:0;width:4px;height:100%;background:linear-gradient(#9dd93b 0.00%,#95d840 7.96%,#8ed645 15.39%,#86d549 22.31%,#7fd34e 28.76%,#75d054 34.78%,#6ece58 40.39%,#63cb5f 45.63%,#5ac864 50.50%,#50c46a 55.05%,#46c06f 59.30%,#3bbb75 63.25%,#32b67a 66.94%,#2ab07f 70.38%,#24aa83 73.58%,#20a386 76.57%,#1e9c89 79.36%,#20938c 81.96%,#228b8d 84.38%,#26828e 86.64%,#2a778e 88.75%,#2e6d8e 90.71%,#34608d 92.54%,#3b528b 94.25%,#424186 95.84%,#472e7c 97.33%,#48186a 98.71%,#440154 100.00%)"></div><div class="abs" style="left:428px;top:0;width:4px;height:100%;background:linear-gradient(#9dd93b 0.00%,#95d840 7.96%,#8ed645 15.39%,#86d549 22.31%,#7fd34e 28.76%,#75d054 34.78%,#6ccd5a 40.39%,#63cb5f 45.63%,#5ac864 50.50%,#50c46a 55.05%,#46c06f 59.30%,#3bbb75 63.25%,#32b67a 66.94%,#2ab07f 70.38%,#24aa83 73.58%,#1fa287 76.57%,#1e9b8a 79.36%,#20928c 81.96%,#238a8d 84.38%,#26818e 86.64%,#2a768e 88.75%,#2f6c8e 90.71%,#355f8d 92.54%,#3c508b 94.25%,#424086 95.84%,#472d7b 97.33%,#481769 98.71%,#440154 100.00%)"></div><div class="abs" style="left:432px;top:0;width:4px;height:100%;background:linear-gradient(#9dd93b 0.00%,#95d840 7.96%,#8ed645 15.39%,#86d549 22.31%,#7cd250 28.76%,#75d054 34.78%,#6ccd5a 40.39%,#63cb5f 45.63%,#58c765 50.50%,#4ec36b 55.05%,#44bf70 59.30%,#3bbb75 63.25%,#31b57b 66.94%,#29af7f 70.38%,#23a983 73.58%,#1fa287 76.57%,#1f9a8a 79.36%,#20928c 81.96%,#23898e 84.38%,#27808e 86.64%,#2b758e 88.75%,#2f6b8e 90.71%,#355e8d 92.54%,#3c4f8a 94.25%,#423f85 95.84%,#472c7a 97.33%,#481668 98.71%,#440154 100.00%)"></div><div class="abs" style="left:436px;top:0;width:4px;height:100%;background:linear-gradient(#9bd93c 0.00%,#95d840 7.96%,#8ed645 15.39%,#86d549 22.31%,#7cd250 28.76%,#73d056 34.78%,#6ccd5a 40.39%,#60ca60 45.63%,#58c765 50.50%,#4ec36b 55.05%,#44bf70 59.30%,#3aba76 63.25%,#31b57b 66.94%,#28ae80 70.38%,#22a884 73.58%,#1fa187 76.57%,#1f9a8a 79.36%,#20928c 81.96%,#23898e 84.38%,#277f8e 86.64%,#2b758e 88.75%,#306a8e 90.71%,#365d8d 92.54%,#3d4e8a 94.25%,#433d84 95.84%,#482979 97.33%,#471365 98.71%,#440154 100.00%)"></div></div>
<div class="abs" style="left:554.2px;top:344.3px;width:35.2px;height:418.1px;background:linear-gradient(to bottom, #440154 0.0%,#46075a 1.7%,#470d60 3.3%,#471365 5.0%,#481a6c 6.7%,#481f70 8.3%,#482475 10.0%,#482979 11.7%,#472f7d 13.3%,#463480 15.0%,#443983 16.7%,#433e85 18.3%,#414487 20.0%,#3f4889 21.7%,#3d4d8a 23.3%,#3b528b 25.0%,#39568c 26.7%,#375b8d 28.3%,#355f8d 30.0%,#32648e 31.7%,#31688e 33.3%,#2f6c8e 35.0%,#2d708e 36.7%,#2b748e 38.3%,#2a788e 40.0%,#287c8e 41.7%,#27808e 43.3%,#25848e 45.0%,#23888e 46.7%,#228c8d 48.3%,#21918c 50.0%,#1f948c 51.7%,#1f988b 53.3%,#1e9c89 55.0%,#1fa188 56.7%,#20a486 58.3%,#22a884 60.0%,#25ac82 61.7%,#2ab07f 63.3%,#2fb47c 65.0%,#35b779 66.7%,#3bbb75 68.3%,#44bf70 70.0%,#4cc26c 71.7%,#54c568 73.3%,#5ec962 75.0%,#67cc5c 76.7%,#70cf57 78.3%,#7ad151 80.0%,#86d549 81.7%,#90d743 83.3%,#9bd93c 85.0%,#a5db36 86.7%,#b2dd2d 88.3%,#bddf26 90.0%,#c8e020 91.7%,#d2e21b 93.3%,#dfe318 95.0%,#eae51a 96.7%,#f4e61e 98.3%,#fde725 100.0%)"></div>
<div class="abs" style="left:1231.2px;top:344.5px;width:35.5px;height:418.5px;background:linear-gradient(to bottom, #440154 0.0%,#46075a 1.7%,#470d60 3.3%,#471365 5.0%,#481a6c 6.7%,#481f70 8.3%,#482475 10.0%,#482979 11.7%,#472f7d 13.3%,#463480 15.0%,#443983 16.7%,#433e85 18.3%,#414487 20.0%,#3f4889 21.7%,#3d4d8a 23.3%,#3b528b 25.0%,#39568c 26.7%,#375b8d 28.3%,#355f8d 30.0%,#32648e 31.7%,#31688e 33.3%,#2f6c8e 35.0%,#2d708e 36.7%,#2b748e 38.3%,#2a788e 40.0%,#287c8e 41.7%,#27808e 43.3%,#25848e 45.0%,#23888e 46.7%,#228c8d 48.3%,#21918c 50.0%,#1f948c 51.7%,#1f988b 53.3%,#1e9c89 55.0%,#1fa188 56.7%,#20a486 58.3%,#22a884 60.0%,#25ac82 61.7%,#2ab07f 63.3%,#2fb47c 65.0%,#35b779 66.7%,#3bbb75 68.3%,#44bf70 70.0%,#4cc26c 71.7%,#54c568 73.3%,#5ec962 75.0%,#67cc5c 76.7%,#70cf57 78.3%,#7ad151 80.0%,#86d549 81.7%,#90d743 83.3%,#9bd93c 85.0%,#a5db36 86.7%,#b2dd2d 88.3%,#bddf26 90.0%,#c8e020 91.7%,#d2e21b 93.3%,#dfe318 95.0%,#eae51a 96.7%,#f4e61e 98.3%,#fde725 100.0%)"></div>
<svg class="abs" style="left:0;top:0" width="1329" height="820" viewBox="0 0 1329 820">
<defs>
<radialGradient id="gC" cx="0.5" cy="0.45" r="0.6" fx="0.52" fy="0.38"><stop offset="0" stop-color="#e8e8e8"/><stop offset="0.1" stop-color="#ababab"/><stop offset="0.35" stop-color="#939393"/><stop offset="0.8" stop-color="#747474"/><stop offset="1" stop-color="#3a3a3a"/></radialGradient>
<radialGradient id="gO" cx="0.5" cy="0.45" r="0.6" fx="0.55" fy="0.38"><stop offset="0" stop-color="#ffffff"/><stop offset="0.08" stop-color="#ff9090"/><stop offset="0.22" stop-color="#f20c0c"/><stop offset="0.75" stop-color="#d60000"/><stop offset="1" stop-color="#880000"/></radialGradient>
<radialGradient id="gH" cx="0.5" cy="0.45" r="0.6" fx="0.5" fy="0.38"><stop offset="0" stop-color="#ffffff"/><stop offset="0.55" stop-color="#f0f0f0"/><stop offset="1" stop-color="#9a9a9a"/></radialGradient>
<linearGradient id="gRod" x1="0" y1="0" x2="0" y2="1"><stop offset="0" stop-color="#d4d4d4"/><stop offset="0.3" stop-color="#f6f6f6"/><stop offset="0.65" stop-color="#e4e4e4"/><stop offset="1" stop-color="#8e8e8e"/></linearGradient>
<linearGradient id="gTop" x1="0" y1="0" x2="0" y2="1"><stop offset="0" stop-color="#ae4848"/><stop offset="0.6" stop-color="#c04f4f"/><stop offset="1" stop-color="#ca5555"/></linearGradient><linearGradient id="gGap" x1="0" y1="0" x2="0" y2="1"><stop offset="0" stop-color="#ffffff"/><stop offset="0.45" stop-color="#f4dede"/><stop offset="1" stop-color="#e06666"/></linearGradient>
<linearGradient id="gFront" x1="0" y1="0" x2="0" y2="1"><stop offset="0" stop-color="#e46464"/><stop offset="0.12" stop-color="#d85a5a"/><stop offset="1" stop-color="#d45656"/></linearGradient>
<linearGradient id="gFerm" x1="0" y1="0" x2="1" y2="0"><stop offset="0" stop-color="#1870bc"/><stop offset="0.3" stop-color="#4f95d2"/><stop offset="0.55" stop-color="#8dbde3"/><stop offset="0.8" stop-color="#c4dcef"/><stop offset="1" stop-color="#f4f8fc"/></linearGradient>
<linearGradient id="gBarrel" x1="0" y1="0" x2="1" y2="0"><stop offset="0" stop-color="#d42a30"/><stop offset="0.05" stop-color="#e8383e"/><stop offset="0.155" stop-color="#ec4248"/><stop offset="0.17" stop-color="#f26a70"/><stop offset="0.3" stop-color="#f5868a"/><stop offset="0.45" stop-color="#f47e82"/><stop offset="0.53" stop-color="#f2686e"/><stop offset="0.54" stop-color="#ea383e"/><stop offset="0.7" stop-color="#e62e34"/><stop offset="0.85" stop-color="#dc282e"/><stop offset="0.9" stop-color="#e23236"/><stop offset="0.95" stop-color="#ec4c52"/><stop offset="1" stop-color="#d43036"/></linearGradient>
<linearGradient id="gPillR" x1="0" y1="0" x2="0" y2="1"><stop offset="0" stop-color="#d01820"/><stop offset="0.3" stop-color="#e8303a"/><stop offset="0.45" stop-color="#f05058"/><stop offset="0.6" stop-color="#e42a34"/><stop offset="1" stop-color="#c81820"/></linearGradient>
<linearGradient id="gPillW" x1="0" y1="0" x2="0" y2="1"><stop offset="0" stop-color="#d8d8d8"/><stop offset="0.3" stop-color="#ffffff"/><stop offset="1" stop-color="#cfcfcf"/></linearGradient>
</defs>
<text x="2" y="22" font-size="29" font-weight="700">a</text>
<g>
<rect x="20" y="23" width="132" height="83" fill="#fcfcfd"/>
<polygon points="52,27 58.5,27 60,58 54,58" fill="#c9cdd3"/>
<polygon points="39,24 52,24 54,58.4 37,58.4" fill="#e02a2e"/>
<polygon points="38.2,31.3 52.8,31.3 53.2,38.2 37.8,38.2" fill="#f2f2f2"/>
<polygon points="37.6,45.3 53.4,45.3 53.8,51.9 37.2,51.9" fill="#f2f2f2"/>
<rect x="30.5" y="58.4" width="30.5" height="3.8" fill="#2a384c"/>
<rect x="67.8" y="63" width="4.5" height="15" fill="#cdd1d6"/>
<rect x="145.3" y="80" width="4.8" height="25" fill="#cdd1d6"/>
<rect x="25" y="103.4" width="125" height="1.4" fill="#cdd1d6"/>
<rect x="22.7" y="62.2" width="45.1" height="41.2" fill="#41556e"/>
<rect x="45" y="62.2" width="22.8" height="41.2" fill="#384b63"/>
<rect x="67.8" y="77.4" width="77.5" height="26" fill="#41556e"/>
<rect x="107" y="77.4" width="38.3" height="26" fill="#384b63"/>
<rect x="35" y="64.7" width="22" height="2" fill="#f2c94c"/>
<rect x="28.3" y="69.1" width="35.6" height="4.2" fill="#f2c94c"/>
<rect x="28.3" y="77.4" width="35.6" height="4.4" fill="#f2c94c"/>
<rect x="28.3" y="85.6" width="35.6" height="4.4" fill="#f2c94c"/>
<rect x="28.3" y="94.2" width="35.6" height="4.2" fill="#f2c94c"/>
<rect x="76.5" y="85.6" width="13.7" height="9" fill="#f5d040"/>
<rect x="124.6" y="85.6" width="13.7" height="9" fill="#f5d040"/>
<rect x="95.8" y="79.8" width="4.9" height="3" fill="#f5d040"/>
<path d="M93.2,103.4 A13.8,14 0 0 1 120.8,103.4 Z" fill="#2e3e54"/>
<path d="M107,89.4 A13.8,14 0 0 1 120.8,103.4 H107 Z" fill="#243246"/>
<polygon points="76.5,94.6 90.2,85.6 90.2,94.6" fill="#e8c030" opacity="0.6"/><polygon points="124.6,94.6 138.3,85.6 138.3,94.6" fill="#e8c030" opacity="0.6"/>

<path d="M92.0,58 L92.0,70 Q92.0,75 88.6,75 L95.6,75 L95.6,58 Z" fill="#d4d7dc"/>
<path d="M76.7,77.5 L77.5,68.8 M85.5,77.5 L85.5,68.8 M93.6,77.5 L93.0,68.8" stroke="#3a4656" stroke-width="1" fill="none"/>
<path d="M78.6,58 L81.6,56 H89.0 L92.0,58 V70 Q92.0,73.3 85.3,73.3 Q78.6,73.3 78.6,70 Z" fill="#5898d0"/>
<path d="M78.6,58 L81.6,56 H85.3 V73.3 Q78.6,73.3 78.6,70 Z" fill="#68a6da" opacity="0.6"/>
<rect x="82.8" y="54" width="5" height="2" fill="#2d3c50"/>
<rect x="78.6" y="58.9" width="13.4" height="0.8" fill="#d8d060"/>
<path d="M85.5,77.5 L85.5,68.8" stroke="#2f3a4a" stroke-width="1.1"/>
<path d="M114.2,58 L114.2,70 Q114.2,75 110.8,75 L117.8,75 L117.8,58 Z" fill="#d4d7dc"/>
<path d="M98.9,77.5 L99.7,68.8 M107.7,77.5 L107.7,68.8 M115.8,77.5 L115.2,68.8" stroke="#3a4656" stroke-width="1" fill="none"/>
<path d="M100.8,58 L103.8,56 H111.2 L114.2,58 V70 Q114.2,73.3 107.5,73.3 Q100.8,73.3 100.8,70 Z" fill="#5898d0"/>
<path d="M100.8,58 L103.8,56 H107.5 V73.3 Q100.8,73.3 100.8,70 Z" fill="#68a6da" opacity="0.6"/>
<rect x="105.0" y="54" width="5" height="2" fill="#2d3c50"/>
<rect x="100.8" y="58.9" width="13.4" height="0.8" fill="#d8d060"/>
<path d="M107.7,77.5 L107.7,68.8" stroke="#2f3a4a" stroke-width="1.1"/>
<path d="M136.4,58 L136.4,70 Q136.4,75 133.0,75 L140.0,75 L140.0,58 Z" fill="#d4d7dc"/>
<path d="M121.1,77.5 L121.9,68.8 M129.9,77.5 L129.9,68.8 M138.0,77.5 L137.4,68.8" stroke="#3a4656" stroke-width="1" fill="none"/>
<path d="M123.0,58 L126.0,56 H133.4 L136.4,58 V70 Q136.4,73.3 129.7,73.3 Q123.0,73.3 123.0,70 Z" fill="#5898d0"/>
<path d="M123.0,58 L126.0,56 H129.7 V73.3 Q123.0,73.3 123.0,70 Z" fill="#68a6da" opacity="0.6"/>
<rect x="127.2" y="54" width="5" height="2" fill="#2d3c50"/>
<rect x="123.0" y="58.9" width="13.4" height="0.8" fill="#d8d060"/>
<path d="M129.9,77.5 L129.9,68.8" stroke="#2f3a4a" stroke-width="1.1"/>
</g>
<text x="3" y="124.8" font-size="20" textLength="156" lengthAdjust="spacingAndGlyphs">Cumene process</text>
<line x1="83.4" y1="137" x2="83.4" y2="172" stroke="#3b4a68" stroke-width="1.5"/>
<polygon points="83.4,178.4 79.7,169.7 83.4,171.5 87.1,169.7" fill="#3b4a68"/>
<circle cx="61.7" cy="214.9" r="2.6" fill="url(#gH)"/><circle cx="106.0" cy="210.2" r="2.6" fill="url(#gH)"/><circle cx="75.1" cy="193.1" r="7.4" fill="url(#gO)"/><circle cx="72.1" cy="216.2" r="9.6" fill="url(#gC)"/><circle cx="82.5" cy="202.8" r="9.6" fill="url(#gC)"/><circle cx="98.0" cy="201.1" r="9.8" fill="url(#gC)"/><circle cx="103.0" cy="190.0" r="3.1" fill="url(#gH)"/><circle cx="101.3" cy="205.5" r="3.4" fill="url(#gH)"/><circle cx="70.8" cy="222.0" r="3.4" fill="url(#gH)"/><circle cx="77.8" cy="225.0" r="2.8" fill="url(#gH)"/>
<line x1="118.3" y1="205" x2="272" y2="205" stroke="#3b4a68" stroke-width="1.6"/>
<polygon points="278.0,205.0 269.3,208.7 271.1,205.0 269.3,201.3" fill="#3b4a68"/>
<text x="122.5" y="229" font-size="20" textLength="151" lengthAdjust="spacingAndGlyphs">Surplus acetone</text>
<circle cx="228.3" cy="82.0" r="8.8" fill="url(#gO)"/>
<circle cx="218.7" cy="86.3" r="3.8" fill="url(#gH)"/>
<circle cx="238.4" cy="86.3" r="3.8" fill="url(#gH)"/>
<text x="246" y="96.6" font-size="20">H</text><text x="259.5" y="102.8" font-size="14">2</text><text x="267" y="96.6" font-size="20">O</text>
<path d="M230.5,99 C232,118 245,136 266,141" fill="none" stroke="#3b4a68" stroke-width="2" stroke-dasharray="3 2.5"/>
<polygon points="273.0,141.8 264.1,145.1 266.5,141.1 265.0,136.7" fill="#3b4a68"/>
<g stroke="#111" fill="none"><line x1="390" y1="65.7" x2="431.3" y2="65.7" stroke-width="2.8"/><line x1="431.3" y1="52.9" x2="431.3" y2="79" stroke-width="3"/><line x1="443.4" y1="45" x2="443.4" y2="86.7" stroke-width="3"/><line x1="443.4" y1="65.7" x2="485.8" y2="65.7" stroke-width="2.8"/></g>
<rect x="289.6" y="97.6" width="286" height="162" fill="#fdfdfd"/>
<rect x="292.4" y="137.9" width="15.0" height="13.7" rx="1.5" fill="url(#gRod)"/>
<rect x="305.6" y="133.7" width="40.0" height="22.4" rx="1.5" fill="url(#gRod)"/>
<rect x="520.0" y="133.9" width="39.0" height="21.9" rx="1.5" fill="url(#gRod)"/>
<rect x="557.0" y="138.0" width="15.7" height="13.6" rx="1.5" fill="url(#gRod)"/>
<rect x="296.9" y="199.4" width="15.0" height="12.7" rx="1.5" fill="url(#gRod)"/>
<rect x="310.0" y="195.0" width="25.0" height="21.2" rx="1.5" fill="url(#gRod)"/>
<rect x="530.0" y="195.0" width="25.0" height="21.2" rx="1.5" fill="url(#gRod)"/>
<rect x="553.0" y="199.4" width="14.7" height="12.7" rx="1.5" fill="url(#gRod)"/>
<path d="M358,108.5 H506.5 Q510.5,108.5 512.5,112 L532.5,151 Q534.5,155.3 530,155.3 H335 Q330.5,155.3 332.5,151 L352,112 Q354,108.5 358,108.5 Z" fill="url(#gTop)"/>
<path d="M330,155.3 H534.8 V194.4 Q534.8,199.4 529.8,199.4 H335 Q330,199.4 330,194.4 Z" fill="url(#gFront)"/>
<line x1="331" y1="155.8" x2="534" y2="155.8" stroke="#f07a7a" stroke-width="1.4"/>
<polygon points="338,200.2 528,200.2 532.3,207.8 333.5,207.8" fill="url(#gGap)"/>
<path d="M333.5,206.8 H532.3 V248.5 Q532.3,253.5 527.3,253.5 H338.5 Q333.5,253.5 333.5,248.5 Z" fill="url(#gFront)"/>
<line x1="334.5" y1="207.5" x2="531.5" y2="207.5" stroke="#ee7272" stroke-width="1.3"/>
<text x="383" y="274" font-size="20" textLength="105.5" lengthAdjust="spacingAndGlyphs">Electrolysis</text>
<circle cx="633.0" cy="81.0" r="9.0" fill="url(#gO)"/>
<circle cx="650.0" cy="81.0" r="9.0" fill="url(#gO)"/>
<text x="641.2" y="112.8" font-size="20.5">O</text><text x="656.3" y="118.5" font-size="14">2</text>
<path d="M589,141.8 C610,140 628,128 632,105" fill="none" stroke="#3b4a68" stroke-width="2" stroke-dasharray="3 2.5"/>
<polygon points="632.8,99.0 636.1,107.9 632.1,105.5 627.7,107.0" fill="#3b4a68"/>
<circle cx="668.2" cy="190.4" r="2.2" fill="url(#gH)"/><circle cx="663.7" cy="168.4" r="2.6" fill="url(#gH)"/><circle cx="667.9" cy="177.6" r="9.5" fill="url(#gC)"/><circle cx="655.7" cy="182.4" r="10.0" fill="url(#gC)"/><circle cx="677.7" cy="186.7" r="8.4" fill="url(#gC)"/><circle cx="678.0" cy="171.5" r="8.2" fill="url(#gO)"/><circle cx="682.9" cy="164.8" r="3.0" fill="url(#gH)"/><circle cx="651.5" cy="174.5" r="3.3" fill="url(#gH)"/><circle cx="646.0" cy="189.5" r="2.6" fill="url(#gH)"/><circle cx="657.9" cy="194.0" r="3.3" fill="url(#gH)"/><circle cx="679.8" cy="194.6" r="3.0" fill="url(#gH)"/>
<line x1="600.8" y1="205" x2="745" y2="205" stroke="#3b4a68" stroke-width="1.6"/>
<polygon points="751.4,205.0 742.7,208.7 744.5,205.0 742.7,201.3" fill="#3b4a68"/>
<text x="638.8" y="229.1" font-size="20" fill="#c8161e" textLength="76" lengthAdjust="spacingAndGlyphs">Pure IPA</text>
<circle cx="857.5" cy="158.4" r="91.3" fill="url(#gFerm)"/>
<circle cx="857.5" cy="158.4" r="91.3" fill="none" stroke="#111" stroke-width="2" stroke-dasharray="2.6 2"/>
<g fill="none" stroke="#7fd6c4" stroke-width="0.9"><path d="M832.5,130 Q826,152 822,175"/><path d="M833.5,130 Q829,155 827.4,178.8"/><path d="M897,140 Q915,158 936,169.6"/><path d="M896,141 Q911,162 930,172"/></g>
<line x1="842.5" y1="89.5" x2="833.5" y2="125.5" stroke="#b9e69a" stroke-opacity="0.5" stroke-width="11.5" stroke-linecap="round"/><line x1="842.5" y1="89.5" x2="833.5" y2="125.5" stroke="#a4d882" stroke-width="9.5" stroke-linecap="round"/><polyline points="841.8,92.4 840.3,93.3 839.3,94.4 839.0,95.7 839.5,97.2 840.5,98.7 841.3,100.3 841.5,101.7 840.9,102.9 839.7,103.9 838.1,104.9 836.8,105.9 836.1,107.0 836.1,108.4 836.9,109.9 837.8,111.5 838.4,113.0 838.3,114.3 837.5,115.4 836.0,116.4 834.5,117.3 833.4,118.4 833.0,119.6 833.4,121.1 834.2,122.6" fill="none" stroke="#c8f0a4" stroke-width="2" stroke-linejoin="round"/>
<line x1="866.5" y1="113.5" x2="893.5" y2="135.0" stroke="#b9e69a" stroke-opacity="0.5" stroke-width="11.5" stroke-linecap="round"/><line x1="866.5" y1="113.5" x2="893.5" y2="135.0" stroke="#a4d882" stroke-width="9.5" stroke-linecap="round"/><polyline points="868.7,115.2 868.8,116.9 869.3,118.2 870.3,118.9 871.8,119.0 873.5,118.8 875.2,118.6 876.5,118.9 877.3,119.9 877.6,121.4 877.8,123.1 878.1,124.7 878.8,125.8 880.0,126.2 881.6,126.2 883.3,125.9 884.9,125.9 886.0,126.5 886.6,127.7 886.8,129.3 886.9,131.1 887.4,132.5 888.2,133.3 889.6,133.5 891.3,133.3" fill="none" stroke="#c8f0a4" stroke-width="2" stroke-linejoin="round"/>
<circle cx="845.7" cy="197.1" r="2.4" fill="url(#gH)"/><circle cx="846.6" cy="207.0" r="8.2" fill="url(#gC)"/><circle cx="828.0" cy="219.7" r="9.8" fill="url(#gC)"/><circle cx="832.6" cy="207.0" r="9.2" fill="url(#gC)"/><circle cx="835.3" cy="196.2" r="8.1" fill="url(#gO)"/><circle cx="833.7" cy="188.1" r="3.0" fill="url(#gH)"/><circle cx="818.6" cy="217.0" r="3.0" fill="url(#gH)"/><circle cx="836.6" cy="226.4" r="3.0" fill="url(#gH)"/><circle cx="825.3" cy="231.4" r="2.6" fill="url(#gH)"/><circle cx="852.9" cy="211.1" r="3.0" fill="url(#gH)"/><circle cx="822.6" cy="204.3" r="2.6" fill="url(#gH)"/>
<circle cx="913.0" cy="184.4" r="2.4" fill="url(#gH)"/><circle cx="900.3" cy="178.1" r="9.5" fill="url(#gC)"/><circle cx="903.9" cy="188.0" r="9.0" fill="url(#gC)"/><circle cx="895.3" cy="198.0" r="9.5" fill="url(#gC)"/><circle cx="910.2" cy="198.4" r="8.5" fill="url(#gO)"/><circle cx="916.5" cy="203.4" r="3.0" fill="url(#gH)"/><circle cx="887.2" cy="178.6" r="3.0" fill="url(#gH)"/><circle cx="906.6" cy="172.7" r="3.0" fill="url(#gH)"/><circle cx="887.2" cy="200.7" r="3.0" fill="url(#gH)"/><circle cx="898.2" cy="168.8" r="2.6" fill="url(#gH)"/>
<text x="796.5" y="274" font-size="20" textLength="122.5" lengthAdjust="spacingAndGlyphs">Fermentation</text>
<line x1="967.2" y1="205" x2="1055" y2="205" stroke="#3b4a68" stroke-width="1.6"/>
<polygon points="1061.2,205.0 1052.5,208.7 1054.3,205.0 1052.5,201.3" fill="#3b4a68"/>
<g transform="translate(1121.0,204.7) rotate(0.0)"><rect x="-24.6" y="-9.7" width="49.2" height="19.4" rx="8.2" fill="url(#gPillW)" stroke="#9a9a9a" stroke-width="0.6"/><path d="M1.2,-9.7 H16.4 Q24.6,-9.7 24.6,-1.5 V1.5 Q24.6,9.7 16.4,9.7 H1.2 Z" fill="url(#gPillR)"/></g>
<g transform="translate(1102.8,163.7) rotate(-41.0)"><rect x="-24.5" y="-9.3" width="49.0" height="18.6" rx="7.9" fill="url(#gPillW)" stroke="#9a9a9a" stroke-width="0.6"/><path d="M1.5,-9.3 H16.6 Q24.5,-9.3 24.5,-1.4 V1.4 Q24.5,9.3 16.6,9.3 H1.5 Z" fill="url(#gPillR)"/></g>
<g transform="translate(1145.8,159.7) rotate(-82.0)"><rect x="-23.0" y="-10.0" width="46.0" height="20.0" rx="8.5" fill="url(#gPillW)" stroke="#9a9a9a" stroke-width="0.6"/><path d="M1.5,-10.0 H14.5 Q23.0,-10.0 23.0,-1.5 V1.5 Q23.0,10.0 14.5,10.0 H1.5 Z" fill="url(#gPillR)"/></g>
<text x="1106.5" y="273.4" font-size="20" textLength="145" lengthAdjust="spacingAndGlyphs">Drugs and fuels</text>
<rect x="1172" y="80" width="131" height="159" fill="#fefefe"/>
<ellipse cx="1240" cy="234" rx="44" ry="4" fill="#e6e6e6" opacity="0.6"/>
<path d="M1190.5,104.8 L1198.9,218 A41.3,16 0 0 0 1281.1,218 L1290.5,104.8 Z" fill="url(#gBarrel)"/>
<path d="M1193.8,147.5 Q1240,168.1 1287.2,149.0" fill="none" stroke="#f68a8e" stroke-width="1.3" opacity="0.8"/>
<path d="M1193.8,149.1 Q1240,169.7 1287.2,150.6" fill="none" stroke="#c01c24" stroke-width="0.8" opacity="0.45"/>
<path d="M1196.8,186.0 Q1240,207.0 1284.2,187.5" fill="none" stroke="#f68a8e" stroke-width="1.3" opacity="0.8"/>
<path d="M1196.8,187.6 Q1240,208.6 1284.2,189.1" fill="none" stroke="#c01c24" stroke-width="0.8" opacity="0.45"/>
<ellipse cx="1240.5" cy="104.8" rx="50.1" ry="11.3" fill="#ea3c42"/>
<ellipse cx="1240.5" cy="105.4" rx="46.5" ry="9.3" fill="#f4767a"/>
<ellipse cx="1216.9" cy="109.2" rx="4" ry="2" fill="#f4f4f4"/><ellipse cx="1258.4" cy="99.7" rx="4" ry="1.9" fill="#8a8a8a"/>
<rect x="77.5" y="344.3" width="436.2" height="418.0" fill="none" stroke="#1a1a1a" stroke-width="1.1"/><rect x="554.2" y="344.3" width="35.2" height="418.1" fill="none" stroke="#1a1a1a" stroke-width="1.1"/><text transform="translate(2.2,329) scale(1.13,1)" font-size="29" font-weight="700">b</text><line x1="77.5" y1="696.3" x2="85.5" y2="696.3" stroke="#1a1a1a" stroke-width="1.1"/><text x="67.7" y="703.1" font-size="16.5" text-anchor="end" textLength="20.0" lengthAdjust="spacingAndGlyphs">20</text><line x1="77.5" y1="608.3" x2="85.5" y2="608.3" stroke="#1a1a1a" stroke-width="1.1"/><text x="67.7" y="615.1" font-size="16.5" text-anchor="end" textLength="20.0" lengthAdjust="spacingAndGlyphs">40</text><line x1="77.5" y1="520.3" x2="85.5" y2="520.3" stroke="#1a1a1a" stroke-width="1.1"/><text x="67.7" y="527.1" font-size="16.5" text-anchor="end" textLength="20.0" lengthAdjust="spacingAndGlyphs">60</text><line x1="77.5" y1="432.3" x2="85.5" y2="432.3" stroke="#1a1a1a" stroke-width="1.1"/><text x="67.7" y="439.1" font-size="16.5" text-anchor="end" textLength="20.0" lengthAdjust="spacingAndGlyphs">80</text><line x1="77.5" y1="344.3" x2="85.5" y2="344.3" stroke="#1a1a1a" stroke-width="1.1"/><text x="67.7" y="351.1" font-size="16.5" text-anchor="end" textLength="28.5" lengthAdjust="spacingAndGlyphs">100</text><text x="77.5" y="784.3" font-size="16.5" text-anchor="middle" textLength="35.5" lengthAdjust="spacingAndGlyphs">0.01</text><line x1="164.8" y1="762.3" x2="164.8" y2="754.3" stroke="#1a1a1a" stroke-width="1.1"/><text x="164.8" y="784.3" font-size="16.5" text-anchor="middle" textLength="35.5" lengthAdjust="spacingAndGlyphs">0.02</text><line x1="252.0" y1="762.3" x2="252.0" y2="754.3" stroke="#1a1a1a" stroke-width="1.1"/><text x="252.0" y="784.3" font-size="16.5" text-anchor="middle" textLength="35.5" lengthAdjust="spacingAndGlyphs">0.03</text><line x1="339.2" y1="762.3" x2="339.2" y2="754.3" stroke="#1a1a1a" stroke-width="1.1"/><text x="339.2" y="784.3" font-size="16.5" text-anchor="middle" textLength="35.5" lengthAdjust="spacingAndGlyphs">0.04</text><line x1="426.5" y1="762.3" x2="426.5" y2="754.3" stroke="#1a1a1a" stroke-width="1.1"/><text x="426.5" y="784.3" font-size="16.5" text-anchor="middle" textLength="35.5" lengthAdjust="spacingAndGlyphs">0.05</text><text x="513.8" y="784.3" font-size="16.5" text-anchor="middle" textLength="35.5" lengthAdjust="spacingAndGlyphs">0.06</text><line x1="580.9" y1="755.4" x2="589.4" y2="755.4" stroke="#1a1a1a" stroke-width="1.1"/><text x="596.6" y="761.1" font-size="16.5" textLength="33.0" lengthAdjust="spacingAndGlyphs">900</text><line x1="580.9" y1="689.4" x2="589.4" y2="689.4" stroke="#1a1a1a" stroke-width="1.1"/><text x="596.6" y="695.1" font-size="16.5" textLength="46.5" lengthAdjust="spacingAndGlyphs">1,700</text><line x1="580.9" y1="623.3" x2="589.4" y2="623.3" stroke="#1a1a1a" stroke-width="1.1"/><text x="596.6" y="629.0" font-size="16.5" textLength="46.5" lengthAdjust="spacingAndGlyphs">2,500</text><line x1="580.9" y1="557.2" x2="589.4" y2="557.2" stroke="#1a1a1a" stroke-width="1.1"/><text x="596.6" y="563.0" font-size="16.5" textLength="46.5" lengthAdjust="spacingAndGlyphs">3,300</text><line x1="580.9" y1="491.2" x2="589.4" y2="491.2" stroke="#1a1a1a" stroke-width="1.1"/><text x="596.6" y="496.9" font-size="16.5" textLength="46.5" lengthAdjust="spacingAndGlyphs">4,100</text><line x1="580.9" y1="425.1" x2="589.4" y2="425.1" stroke="#1a1a1a" stroke-width="1.1"/><text x="596.6" y="430.8" font-size="16.5" textLength="46.5" lengthAdjust="spacingAndGlyphs">4,900</text><line x1="580.9" y1="359.1" x2="589.4" y2="359.1" stroke="#1a1a1a" stroke-width="1.1"/><text x="596.6" y="364.8" font-size="16.5" textLength="46.5" lengthAdjust="spacingAndGlyphs">5,700</text><text x="423.0" y="329" font-size="20" textLength="178.5" lengthAdjust="spacingAndGlyphs">IPA unit cost (US$ t</text><text x="602.0" y="319.9" font-size="12">&#8722;1</text><text x="614.3" y="329" font-size="20">)</text><text x="115.0" y="814.7" font-size="20" textLength="341" lengthAdjust="spacingAndGlyphs">Renewable electricity cost (US$ kWh</text><text x="457.3" y="804.6" font-size="12">&#8722;1</text><text x="469.7" y="814.7" font-size="20">)</text><g transform="translate(23.9,590.4) rotate(-90)"><text x="0" y="0" font-size="20" textLength="22" lengthAdjust="spacingAndGlyphs">FE</text><text x="21.5" y="5.5" font-size="12.5" textLength="19" lengthAdjust="spacingAndGlyphs">IPA</text><text x="45" y="0" font-size="20" textLength="29.5" lengthAdjust="spacingAndGlyphs">(%)</text></g><line x1="77.5" y1="677.8" x2="510.0" y2="492.2" stroke="#111" stroke-width="2" stroke-dasharray="5.5 4"/><line x1="230.5" y1="611.5" x2="172.5" y2="487.6" stroke="#3b4a68" stroke-width="1.5"/><polygon points="170.0,482.2 176.6,488.0 172.7,488.0 170.2,490.9" fill="#3b4a68"/><text transform="translate(195.3,489.8) rotate(-22.7)" font-size="16.5" textLength="131.0" lengthAdjust="spacingAndGlyphs">Profitable region</text><text transform="translate(266.5,585.3) rotate(-23.0)" font-size="16.5" textLength="42.5" lengthAdjust="spacingAndGlyphs">1,320</text>
<rect x="748.7" y="344.5" width="436.3" height="418.5" fill="none" stroke="#1a1a1a" stroke-width="1.1"/><rect x="1231.2" y="344.5" width="35.5" height="418.5" fill="none" stroke="#1a1a1a" stroke-width="1.1"/><text transform="translate(676.9,329) scale(1.13,1)" font-size="29" font-weight="700">c</text><line x1="748.7" y1="697.0" x2="756.7" y2="697.0" stroke="#1a1a1a" stroke-width="1.1"/><text x="738.9" y="703.8" font-size="16.5" text-anchor="end" textLength="20.0" lengthAdjust="spacingAndGlyphs">20</text><line x1="748.7" y1="609.0" x2="756.7" y2="609.0" stroke="#1a1a1a" stroke-width="1.1"/><text x="738.9" y="615.8" font-size="16.5" text-anchor="end" textLength="20.0" lengthAdjust="spacingAndGlyphs">40</text><line x1="748.7" y1="521.0" x2="756.7" y2="521.0" stroke="#1a1a1a" stroke-width="1.1"/><text x="738.9" y="527.8" font-size="16.5" text-anchor="end" textLength="20.0" lengthAdjust="spacingAndGlyphs">60</text><line x1="748.7" y1="433.0" x2="756.7" y2="433.0" stroke="#1a1a1a" stroke-width="1.1"/><text x="738.9" y="439.8" font-size="16.5" text-anchor="end" textLength="20.0" lengthAdjust="spacingAndGlyphs">80</text><line x1="748.7" y1="345.0" x2="756.7" y2="345.0" stroke="#1a1a1a" stroke-width="1.1"/><text x="738.9" y="351.8" font-size="16.5" text-anchor="end" textLength="28.5" lengthAdjust="spacingAndGlyphs">100</text><text x="748.7" y="784.3" font-size="16.5" text-anchor="middle" textLength="35.5" lengthAdjust="spacingAndGlyphs">0.01</text><line x1="836.0" y1="763.0" x2="836.0" y2="755.0" stroke="#1a1a1a" stroke-width="1.1"/><text x="836.0" y="784.3" font-size="16.5" text-anchor="middle" textLength="35.5" lengthAdjust="spacingAndGlyphs">0.02</text><line x1="923.2" y1="763.0" x2="923.2" y2="755.0" stroke="#1a1a1a" stroke-width="1.1"/><text x="923.2" y="784.3" font-size="16.5" text-anchor="middle" textLength="35.5" lengthAdjust="spacingAndGlyphs">0.03</text><line x1="1010.5" y1="763.0" x2="1010.5" y2="755.0" stroke="#1a1a1a" stroke-width="1.1"/><text x="1010.5" y="784.3" font-size="16.5" text-anchor="middle" textLength="35.5" lengthAdjust="spacingAndGlyphs">0.04</text><line x1="1097.7" y1="763.0" x2="1097.7" y2="755.0" stroke="#1a1a1a" stroke-width="1.1"/><text x="1097.7" y="784.3" font-size="16.5" text-anchor="middle" textLength="35.5" lengthAdjust="spacingAndGlyphs">0.05</text><text x="1185.0" y="784.3" font-size="16.5" text-anchor="middle" textLength="35.5" lengthAdjust="spacingAndGlyphs">0.06</text><line x1="1258.2" y1="756.0" x2="1266.7" y2="756.0" stroke="#1a1a1a" stroke-width="1.1"/><text x="1274.9" y="761.7" font-size="16.5" textLength="33.0" lengthAdjust="spacingAndGlyphs">900</text><line x1="1258.2" y1="690.0" x2="1266.7" y2="690.0" stroke="#1a1a1a" stroke-width="1.1"/><text x="1274.9" y="695.7" font-size="16.5" textLength="46.5" lengthAdjust="spacingAndGlyphs">1,700</text><line x1="1258.2" y1="623.9" x2="1266.7" y2="623.9" stroke="#1a1a1a" stroke-width="1.1"/><text x="1274.9" y="629.6" font-size="16.5" textLength="46.5" lengthAdjust="spacingAndGlyphs">2,500</text><line x1="1258.2" y1="557.9" x2="1266.7" y2="557.9" stroke="#1a1a1a" stroke-width="1.1"/><text x="1274.9" y="563.6" font-size="16.5" textLength="46.5" lengthAdjust="spacingAndGlyphs">3,300</text><line x1="1258.2" y1="491.8" x2="1266.7" y2="491.8" stroke="#1a1a1a" stroke-width="1.1"/><text x="1274.9" y="497.5" font-size="16.5" textLength="46.5" lengthAdjust="spacingAndGlyphs">4,100</text><line x1="1258.2" y1="425.8" x2="1266.7" y2="425.8" stroke="#1a1a1a" stroke-width="1.1"/><text x="1274.9" y="431.4" font-size="16.5" textLength="46.5" lengthAdjust="spacingAndGlyphs">4,900</text><line x1="1258.2" y1="359.7" x2="1266.7" y2="359.7" stroke="#1a1a1a" stroke-width="1.1"/><text x="1274.9" y="365.4" font-size="16.5" textLength="46.5" lengthAdjust="spacingAndGlyphs">5,700</text><text x="1099.9" y="329" font-size="20" textLength="178.5" lengthAdjust="spacingAndGlyphs">IPA unit cost (US$ t</text><text x="1278.9" y="319.9" font-size="12">&#8722;1</text><text x="1291.2" y="329" font-size="20">)</text><text x="786.2" y="814.7" font-size="20" textLength="341" lengthAdjust="spacingAndGlyphs">Renewable electricity cost (US$ kWh</text><text x="1128.5" y="804.6" font-size="12">&#8722;1</text><text x="1140.9" y="814.7" font-size="20">)</text><g transform="translate(695.1,604.9) rotate(-90)"><text x="0" y="0" font-size="20" textLength="22" lengthAdjust="spacingAndGlyphs">FE</text><text x="21.5" y="5.5" font-size="12.5" textLength="19" lengthAdjust="spacingAndGlyphs">IPA</text><text x="45" y="0" font-size="20" textLength="29.5" lengthAdjust="spacingAndGlyphs">(%)</text></g><line x1="748.7" y1="706.1" x2="1185.0" y2="569.3" stroke="#111" stroke-width="2" stroke-dasharray="5.5 4"/><line x1="895.8" y1="658.3" x2="854.1" y2="529.2" stroke="#3b4a68" stroke-width="1.5"/><polygon points="852.3,523.5 858.1,530.0 854.3,529.6 851.4,532.2" fill="#3b4a68"/><text transform="translate(870.3,521.7) rotate(-17.6)" font-size="16.5" textLength="131.0" lengthAdjust="spacingAndGlyphs">Profitable region</text><text transform="translate(952.0,634.5) rotate(-17.5)" font-size="16.5" textLength="42.0" lengthAdjust="spacingAndGlyphs">1,320</text>
</svg></body></html>
